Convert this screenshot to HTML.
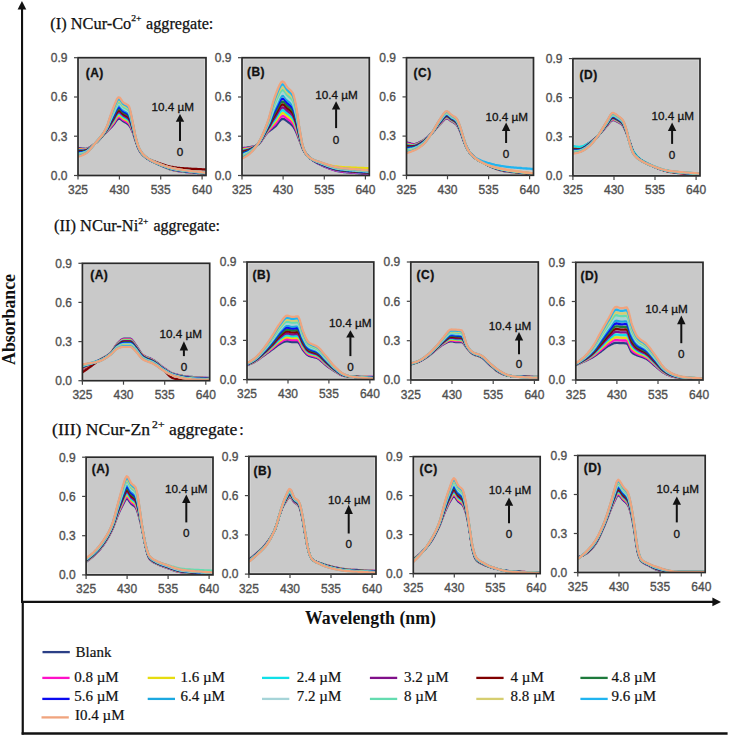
<!DOCTYPE html>
<html><head><meta charset="utf-8"><style>
html,body{margin:0;padding:0;background:#fff;}
svg{display:block;}
.tk{font-family:"Liberation Sans",sans-serif;font-size:12px;fill:#505050;stroke:#505050;stroke-width:0.35px;}
.lab{font-family:"Liberation Sans",sans-serif;font-size:12px;font-weight:bold;fill:#111;stroke:#111;stroke-width:0.3px;letter-spacing:0.5px;}
.an{font-family:"Liberation Sans",sans-serif;font-size:11.7px;fill:#111;stroke:#111;stroke-width:0.3px;}
.hd{font-family:"Liberation Serif",serif;font-size:16px;fill:#111;stroke:#111;stroke-width:0.25px;}
.ax{font-family:"Liberation Serif",serif;font-size:17.8px;font-weight:bold;fill:#111;}
.lg{font-family:"Liberation Serif",serif;font-size:15px;fill:#111;stroke:#111;stroke-width:0.2px;}
</style></head><body>
<svg width="729" height="736" viewBox="0 0 729 736">
<rect width="729" height="736" fill="#fff"/>
<text x="50.3" y="28.6" class="hd" textLength="81.0" lengthAdjust="spacingAndGlyphs">(I) NCur-Co</text><text x="131.2" y="21.0" class="hd" style="font-size:8.6px" textLength="10.3" lengthAdjust="spacingAndGlyphs">2+</text><text x="146.1" y="28.6" class="hd" textLength="67.2" lengthAdjust="spacingAndGlyphs">aggregate:</text>
<text x="54.0" y="231.2" class="hd" textLength="84.3" lengthAdjust="spacingAndGlyphs">(II) NCur-Ni</text><text x="138.2" y="224.4" class="hd" style="font-size:8.6px" textLength="10.2" lengthAdjust="spacingAndGlyphs">2+</text><text x="153.5" y="231.2" class="hd" textLength="66.5" lengthAdjust="spacingAndGlyphs">aggregate:</text>
<text x="52.1" y="435.3" class="hd" textLength="97.9" lengthAdjust="spacingAndGlyphs">(III) NCur-Zn</text><text x="152.1" y="428.0" class="hd" style="font-size:10.2px" textLength="12.4" lengthAdjust="spacingAndGlyphs">2+</text><text x="168.9" y="435.3" class="hd" textLength="68.3" lengthAdjust="spacingAndGlyphs">aggregate</text><text x="239.3" y="435.3" class="hd">:</text>
<rect x="78" y="57.7" width="128.0" height="117.8" fill="#C9C9C9"/>
<rect x="79.5" y="59.2" width="125.0" height="114.8" fill="none" stroke="#D5D5D5" stroke-width="0.9"/>
<clipPath id="c0"><rect x="78" y="57.7" width="128.0" height="117.8"/></clipPath>
<g clip-path="url(#c0)" fill="none" stroke-width="2.3" stroke-linejoin="round">
<path d="M78.0,148.0 79.5,148.2 81.0,148.4 82.5,148.6 84.0,148.7 85.5,148.8 87.0,148.7 88.5,148.1 90.0,147.3 91.5,146.2 93.0,145.1 94.5,143.9 96.0,142.7 97.5,141.4 99.0,139.9 100.5,138.3 102.0,136.6 103.5,135.0 105.0,133.4 106.5,131.9 108.0,130.4 109.5,129.0 111.0,127.5 112.5,125.9 114.0,124.0 115.5,121.8 117.0,119.8 118.5,118.6 120.0,118.8 121.5,119.9 123.0,121.1 124.5,122.0 126.0,122.8 127.5,123.8 129.0,125.0 130.5,127.3 132.0,130.4 133.5,134.2 135.0,139.1 136.5,143.4 138.0,147.5 139.5,150.7 141.0,152.9 142.5,154.7 144.0,156.1 145.5,157.3 147.0,158.4 148.5,159.4 150.0,160.2 151.5,161.0 153.0,161.8 154.5,162.5 156.0,163.2 157.5,163.9 159.0,164.6 160.5,165.3 162.0,166.0 163.5,166.7 165.0,167.3 166.5,168.0 168.0,168.5 169.5,169.1 171.0,169.6 172.5,170.0 174.0,170.4 175.5,170.6 177.0,170.9 178.5,171.1 180.0,171.3 181.5,171.5 183.0,171.7 184.5,171.9 186.0,172.0 187.5,172.2 189.0,172.3 190.5,172.4 192.0,172.6 193.5,172.7 195.0,172.8 196.5,172.9 198.0,173.1 199.5,173.2 201.0,173.3 202.5,173.5 204.0,173.6 205.5,173.7 206.0,173.8" stroke="#2B3F86"/>
<path d="M78.0,148.7 79.5,148.8 81.0,148.9 82.5,149.1 84.0,149.2 85.5,149.2 87.0,149.0 88.5,148.4 90.0,147.5 91.5,146.3 93.0,145.1 94.5,143.9 96.0,142.7 97.5,141.3 99.0,139.8 100.5,138.2 102.0,136.5 103.5,134.8 105.0,133.2 106.5,131.6 108.0,129.9 109.5,128.2 111.0,126.4 112.5,124.7 114.0,122.7 115.5,120.3 117.0,118.2 118.5,117.0 120.0,117.2 121.5,118.4 123.0,119.7 124.5,120.6 126.0,121.4 127.5,122.3 129.0,123.6 130.5,126.1 132.0,129.5 133.5,133.6 135.0,138.7 136.5,143.2 138.0,147.4 139.5,150.6 141.0,152.8 142.5,154.6 144.0,156.0 145.5,157.3 147.0,158.3 148.5,159.3 150.0,160.2 151.5,161.0 153.0,161.7 154.5,162.5 156.0,163.1 157.5,163.8 159.0,164.5 160.5,165.2 162.0,165.9 163.5,166.6 165.0,167.2 166.5,167.8 168.0,168.4 169.5,169.0 171.0,169.4 172.5,169.9 174.0,170.2 175.5,170.5 177.0,170.7 178.5,171.0 180.0,171.2 181.5,171.4 183.0,171.6 184.5,171.7 186.0,171.9 187.5,172.0 189.0,172.2 190.5,172.3 192.0,172.5 193.5,172.6 195.0,172.7 196.5,172.8 198.0,173.0 199.5,173.1 201.0,173.2 202.5,173.4 204.0,173.5 205.5,173.7 206.0,173.7" stroke="#FF10C8"/>
<path d="M78.0,149.4 79.5,149.4 81.0,149.5 82.5,149.6 84.0,149.6 85.5,149.5 87.0,149.3 88.5,148.6 90.0,147.6 91.5,146.5 93.0,145.2 94.5,143.9 96.0,142.7 97.5,141.3 99.0,139.7 100.5,138.1 102.0,136.4 103.5,134.7 105.0,132.9 106.5,131.2 108.0,129.3 109.5,127.4 111.0,125.4 112.5,123.5 114.0,121.3 115.5,118.8 117.0,116.6 118.5,115.4 120.0,115.6 121.5,116.8 123.0,118.2 124.5,119.2 126.0,119.9 127.5,120.9 129.0,122.2 130.5,124.8 132.0,128.6 133.5,133.0 135.0,138.3 136.5,143.0 138.0,147.2 139.5,150.4 141.0,152.7 142.5,154.5 144.0,156.0 145.5,157.2 147.0,158.3 148.5,159.3 150.0,160.1 151.5,160.9 153.0,161.7 154.5,162.4 156.0,163.1 157.5,163.8 159.0,164.5 160.5,165.1 162.0,165.8 163.5,166.5 165.0,167.1 166.5,167.7 168.0,168.3 169.5,168.8 171.0,169.3 172.5,169.7 174.0,170.1 175.5,170.3 177.0,170.6 178.5,170.8 180.0,171.0 181.5,171.2 183.0,171.4 184.5,171.6 186.0,171.8 187.5,171.9 189.0,172.1 190.5,172.2 192.0,172.3 193.5,172.5 195.0,172.6 196.5,172.7 198.0,172.9 199.5,173.0 201.0,173.2 202.5,173.3 204.0,173.4 205.5,173.6 206.0,173.7" stroke="#E6DC10"/>
<path d="M78.0,150.1 79.5,150.1 81.0,150.1 82.5,150.1 84.0,150.0 85.5,149.9 87.0,149.6 88.5,148.8 90.0,147.8 91.5,146.6 93.0,145.3 94.5,143.9 96.0,142.6 97.5,141.2 99.0,139.6 100.5,138.0 102.0,136.3 103.5,134.5 105.0,132.7 106.5,130.8 108.0,128.8 109.5,126.6 111.0,124.4 112.5,122.3 114.0,119.9 115.5,117.3 117.0,115.0 118.5,113.7 120.0,114.0 121.5,115.3 123.0,116.8 124.5,117.7 126.0,118.5 127.5,119.4 129.0,120.7 130.5,123.6 132.0,127.7 133.5,132.4 135.0,137.9 136.5,142.7 138.0,147.0 139.5,150.3 141.0,152.6 142.5,154.4 144.0,155.9 145.5,157.1 147.0,158.2 148.5,159.2 150.0,160.1 151.5,160.9 153.0,161.7 154.5,162.4 156.0,163.0 157.5,163.7 159.0,164.4 160.5,165.1 162.0,165.7 163.5,166.4 165.0,167.0 166.5,167.6 168.0,168.2 169.5,168.7 171.0,169.1 172.5,169.6 174.0,169.9 175.5,170.2 177.0,170.4 178.5,170.7 180.0,170.9 181.5,171.1 183.0,171.3 184.5,171.5 186.0,171.6 187.5,171.8 189.0,171.9 190.5,172.1 192.0,172.2 193.5,172.4 195.0,172.5 196.5,172.6 198.0,172.8 199.5,172.9 201.0,173.1 202.5,173.2 204.0,173.4 205.5,173.5 206.0,173.6" stroke="#10E0E8"/>
<path d="M78.0,150.8 79.5,150.7 81.0,150.6 82.5,150.6 84.0,150.5 85.5,150.3 87.0,149.9 88.5,149.1 90.0,148.0 91.5,146.7 93.0,145.3 94.5,143.9 96.0,142.6 97.5,141.1 99.0,139.6 100.5,137.9 102.0,136.1 103.5,134.3 105.0,132.5 106.5,130.5 108.0,128.2 109.5,125.8 111.0,123.4 112.5,121.0 114.0,118.6 115.5,115.8 117.0,113.4 118.5,112.1 120.0,112.4 121.5,113.8 123.0,115.3 124.5,116.3 126.0,117.1 127.5,118.0 129.0,119.3 130.5,122.4 132.0,126.8 133.5,131.8 135.0,137.6 136.5,142.5 138.0,146.9 139.5,150.2 141.0,152.4 142.5,154.3 144.0,155.8 145.5,157.1 147.0,158.2 148.5,159.1 150.0,160.0 151.5,160.9 153.0,161.6 154.5,162.3 156.0,163.0 157.5,163.7 159.0,164.3 160.5,165.0 162.0,165.7 163.5,166.3 165.0,166.9 166.5,167.5 168.0,168.0 169.5,168.5 171.0,169.0 172.5,169.4 174.0,169.7 175.5,170.0 177.0,170.3 178.5,170.5 180.0,170.7 181.5,171.0 183.0,171.2 184.5,171.3 186.0,171.5 187.5,171.7 189.0,171.8 190.5,172.0 192.0,172.1 193.5,172.3 195.0,172.4 196.5,172.6 198.0,172.7 199.5,172.8 201.0,173.0 202.5,173.1 204.0,173.3 205.5,173.5 206.0,173.5" stroke="#80108A"/>
<path d="M78.0,151.4 79.5,151.3 81.0,151.2 82.5,151.1 84.0,150.9 85.5,150.6 87.0,150.2 88.5,149.3 90.0,148.2 91.5,146.8 93.0,145.4 94.5,144.0 96.0,142.6 97.5,141.1 99.0,139.5 100.5,137.8 102.0,136.0 103.5,134.2 105.0,132.2 106.5,130.1 108.0,127.7 109.5,125.0 111.0,122.3 112.5,119.8 114.0,117.2 115.5,114.3 117.0,111.8 118.5,110.4 120.0,110.8 121.5,112.3 123.0,113.9 124.5,114.9 126.0,115.6 127.5,116.5 129.0,117.9 130.5,121.2 132.0,125.9 133.5,131.1 135.0,137.2 136.5,142.3 138.0,146.7 139.5,150.0 141.0,152.3 142.5,154.2 144.0,155.7 145.5,156.9 147.0,157.9 148.5,158.8 150.0,159.5 151.5,160.2 153.0,160.9 154.5,161.4 156.0,162.0 157.5,162.5 159.0,163.1 160.5,163.6 162.0,164.1 163.5,164.6 165.0,165.1 166.5,165.6 168.0,166.0 169.5,166.4 171.0,166.8 172.5,167.0 174.0,167.3 175.5,167.5 177.0,167.7 178.5,167.8 180.0,168.0 181.5,168.1 183.0,168.2 184.5,168.3 186.0,168.4 187.5,168.5 189.0,168.6 190.5,168.7 192.0,168.8 193.5,168.8 195.0,168.9 196.5,169.0 198.0,169.1 199.5,169.1 201.0,169.2 202.5,169.3 204.0,169.4 205.5,169.5 206.0,169.5" stroke="#800000"/>
<path d="M78.0,152.1 79.5,151.9 81.0,151.8 82.5,151.6 84.0,151.3 85.5,151.0 87.0,150.5 88.5,149.5 90.0,148.3 91.5,146.9 93.0,145.5 94.5,144.0 96.0,142.5 97.5,141.0 99.0,139.4 100.5,137.7 102.0,135.9 103.5,134.0 105.0,132.0 106.5,129.8 108.0,127.1 109.5,124.2 111.0,121.3 112.5,118.6 114.0,115.9 115.5,112.8 117.0,110.2 118.5,108.8 120.0,109.2 121.5,110.7 123.0,112.4 124.5,113.4 126.0,114.2 127.5,115.1 129.0,116.4 130.5,120.0 132.0,125.0 133.5,130.5 135.0,136.8 136.5,142.0 138.0,146.5 139.5,149.9 141.0,152.2 142.5,154.1 144.0,155.7 145.5,156.9 147.0,158.0 148.5,159.0 150.0,159.9 151.5,160.8 153.0,161.5 154.5,162.2 156.0,162.9 157.5,163.6 159.0,164.2 160.5,164.9 162.0,165.5 163.5,166.1 165.0,166.7 166.5,167.3 168.0,167.8 169.5,168.3 171.0,168.7 172.5,169.1 174.0,169.4 175.5,169.7 177.0,170.0 178.5,170.2 180.0,170.5 181.5,170.7 183.0,170.9 184.5,171.1 186.0,171.3 187.5,171.4 189.0,171.6 190.5,171.8 192.0,171.9 193.5,172.1 195.0,172.2 196.5,172.4 198.0,172.5 199.5,172.7 201.0,172.8 202.5,173.0 204.0,173.1 205.5,173.3 206.0,173.4" stroke="#1E7A3C"/>
<path d="M78.0,152.8 79.5,152.5 81.0,152.3 82.5,152.1 84.0,151.8 85.5,151.4 87.0,150.8 88.5,149.8 90.0,148.5 91.5,147.1 93.0,145.5 94.5,144.0 96.0,142.5 97.5,140.9 99.0,139.3 100.5,137.6 102.0,135.8 103.5,133.8 105.0,131.7 106.5,129.4 108.0,126.6 109.5,123.4 111.0,120.3 112.5,117.4 114.0,114.5 115.5,111.3 117.0,108.7 118.5,107.2 120.0,107.5 121.5,109.2 123.0,111.0 124.5,112.0 126.0,112.8 127.5,113.6 129.0,115.0 130.5,118.8 132.0,124.1 133.5,129.9 135.0,136.5 136.5,141.8 138.0,146.4 139.5,149.7 141.0,152.1 142.5,154.0 144.0,155.6 145.5,156.9 147.0,158.0 148.5,159.0 150.0,159.9 151.5,160.7 153.0,161.5 154.5,162.2 156.0,162.9 157.5,163.5 159.0,164.2 160.5,164.8 162.0,165.4 163.5,166.0 165.0,166.6 166.5,167.1 168.0,167.6 169.5,168.1 171.0,168.6 172.5,169.0 174.0,169.3 175.5,169.6 177.0,169.8 178.5,170.1 180.0,170.3 181.5,170.5 183.0,170.8 184.5,170.9 186.0,171.1 187.5,171.3 189.0,171.5 190.5,171.6 192.0,171.8 193.5,172.0 195.0,172.1 196.5,172.3 198.0,172.4 199.5,172.6 201.0,172.7 202.5,172.9 204.0,173.1 205.5,173.2 206.0,173.3" stroke="#0A0AF0"/>
<path d="M78.0,153.5 79.5,153.2 81.0,152.9 82.5,152.6 84.0,152.2 85.5,151.8 87.0,151.1 88.5,150.0 90.0,148.7 91.5,147.2 93.0,145.6 94.5,144.0 96.0,142.5 97.5,140.9 99.0,139.2 100.5,137.5 102.0,135.6 103.5,133.6 105.0,131.5 106.5,129.1 108.0,126.0 109.5,122.6 111.0,119.2 112.5,116.1 114.0,113.1 115.5,109.8 117.0,107.1 118.5,105.5 120.0,105.9 121.5,107.7 123.0,109.5 124.5,110.6 126.0,111.3 127.5,112.2 129.0,113.6 130.5,117.5 132.0,123.2 133.5,129.3 135.0,136.1 136.5,141.6 138.0,146.2 139.5,149.6 141.0,152.0 142.5,153.9 144.0,155.5 145.5,156.8 147.0,157.9 148.5,158.9 150.0,159.8 151.5,160.7 153.0,161.4 154.5,162.1 156.0,162.8 157.5,163.5 159.0,164.1 160.5,164.7 162.0,165.3 163.5,165.9 165.0,166.5 166.5,167.0 168.0,167.5 169.5,168.0 171.0,168.4 172.5,168.8 174.0,169.1 175.5,169.4 177.0,169.7 178.5,170.0 180.0,170.2 181.5,170.4 183.0,170.6 184.5,170.8 186.0,171.0 187.5,171.2 189.0,171.4 190.5,171.5 192.0,171.7 193.5,171.9 195.0,172.0 196.5,172.2 198.0,172.3 199.5,172.5 201.0,172.6 202.5,172.8 204.0,173.0 205.5,173.2 206.0,173.2" stroke="#1CA8E0"/>
<path d="M78.0,154.2 79.5,153.8 81.0,153.4 82.5,153.1 84.0,152.7 85.5,152.1 87.0,151.4 88.5,150.3 90.0,148.9 91.5,147.3 93.0,145.7 94.5,144.0 96.0,142.4 97.5,140.8 99.0,139.2 100.5,137.4 102.0,135.5 103.5,133.5 105.0,131.3 106.5,128.7 108.0,125.5 109.5,121.8 111.0,118.2 112.5,114.9 114.0,111.8 115.5,108.4 117.0,105.5 118.5,103.9 120.0,104.3 121.5,106.2 123.0,108.1 124.5,109.1 126.0,109.9 127.5,110.7 129.0,112.1 130.5,116.3 132.0,122.3 133.5,128.7 135.0,135.7 136.5,141.3 138.0,146.0 139.5,149.5 141.0,151.9 142.5,153.9 144.0,155.4 145.5,156.7 147.0,157.8 148.5,158.9 150.0,159.8 151.5,160.6 153.0,161.4 154.5,162.1 156.0,162.8 157.5,163.4 159.0,164.0 160.5,164.7 162.0,165.3 163.5,165.8 165.0,166.4 166.5,166.9 168.0,167.4 169.5,167.9 171.0,168.3 172.5,168.7 174.0,169.0 175.5,169.3 177.0,169.6 178.5,169.8 180.0,170.0 181.5,170.3 183.0,170.5 184.5,170.7 186.0,170.9 187.5,171.1 189.0,171.2 190.5,171.4 192.0,171.6 193.5,171.7 195.0,171.9 196.5,172.1 198.0,172.2 199.5,172.4 201.0,172.6 202.5,172.7 204.0,172.9 205.5,173.1 206.0,173.2" stroke="#A6D4D8"/>
<path d="M78.0,154.9 79.5,154.4 81.0,154.0 82.5,153.6 84.0,153.1 85.5,152.5 87.0,151.7 88.5,150.5 90.0,149.1 91.5,147.4 93.0,145.7 94.5,144.0 96.0,142.4 97.5,140.8 99.0,139.1 100.5,137.3 102.0,135.4 103.5,133.3 105.0,131.0 106.5,128.4 108.0,124.9 109.5,121.0 111.0,117.2 112.5,113.7 114.0,110.4 115.5,106.9 117.0,103.9 118.5,102.3 120.0,102.7 121.5,104.6 123.0,106.6 124.5,107.7 126.0,108.4 127.5,109.3 129.0,110.7 130.5,115.1 132.0,121.4 133.5,128.1 135.0,135.4 136.5,141.1 138.0,145.8 139.5,149.3 141.0,151.8 142.5,153.8 144.0,155.4 145.5,156.7 147.0,157.8 148.5,158.8 150.0,159.7 151.5,160.6 153.0,161.3 154.5,162.1 156.0,162.7 157.5,163.4 159.0,164.0 160.5,164.6 162.0,165.2 163.5,165.7 165.0,166.3 166.5,166.8 168.0,167.3 169.5,167.7 171.0,168.1 172.5,168.5 174.0,168.8 175.5,169.1 177.0,169.4 178.5,169.7 180.0,169.9 181.5,170.1 183.0,170.4 184.5,170.6 186.0,170.8 187.5,170.9 189.0,171.1 190.5,171.3 192.0,171.5 193.5,171.6 195.0,171.8 196.5,172.0 198.0,172.1 199.5,172.3 201.0,172.5 202.5,172.7 204.0,172.8 205.5,173.0 206.0,173.1" stroke="#64DCB0"/>
<path d="M78.0,155.5 79.5,155.0 81.0,154.6 82.5,154.1 84.0,153.5 85.5,152.9 87.0,152.0 88.5,150.7 90.0,149.2 91.5,147.6 93.0,145.8 94.5,144.1 96.0,142.4 97.5,140.7 99.0,139.0 100.5,137.2 102.0,135.3 103.5,133.1 105.0,130.8 106.5,128.0 108.0,124.4 109.5,120.3 111.0,116.1 112.5,112.5 114.0,109.0 115.5,105.4 117.0,102.3 118.5,100.6 120.0,101.1 121.5,103.1 123.0,105.2 124.5,106.3 126.0,107.0 127.5,107.8 129.0,109.3 130.5,113.9 132.0,120.6 133.5,127.4 135.0,135.0 136.5,140.9 138.0,145.7 139.5,149.2 141.0,151.7 142.5,153.7 144.0,155.3 145.5,156.6 147.0,157.7 148.5,158.8 150.0,159.7 151.5,160.5 153.0,161.3 154.5,162.0 156.0,162.7 157.5,163.3 159.0,163.9 160.5,164.5 162.0,165.1 163.5,165.6 165.0,166.2 166.5,166.7 168.0,167.1 169.5,167.6 171.0,168.0 172.5,168.4 174.0,168.7 175.5,169.0 177.0,169.3 178.5,169.5 180.0,169.8 181.5,170.0 183.0,170.2 184.5,170.4 186.0,170.6 187.5,170.8 189.0,171.0 190.5,171.2 192.0,171.4 193.5,171.5 195.0,171.7 196.5,171.9 198.0,172.0 199.5,172.2 201.0,172.4 202.5,172.6 204.0,172.8 205.5,173.0 206.0,173.0" stroke="#D6CE70"/>
<path d="M78.0,156.2 79.5,155.7 81.0,155.1 82.5,154.6 84.0,154.0 85.5,153.2 87.0,152.3 88.5,151.0 90.0,149.4 91.5,147.7 93.0,145.9 94.5,144.1 96.0,142.3 97.5,140.6 99.0,138.9 100.5,137.1 102.0,135.1 103.5,133.0 105.0,130.6 106.5,127.7 108.0,123.8 109.5,119.5 111.0,115.1 112.5,111.3 114.0,107.7 115.5,103.9 117.0,100.7 118.5,99.0 120.0,99.5 121.5,101.6 123.0,103.8 124.5,104.8 126.0,105.6 127.5,106.4 129.0,107.8 130.5,112.7 132.0,119.7 133.5,126.8 135.0,134.6 136.5,140.6 138.0,145.5 139.5,149.1 141.0,151.5 142.5,153.6 144.0,155.2 145.5,156.5 147.0,157.7 148.5,158.7 150.0,159.6 151.5,160.5 153.0,161.2 154.5,162.0 156.0,162.6 157.5,163.3 159.0,163.9 160.5,164.4 162.0,165.0 163.5,165.6 165.0,166.1 166.5,166.5 168.0,167.0 169.5,167.4 171.0,167.8 172.5,168.2 174.0,168.5 175.5,168.8 177.0,169.1 178.5,169.4 180.0,169.6 181.5,169.9 183.0,170.1 184.5,170.3 186.0,170.5 187.5,170.7 189.0,170.9 190.5,171.1 192.0,171.3 193.5,171.4 195.0,171.6 196.5,171.8 198.0,172.0 199.5,172.1 201.0,172.3 202.5,172.5 204.0,172.7 205.5,172.9 206.0,173.0" stroke="#20B4F0"/>
<path d="M78.0,156.9 79.5,156.3 81.0,155.7 82.5,155.1 84.0,154.4 85.5,153.6 87.0,152.6 88.5,151.2 90.0,149.6 91.5,147.8 93.0,145.9 94.5,144.1 96.0,142.3 97.5,140.6 99.0,138.8 100.5,137.0 102.0,135.0 103.5,132.8 105.0,130.3 106.5,127.3 108.0,123.3 109.5,118.7 111.0,114.1 112.5,110.0 114.0,106.3 115.5,102.4 117.0,99.1 118.5,97.3 120.0,97.8 121.5,100.1 123.0,102.3 124.5,103.4 126.0,104.1 127.5,104.9 129.0,106.4 130.5,111.4 132.0,118.8 133.5,126.2 135.0,134.2 136.5,140.4 138.0,145.3 139.5,148.9 141.0,151.4 142.5,153.5 144.0,155.1 145.5,156.4 147.0,157.6 148.5,158.6 150.0,159.6 151.5,160.4 153.0,161.2 154.5,161.9 156.0,162.6 157.5,163.2 159.0,163.8 160.5,164.4 162.0,164.9 163.5,165.5 165.0,166.0 166.5,166.4 168.0,166.9 169.5,167.3 171.0,167.7 172.5,168.1 174.0,168.4 175.5,168.7 177.0,169.0 178.5,169.2 180.0,169.5 181.5,169.7 183.0,170.0 184.5,170.2 186.0,170.4 187.5,170.6 189.0,170.8 190.5,171.0 192.0,171.1 193.5,171.3 195.0,171.5 196.5,171.7 198.0,171.9 199.5,172.0 201.0,172.2 202.5,172.4 204.0,172.6 205.5,172.8 206.0,172.9" stroke="#F0A47E"/>
</g>
<rect x="78" y="57.7" width="128.0" height="117.8" fill="none" stroke="#2a2a2a" stroke-width="1.7"/>
<line x1="74" y1="175.5" x2="78" y2="175.5" stroke="#444" stroke-width="1.2"/>
<text x="67.5" y="179.8" class="tk" text-anchor="end">0.0</text>
<line x1="74" y1="136.2" x2="78" y2="136.2" stroke="#444" stroke-width="1.2"/>
<text x="67.5" y="140.5" class="tk" text-anchor="end">0.3</text>
<line x1="74" y1="97.0" x2="78" y2="97.0" stroke="#444" stroke-width="1.2"/>
<text x="67.5" y="101.3" class="tk" text-anchor="end">0.6</text>
<line x1="74" y1="57.7" x2="78" y2="57.7" stroke="#444" stroke-width="1.2"/>
<text x="67.5" y="62.0" class="tk" text-anchor="end">0.9</text>
<line x1="78.0" y1="175.5" x2="78.0" y2="179.5" stroke="#444" stroke-width="1.2"/>
<text x="78.0" y="194.0" class="tk" text-anchor="middle">325</text>
<line x1="119.4" y1="175.5" x2="119.4" y2="179.5" stroke="#444" stroke-width="1.2"/>
<text x="119.4" y="194.0" class="tk" text-anchor="middle">430</text>
<line x1="160.7" y1="175.5" x2="160.7" y2="179.5" stroke="#444" stroke-width="1.2"/>
<text x="160.7" y="194.0" class="tk" text-anchor="middle">535</text>
<line x1="202.1" y1="175.5" x2="202.1" y2="179.5" stroke="#444" stroke-width="1.2"/>
<text x="202.1" y="194.0" class="tk" text-anchor="middle">640</text>
<text x="85.7" y="77" class="lab">(A)</text>
<text x="172.7" y="110.6" class="an" text-anchor="middle">10.4 µM</text>
<path d="M175.8,121.7 L180.0,113.9 L184.2,121.7 Z" fill="#111"/>
<line x1="180" y1="121.2" x2="180" y2="141.1" stroke="#111" stroke-width="2"/>
<text x="180" y="155.9" class="an" text-anchor="middle">0</text>
<rect x="242" y="57.7" width="127.3" height="117.8" fill="#C9C9C9"/>
<rect x="243.5" y="59.2" width="124.3" height="114.8" fill="none" stroke="#D5D5D5" stroke-width="0.9"/>
<clipPath id="c1"><rect x="242" y="57.7" width="127.3" height="117.8"/></clipPath>
<g clip-path="url(#c1)" fill="none" stroke-width="2.3" stroke-linejoin="round">
<path d="M242.0,148.1 243.5,148.0 245.0,147.8 246.5,147.7 248.0,147.5 249.5,147.3 251.0,147.0 252.5,146.7 254.0,146.4 255.5,145.9 257.0,145.3 258.5,144.3 260.0,142.7 261.5,140.7 263.0,138.5 264.5,136.3 266.0,134.2 267.5,132.5 269.0,131.2 270.5,130.1 272.0,129.0 273.5,127.9 275.0,126.7 276.5,125.1 278.0,123.1 279.5,121.1 281.0,119.6 282.5,118.8 284.0,119.1 285.5,120.0 287.0,121.1 288.5,122.2 290.0,123.3 291.5,124.6 293.0,126.2 294.5,128.6 296.0,131.6 297.5,135.0 299.0,139.0 300.5,142.9 302.0,146.9 303.5,150.2 305.0,152.6 306.5,154.6 308.0,156.3 309.5,157.7 311.0,158.9 312.5,160.1 314.0,161.1 315.5,162.1 317.0,162.9 318.5,163.7 320.0,164.5 321.5,165.2 323.0,165.9 324.5,166.6 326.0,167.2 327.5,167.8 329.0,168.4 330.5,169.0 332.0,169.5 333.5,170.0 335.0,170.4 336.5,170.8 338.0,171.1 339.5,171.4 341.0,171.6 342.5,171.8 344.0,172.0 345.5,172.1 347.0,172.3 348.5,172.4 350.0,172.6 351.5,172.7 353.0,172.8 354.5,172.9 356.0,173.0 357.5,173.2 359.0,173.3 360.5,173.4 362.0,173.5 363.5,173.6 365.0,173.7 366.5,173.8 368.0,173.9 369.3,174.1" stroke="#2B3F86"/>
<path d="M242.0,149.0 243.5,148.7 245.0,148.5 246.5,148.3 248.0,148.1 249.5,147.8 251.0,147.4 252.5,147.1 254.0,146.6 255.5,146.0 257.0,145.3 258.5,144.2 260.0,142.5 261.5,140.5 263.0,138.2 264.5,135.8 266.0,133.6 267.5,131.7 269.0,130.2 270.5,128.7 272.0,127.3 273.5,125.8 275.0,124.4 276.5,122.6 278.0,120.4 279.5,118.3 281.0,116.7 282.5,116.0 284.0,116.3 285.5,117.3 287.0,118.5 288.5,119.6 290.0,120.7 291.5,122.0 293.0,123.7 294.5,126.3 296.0,129.6 297.5,133.4 299.0,137.9 300.5,142.2 302.0,146.6 303.5,150.1 305.0,152.5 306.5,154.6 308.0,156.3 309.5,157.7 311.0,158.9 312.5,160.0 314.0,161.0 315.5,161.9 317.0,162.8 318.5,163.6 320.0,164.3 321.5,165.0 323.0,165.7 324.5,166.3 326.0,167.0 327.5,167.6 329.0,168.2 330.5,168.7 332.0,169.3 333.5,169.7 335.0,170.2 336.5,170.5 338.0,170.8 339.5,171.1 341.0,171.3 342.5,171.5 344.0,171.7 345.5,171.8 347.0,172.0 348.5,172.2 350.0,172.3 351.5,172.4 353.0,172.5 354.5,172.7 356.0,172.8 357.5,172.9 359.0,173.0 360.5,173.1 362.0,173.2 363.5,173.3 365.0,173.4 366.5,173.5 368.0,173.7 369.3,173.8" stroke="#FF10C8"/>
<path d="M242.0,149.8 243.5,149.5 245.0,149.2 246.5,148.9 248.0,148.6 249.5,148.3 251.0,147.9 252.5,147.4 254.0,146.8 255.5,146.1 257.0,145.3 258.5,144.1 260.0,142.3 261.5,140.2 263.0,137.8 264.5,135.4 266.0,133.0 267.5,131.0 269.0,129.1 270.5,127.3 272.0,125.5 273.5,123.8 275.0,122.0 276.5,120.0 278.0,117.7 279.5,115.6 281.0,113.9 282.5,113.1 284.0,113.4 285.5,114.6 287.0,115.9 288.5,117.0 290.0,118.1 291.5,119.5 293.0,121.2 294.5,124.0 296.0,127.6 297.5,131.9 299.0,136.8 300.5,141.6 302.0,146.3 303.5,149.9 305.0,152.5 306.5,154.6 308.0,156.3 309.5,157.5 311.0,158.6 312.5,159.5 314.0,160.3 315.5,161.0 317.0,161.6 318.5,162.2 320.0,162.7 321.5,163.2 323.0,163.6 324.5,164.1 326.0,164.5 327.5,164.9 329.0,165.2 330.5,165.5 332.0,165.8 333.5,166.1 335.0,166.3 336.5,166.5 338.0,166.7 339.5,166.9 341.0,167.0 342.5,167.1 344.0,167.2 345.5,167.3 347.0,167.3 348.5,167.4 350.0,167.5 351.5,167.6 353.0,167.6 354.5,167.7 356.0,167.7 357.5,167.8 359.0,167.9 360.5,167.9 362.0,168.0 363.5,168.0 365.0,168.1 366.5,168.1 368.0,168.2 369.3,168.3" stroke="#E6DC10"/>
<path d="M242.0,150.6 243.5,150.3 245.0,149.9 246.5,149.6 248.0,149.2 249.5,148.8 251.0,148.3 252.5,147.7 254.0,147.0 255.5,146.2 257.0,145.3 258.5,144.0 260.0,142.1 261.5,139.9 263.0,137.4 264.5,134.9 266.0,132.4 267.5,130.2 269.0,128.1 270.5,126.0 272.0,123.8 273.5,121.7 275.0,119.7 276.5,117.5 278.0,115.1 279.5,112.8 281.0,111.0 282.5,110.2 284.0,110.6 285.5,111.9 287.0,113.3 288.5,114.4 290.0,115.6 291.5,116.9 293.0,118.7 294.5,121.7 296.0,125.6 297.5,130.3 299.0,135.8 300.5,140.9 302.0,146.0 303.5,149.8 305.0,152.4 306.5,154.6 308.0,156.3 309.5,157.7 311.0,158.8 312.5,159.9 314.0,160.8 315.5,161.7 317.0,162.5 318.5,163.2 320.0,163.9 321.5,164.6 323.0,165.2 324.5,165.9 326.0,166.5 327.5,167.1 329.0,167.7 330.5,168.2 332.0,168.7 333.5,169.2 335.0,169.6 336.5,170.0 338.0,170.3 339.5,170.5 341.0,170.7 342.5,170.9 344.0,171.1 345.5,171.3 347.0,171.4 348.5,171.6 350.0,171.7 351.5,171.8 353.0,172.0 354.5,172.1 356.0,172.2 357.5,172.3 359.0,172.4 360.5,172.5 362.0,172.6 363.5,172.7 365.0,172.9 366.5,173.0 368.0,173.1 369.3,173.2" stroke="#10E0E8"/>
<path d="M242.0,151.4 243.5,151.0 245.0,150.6 246.5,150.2 248.0,149.8 249.5,149.3 251.0,148.7 252.5,148.0 254.0,147.2 255.5,146.3 257.0,145.3 258.5,143.9 260.0,141.9 261.5,139.6 263.0,137.1 264.5,134.4 266.0,131.8 267.5,129.4 269.0,127.1 270.5,124.6 272.0,122.0 273.5,119.6 275.0,117.4 276.5,115.0 278.0,112.4 279.5,110.0 281.0,108.2 282.5,107.3 284.0,107.8 285.5,109.1 287.0,110.7 288.5,111.9 290.0,113.0 291.5,114.3 293.0,116.1 294.5,119.4 296.0,123.6 297.5,128.7 299.0,134.7 300.5,140.2 302.0,145.6 303.5,149.7 305.0,152.4 306.5,154.6 308.0,156.3 309.5,157.6 311.0,158.8 312.5,159.8 314.0,160.8 315.5,161.6 317.0,162.4 318.5,163.1 320.0,163.7 321.5,164.4 323.0,165.0 324.5,165.7 326.0,166.3 327.5,166.9 329.0,167.4 330.5,168.0 332.0,168.5 333.5,168.9 335.0,169.3 336.5,169.7 338.0,170.0 339.5,170.2 341.0,170.4 342.5,170.6 344.0,170.8 345.5,171.0 347.0,171.2 348.5,171.3 350.0,171.4 351.5,171.6 353.0,171.7 354.5,171.8 356.0,171.9 357.5,172.0 359.0,172.1 360.5,172.2 362.0,172.3 363.5,172.5 365.0,172.6 366.5,172.7 368.0,172.8 369.3,172.9" stroke="#80108A"/>
<path d="M242.0,152.3 243.5,151.8 245.0,151.3 246.5,150.9 248.0,150.4 249.5,149.8 251.0,149.1 252.5,148.3 254.0,147.5 255.5,146.5 257.0,145.3 258.5,143.7 260.0,141.7 261.5,139.3 263.0,136.7 264.5,134.0 266.0,131.2 267.5,128.6 269.0,126.1 270.5,123.2 272.0,120.3 273.5,117.5 275.0,115.0 276.5,112.5 278.0,109.8 279.5,107.2 281.0,105.3 282.5,104.4 284.0,104.9 285.5,106.4 287.0,108.1 288.5,109.3 290.0,110.4 291.5,111.8 293.0,113.6 294.5,117.0 296.0,121.6 297.5,127.1 299.0,133.7 300.5,139.6 302.0,145.3 303.5,149.5 305.0,152.3 306.5,154.6 308.0,156.3 309.5,157.6 311.0,158.8 312.5,159.8 314.0,160.7 315.5,161.5 317.0,162.2 318.5,162.9 320.0,163.5 321.5,164.2 323.0,164.8 324.5,165.4 326.0,166.0 327.5,166.6 329.0,167.2 330.5,167.7 332.0,168.2 333.5,168.6 335.0,169.1 336.5,169.4 338.0,169.7 339.5,170.0 341.0,170.2 342.5,170.4 344.0,170.5 345.5,170.7 347.0,170.9 348.5,171.0 350.0,171.2 351.5,171.3 353.0,171.4 354.5,171.5 356.0,171.6 357.5,171.7 359.0,171.8 360.5,172.0 362.0,172.1 363.5,172.2 365.0,172.3 366.5,172.4 368.0,172.5 369.3,172.7" stroke="#800000"/>
<path d="M242.0,153.1 243.5,152.6 245.0,152.0 246.5,151.5 248.0,150.9 249.5,150.3 251.0,149.5 252.5,148.7 254.0,147.7 255.5,146.6 257.0,145.3 258.5,143.6 260.0,141.5 261.5,139.0 263.0,136.3 264.5,133.5 266.0,130.6 267.5,127.8 269.0,125.0 270.5,121.9 272.0,118.6 273.5,115.4 275.0,112.7 276.5,110.0 278.0,107.1 279.5,104.5 281.0,102.5 282.5,101.6 284.0,102.1 285.5,103.7 287.0,105.4 288.5,106.7 290.0,107.9 291.5,109.2 293.0,111.1 294.5,114.7 296.0,119.6 297.5,125.6 299.0,132.6 300.5,138.9 302.0,145.0 303.5,149.4 305.0,152.2 306.5,154.6 308.0,156.3 309.5,157.6 311.0,158.7 312.5,159.7 314.0,160.6 315.5,161.4 317.0,162.1 318.5,162.7 320.0,163.4 321.5,164.0 323.0,164.6 324.5,165.2 326.0,165.8 327.5,166.4 329.0,166.9 330.5,167.4 332.0,167.9 333.5,168.4 335.0,168.8 336.5,169.1 338.0,169.4 339.5,169.7 341.0,169.9 342.5,170.1 344.0,170.3 345.5,170.4 347.0,170.6 348.5,170.7 350.0,170.9 351.5,171.0 353.0,171.1 354.5,171.2 356.0,171.3 357.5,171.5 359.0,171.6 360.5,171.7 362.0,171.8 363.5,171.9 365.0,172.0 366.5,172.1 368.0,172.3 369.3,172.4" stroke="#1E7A3C"/>
<path d="M242.0,153.9 243.5,153.3 245.0,152.7 246.5,152.1 248.0,151.5 249.5,150.8 251.0,150.0 252.5,149.0 254.0,147.9 255.5,146.7 257.0,145.3 258.5,143.5 260.0,141.3 261.5,138.8 263.0,136.0 264.5,133.0 266.0,130.0 267.5,127.1 269.0,124.0 270.5,120.5 272.0,116.8 273.5,113.3 275.0,110.4 276.5,107.5 278.0,104.4 279.5,101.7 281.0,99.6 282.5,98.7 284.0,99.3 285.5,100.9 287.0,102.8 288.5,104.2 290.0,105.3 291.5,106.6 293.0,108.6 294.5,112.4 296.0,117.7 297.5,124.0 299.0,131.6 300.5,138.3 302.0,144.7 303.5,149.3 305.0,152.2 306.5,154.5 308.0,156.3 309.5,157.6 311.0,158.7 312.5,159.6 314.0,160.5 315.5,161.2 317.0,161.9 318.5,162.6 320.0,163.2 321.5,163.8 323.0,164.4 324.5,165.0 326.0,165.6 327.5,166.1 329.0,166.7 330.5,167.2 332.0,167.7 333.5,168.1 335.0,168.5 336.5,168.9 338.0,169.2 339.5,169.4 341.0,169.6 342.5,169.8 344.0,170.0 345.5,170.1 347.0,170.3 348.5,170.4 350.0,170.6 351.5,170.7 353.0,170.8 354.5,170.9 356.0,171.1 357.5,171.2 359.0,171.3 360.5,171.4 362.0,171.5 363.5,171.6 365.0,171.7 366.5,171.8 368.0,172.0 369.3,172.1" stroke="#0A0AF0"/>
<path d="M242.0,154.7 243.5,154.1 245.0,153.4 246.5,152.8 248.0,152.1 249.5,151.3 251.0,150.4 252.5,149.3 254.0,148.1 255.5,146.8 257.0,145.3 258.5,143.4 260.0,141.1 261.5,138.5 263.0,135.6 264.5,132.5 266.0,129.4 267.5,126.3 269.0,123.0 270.5,119.1 272.0,115.1 273.5,111.2 275.0,108.0 276.5,105.0 278.0,101.8 279.5,98.9 281.0,96.8 282.5,95.8 284.0,96.4 285.5,98.2 287.0,100.2 288.5,101.6 290.0,102.7 291.5,104.1 293.0,106.1 294.5,110.1 296.0,115.7 297.5,122.4 299.0,130.5 300.5,137.6 302.0,144.4 303.5,149.1 305.0,152.1 306.5,154.5 308.0,156.3 309.5,157.6 311.0,158.7 312.5,159.6 314.0,160.4 315.5,161.1 317.0,161.8 318.5,162.4 320.0,163.0 321.5,163.6 323.0,164.2 324.5,164.7 326.0,165.3 327.5,165.9 329.0,166.4 330.5,166.9 332.0,167.4 333.5,167.8 335.0,168.2 336.5,168.6 338.0,168.9 339.5,169.1 341.0,169.3 342.5,169.5 344.0,169.7 345.5,169.9 347.0,170.0 348.5,170.2 350.0,170.3 351.5,170.4 353.0,170.5 354.5,170.7 356.0,170.8 357.5,170.9 359.0,171.0 360.5,171.1 362.0,171.2 363.5,171.3 365.0,171.4 366.5,171.6 368.0,171.7 369.3,171.8" stroke="#1CA8E0"/>
<path d="M242.0,155.6 243.5,154.8 245.0,154.1 246.5,153.4 248.0,152.7 249.5,151.8 251.0,150.8 252.5,149.6 254.0,148.4 255.5,146.9 257.0,145.3 258.5,143.3 260.0,140.9 261.5,138.2 263.0,135.2 264.5,132.1 266.0,128.8 267.5,125.5 269.0,122.0 270.5,117.8 272.0,113.3 273.5,109.1 275.0,105.7 276.5,102.4 278.0,99.1 279.5,96.1 281.0,93.9 282.5,92.9 284.0,93.6 285.5,95.5 287.0,97.6 288.5,99.0 290.0,100.2 291.5,101.5 293.0,103.5 294.5,107.8 296.0,113.7 297.5,120.8 299.0,129.4 300.5,137.0 302.0,144.0 303.5,149.0 305.0,152.1 306.5,154.5 308.0,156.3 309.5,157.6 311.0,158.6 312.5,159.5 314.0,160.3 315.5,161.0 317.0,161.6 318.5,162.2 320.0,162.8 321.5,163.4 323.0,163.9 324.5,164.5 326.0,165.1 327.5,165.6 329.0,166.2 330.5,166.7 332.0,167.1 333.5,167.6 335.0,168.0 336.5,168.3 338.0,168.6 339.5,168.8 341.0,169.0 342.5,169.2 344.0,169.4 345.5,169.6 347.0,169.7 348.5,169.9 350.0,170.0 351.5,170.1 353.0,170.3 354.5,170.4 356.0,170.5 357.5,170.6 359.0,170.7 360.5,170.8 362.0,170.9 363.5,171.0 365.0,171.2 366.5,171.3 368.0,171.4 369.3,171.5" stroke="#A6D4D8"/>
<path d="M242.0,156.4 243.5,155.6 245.0,154.8 246.5,154.1 248.0,153.2 249.5,152.3 251.0,151.2 252.5,150.0 254.0,148.6 255.5,147.0 257.0,145.3 258.5,143.2 260.0,140.7 261.5,137.9 263.0,134.8 264.5,131.6 266.0,128.2 267.5,124.7 269.0,120.9 270.5,116.4 272.0,111.6 273.5,107.0 275.0,103.3 276.5,99.9 278.0,96.5 279.5,93.4 281.0,91.1 282.5,90.1 284.0,90.7 285.5,92.8 287.0,95.0 288.5,96.4 290.0,97.6 291.5,98.9 293.0,101.0 294.5,105.5 296.0,111.7 297.5,119.3 299.0,128.4 300.5,136.3 302.0,143.7 303.5,148.9 305.0,152.0 306.5,154.5 308.0,156.3 309.5,157.6 311.0,158.6 312.5,159.5 314.0,160.2 315.5,160.9 317.0,161.5 318.5,162.0 320.0,162.6 321.5,163.2 323.0,163.7 324.5,164.3 326.0,164.8 327.5,165.4 329.0,165.9 330.5,166.4 332.0,166.9 333.5,167.3 335.0,167.7 336.5,168.0 338.0,168.3 339.5,168.5 341.0,168.8 342.5,168.9 344.0,169.1 345.5,169.3 347.0,169.4 348.5,169.6 350.0,169.7 351.5,169.9 353.0,170.0 354.5,170.1 356.0,170.2 357.5,170.3 359.0,170.4 360.5,170.5 362.0,170.7 363.5,170.8 365.0,170.9 366.5,171.0 368.0,171.1 369.3,171.2" stroke="#64DCB0"/>
<path d="M242.0,157.2 243.5,156.4 245.0,155.5 246.5,154.7 248.0,153.8 249.5,152.8 251.0,151.6 252.5,150.3 254.0,148.8 255.5,147.1 257.0,145.2 258.5,143.0 260.0,140.5 261.5,137.6 263.0,134.5 264.5,131.1 266.0,127.6 267.5,124.0 269.0,119.9 270.5,115.0 272.0,109.8 273.5,105.0 275.0,101.0 276.5,97.4 278.0,93.8 279.5,90.6 281.0,88.2 282.5,87.2 284.0,87.9 285.5,90.0 287.0,92.3 288.5,93.9 290.0,95.0 291.5,96.4 293.0,98.5 294.5,103.2 296.0,109.7 297.5,117.7 299.0,127.3 300.5,135.6 302.0,143.4 303.5,148.7 305.0,152.0 306.5,154.5 308.0,156.4 309.5,157.6 311.0,158.6 312.5,159.4 314.0,160.1 315.5,160.8 317.0,161.3 318.5,161.9 320.0,162.4 321.5,163.0 323.0,163.5 324.5,164.1 326.0,164.6 327.5,165.1 329.0,165.6 330.5,166.1 332.0,166.6 333.5,167.0 335.0,167.4 336.5,167.7 338.0,168.0 339.5,168.3 341.0,168.5 342.5,168.7 344.0,168.8 345.5,169.0 347.0,169.2 348.5,169.3 350.0,169.4 351.5,169.6 353.0,169.7 354.5,169.8 356.0,169.9 357.5,170.0 359.0,170.1 360.5,170.3 362.0,170.4 363.5,170.5 365.0,170.6 366.5,170.7 368.0,170.8 369.3,171.0" stroke="#D6CE70"/>
<path d="M242.0,158.1 243.5,157.1 245.0,156.2 246.5,155.3 248.0,154.4 249.5,153.3 251.0,152.0 252.5,150.6 254.0,149.0 255.5,147.2 257.0,145.2 258.5,142.9 260.0,140.3 261.5,137.3 263.0,134.1 264.5,130.6 266.0,127.0 267.5,123.2 269.0,118.9 270.5,113.6 272.0,108.1 273.5,102.9 275.0,98.7 276.5,94.9 278.0,91.1 279.5,87.8 281.0,85.4 282.5,84.3 284.0,85.1 285.5,87.3 287.0,89.7 288.5,91.3 290.0,92.5 291.5,93.8 293.0,96.0 294.5,100.8 296.0,107.7 297.5,116.1 299.0,126.3 300.5,135.0 302.0,143.1 303.5,148.6 305.0,151.9 306.5,154.5 308.0,156.4 309.5,157.6 311.0,158.5 312.5,159.3 314.0,160.0 315.5,160.7 317.0,161.2 318.5,161.7 320.0,162.2 321.5,162.7 323.0,163.3 324.5,163.8 326.0,164.4 327.5,164.9 329.0,165.4 330.5,165.9 332.0,166.3 333.5,166.7 335.0,167.1 336.5,167.5 338.0,167.7 339.5,168.0 341.0,168.2 342.5,168.4 344.0,168.6 345.5,168.7 347.0,168.9 348.5,169.0 350.0,169.2 351.5,169.3 353.0,169.4 354.5,169.5 356.0,169.6 357.5,169.8 359.0,169.9 360.5,170.0 362.0,170.1 363.5,170.2 365.0,170.3 366.5,170.4 368.0,170.6 369.3,170.7" stroke="#20B4F0"/>
<path d="M242.0,158.9 243.5,157.9 245.0,156.9 246.5,156.0 248.0,155.0 249.5,153.8 251.0,152.5 252.5,150.9 254.0,149.2 255.5,147.3 257.0,145.2 258.5,142.8 260.0,140.1 261.5,137.0 263.0,133.7 264.5,130.2 266.0,126.4 267.5,122.4 269.0,117.9 270.5,112.3 272.0,106.3 273.5,100.8 275.0,96.3 276.5,92.4 278.0,88.5 279.5,85.1 281.0,82.5 282.5,81.4 284.0,82.2 285.5,84.6 287.0,87.1 288.5,88.7 290.0,89.9 291.5,91.3 293.0,93.4 294.5,98.5 296.0,105.7 297.5,114.5 299.0,125.2 300.5,134.3 302.0,142.7 303.5,148.5 305.0,151.9 306.5,154.5 308.0,156.4 309.5,157.6 311.0,158.5 312.5,159.3 314.0,160.0 315.5,160.5 317.0,161.1 318.5,161.5 320.0,162.0 321.5,162.5 323.0,163.1 324.5,163.6 326.0,164.1 327.5,164.6 329.0,165.1 330.5,165.6 332.0,166.1 333.5,166.5 335.0,166.8 336.5,167.2 338.0,167.5 339.5,167.7 341.0,167.9 342.5,168.1 344.0,168.3 345.5,168.4 347.0,168.6 348.5,168.7 350.0,168.9 351.5,169.0 353.0,169.1 354.5,169.2 356.0,169.4 357.5,169.5 359.0,169.6 360.5,169.7 362.0,169.8 363.5,169.9 365.0,170.0 366.5,170.2 368.0,170.3 369.3,170.4" stroke="#F0A47E"/>
</g>
<rect x="242" y="57.7" width="127.3" height="117.8" fill="none" stroke="#2a2a2a" stroke-width="1.7"/>
<line x1="238" y1="175.5" x2="242" y2="175.5" stroke="#444" stroke-width="1.2"/>
<text x="231.5" y="179.8" class="tk" text-anchor="end">0.0</text>
<line x1="238" y1="136.2" x2="242" y2="136.2" stroke="#444" stroke-width="1.2"/>
<text x="231.5" y="140.5" class="tk" text-anchor="end">0.3</text>
<line x1="238" y1="97.0" x2="242" y2="97.0" stroke="#444" stroke-width="1.2"/>
<text x="231.5" y="101.3" class="tk" text-anchor="end">0.6</text>
<line x1="238" y1="57.7" x2="242" y2="57.7" stroke="#444" stroke-width="1.2"/>
<text x="231.5" y="62.0" class="tk" text-anchor="end">0.9</text>
<line x1="242.0" y1="175.5" x2="242.0" y2="179.5" stroke="#444" stroke-width="1.2"/>
<text x="242.0" y="194.0" class="tk" text-anchor="middle">325</text>
<line x1="283.1" y1="175.5" x2="283.1" y2="179.5" stroke="#444" stroke-width="1.2"/>
<text x="283.1" y="194.0" class="tk" text-anchor="middle">430</text>
<line x1="324.3" y1="175.5" x2="324.3" y2="179.5" stroke="#444" stroke-width="1.2"/>
<text x="324.3" y="194.0" class="tk" text-anchor="middle">535</text>
<line x1="365.4" y1="175.5" x2="365.4" y2="179.5" stroke="#444" stroke-width="1.2"/>
<text x="365.4" y="194.0" class="tk" text-anchor="middle">640</text>
<text x="246.9" y="76.2" class="lab">(B)</text>
<text x="336.6" y="99.4" class="an" text-anchor="middle">10.4 µM</text>
<path d="M331.9,109.6 L336.1,101.3 L340.3,109.6 Z" fill="#111"/>
<line x1="336.1" y1="109.1" x2="336.1" y2="128.1" stroke="#111" stroke-width="2"/>
<text x="336.1" y="143.5" class="an" text-anchor="middle">0</text>
<rect x="406.5" y="57.7" width="127.0" height="117.6" fill="#C9C9C9"/>
<rect x="408.0" y="59.2" width="124.0" height="114.6" fill="none" stroke="#D5D5D5" stroke-width="0.9"/>
<clipPath id="c2"><rect x="406.5" y="57.7" width="127.0" height="117.6"/></clipPath>
<g clip-path="url(#c2)" fill="none" stroke-width="2.3" stroke-linejoin="round">
<path d="M406.5,142.4 408.0,142.8 409.5,143.2 411.0,143.7 412.5,144.0 414.0,144.1 415.5,143.9 417.0,143.4 418.5,142.8 420.0,142.0 421.5,141.2 423.0,140.4 424.5,139.4 426.0,138.3 427.5,137.1 429.0,135.8 430.5,134.4 432.0,133.0 433.5,131.5 435.0,129.8 436.5,128.0 438.0,126.3 439.5,124.7 441.0,123.2 442.5,121.5 444.0,119.9 445.5,118.7 447.0,118.3 448.5,119.0 450.0,120.2 451.5,121.3 453.0,122.1 454.5,123.0 456.0,124.1 457.5,125.9 459.0,128.7 460.5,132.0 462.0,136.2 463.5,140.4 465.0,144.0 466.5,147.3 468.0,149.9 469.5,152.2 471.0,154.1 472.5,155.7 474.0,157.0 475.5,158.2 477.0,159.2 478.5,160.2 480.0,161.1 481.5,162.0 483.0,162.8 484.5,163.5 486.0,164.3 487.5,165.0 489.0,165.8 490.5,166.5 492.0,167.2 493.5,167.8 495.0,168.5 496.5,169.0 498.0,169.6 499.5,170.0 501.0,170.4 502.5,170.8 504.0,171.0 505.5,171.3 507.0,171.5 508.5,171.7 510.0,171.9 511.5,172.0 513.0,172.2 514.5,172.3 516.0,172.5 517.5,172.6 519.0,172.8 520.5,172.9 522.0,173.0 523.5,173.1 525.0,173.2 526.5,173.4 528.0,173.5 529.5,173.6 531.0,173.7 532.5,173.9 533.5,174.0" stroke="#2B3F86"/>
<path d="M406.5,143.2 408.0,143.5 409.5,143.9 411.0,144.3 412.5,144.5 414.0,144.6 415.5,144.3 417.0,143.8 418.5,143.2 420.0,142.4 421.5,141.5 423.0,140.7 424.5,139.7 426.0,138.6 427.5,137.3 429.0,135.9 430.5,134.5 432.0,133.0 433.5,131.4 435.0,129.6 436.5,127.8 438.0,126.0 439.5,124.3 441.0,122.8 442.5,121.0 444.0,119.4 445.5,118.2 447.0,117.8 448.5,118.5 450.0,119.7 451.5,120.8 453.0,121.6 454.5,122.5 456.0,123.6 457.5,125.4 459.0,128.3 460.5,131.6 462.0,135.9 463.5,140.2 465.0,143.9 466.5,147.3 468.0,149.9 469.5,152.2 471.0,154.1 472.5,155.7 474.0,157.0 475.5,158.2 477.0,159.2 478.5,160.2 480.0,161.1 481.5,162.0 483.0,162.8 484.5,163.5 486.0,164.3 487.5,165.0 489.0,165.7 490.5,166.4 492.0,167.1 493.5,167.7 495.0,168.4 496.5,168.9 498.0,169.4 499.5,169.9 501.0,170.3 502.5,170.6 504.0,170.9 505.5,171.1 507.0,171.3 508.5,171.5 510.0,171.7 511.5,171.9 513.0,172.1 514.5,172.2 516.0,172.4 517.5,172.5 519.0,172.7 520.5,172.8 522.0,172.9 523.5,173.0 525.0,173.2 526.5,173.3 528.0,173.4 529.5,173.6 531.0,173.7 532.5,173.8 533.5,174.0" stroke="#FF10C8"/>
<path d="M406.5,144.0 408.0,144.3 409.5,144.6 411.0,144.9 412.5,145.1 414.0,145.0 415.5,144.8 417.0,144.2 418.5,143.6 420.0,142.8 421.5,141.9 423.0,141.0 424.5,140.0 426.0,138.8 427.5,137.5 429.0,136.0 430.5,134.5 432.0,133.0 433.5,131.3 435.0,129.5 436.5,127.6 438.0,125.7 439.5,123.9 441.0,122.3 442.5,120.6 444.0,118.8 445.5,117.6 447.0,117.2 448.5,117.9 450.0,119.2 451.5,120.3 453.0,121.2 454.5,122.0 456.0,123.1 457.5,125.0 459.0,127.9 460.5,131.3 462.0,135.7 463.5,140.0 465.0,143.8 466.5,147.3 468.0,149.9 469.5,152.2 471.0,154.1 472.5,155.7 474.0,157.0 475.5,158.2 477.0,159.2 478.5,160.2 480.0,161.2 481.5,162.0 483.0,162.8 484.5,163.5 486.0,164.3 487.5,165.0 489.0,165.7 490.5,166.4 492.0,167.0 493.5,167.7 495.0,168.3 496.5,168.8 498.0,169.3 499.5,169.8 501.0,170.2 502.5,170.5 504.0,170.7 505.5,171.0 507.0,171.2 508.5,171.4 510.0,171.6 511.5,171.8 513.0,172.0 514.5,172.1 516.0,172.3 517.5,172.4 519.0,172.6 520.5,172.7 522.0,172.8 523.5,173.0 525.0,173.1 526.5,173.2 528.0,173.4 529.5,173.5 531.0,173.7 532.5,173.8 533.5,173.9" stroke="#E6DC10"/>
<path d="M406.5,144.8 408.0,145.0 409.5,145.3 411.0,145.5 412.5,145.6 414.0,145.5 415.5,145.2 417.0,144.7 418.5,144.0 420.0,143.2 421.5,142.3 423.0,141.4 424.5,140.3 426.0,139.0 427.5,137.6 429.0,136.1 430.5,134.5 432.0,133.0 433.5,131.2 435.0,129.3 436.5,127.3 438.0,125.4 439.5,123.5 441.0,121.9 442.5,120.1 444.0,118.3 445.5,117.1 447.0,116.7 448.5,117.4 450.0,118.7 451.5,119.8 453.0,120.7 454.5,121.5 456.0,122.7 457.5,124.5 459.0,127.5 460.5,131.0 462.0,135.4 463.5,139.8 465.0,143.7 466.5,147.3 468.0,149.9 469.5,152.2 471.0,154.1 472.5,155.7 474.0,157.0 475.5,158.2 477.0,159.3 478.5,160.2 480.0,161.2 481.5,162.0 483.0,162.8 484.5,163.5 486.0,164.3 487.5,165.0 489.0,165.6 490.5,166.3 492.0,167.0 493.5,167.6 495.0,168.2 496.5,168.7 498.0,169.2 499.5,169.6 501.0,170.0 502.5,170.3 504.0,170.6 505.5,170.9 507.0,171.1 508.5,171.3 510.0,171.5 511.5,171.7 513.0,171.9 514.5,172.0 516.0,172.2 517.5,172.3 519.0,172.5 520.5,172.6 522.0,172.8 523.5,172.9 525.0,173.0 526.5,173.2 528.0,173.3 529.5,173.5 531.0,173.6 532.5,173.8 533.5,173.9" stroke="#10E0E8"/>
<path d="M406.5,145.7 408.0,145.8 409.5,146.0 411.0,146.1 412.5,146.1 414.0,146.0 415.5,145.6 417.0,145.1 418.5,144.4 420.0,143.5 421.5,142.6 423.0,141.7 424.5,140.6 426.0,139.3 427.5,137.8 429.0,136.2 430.5,134.6 432.0,132.9 433.5,131.1 435.0,129.1 436.5,127.1 438.0,125.1 439.5,123.2 441.0,121.5 442.5,119.6 444.0,117.8 445.5,116.5 447.0,116.1 448.5,116.9 450.0,118.2 451.5,119.3 453.0,120.2 454.5,121.1 456.0,122.2 457.5,124.0 459.0,127.1 460.5,130.6 462.0,135.1 463.5,139.6 465.0,143.6 466.5,147.2 468.0,149.9 469.5,152.2 471.0,154.1 472.5,155.7 474.0,157.0 475.5,158.2 477.0,159.3 478.5,160.3 480.0,161.2 481.5,162.0 483.0,162.8 484.5,163.5 486.0,164.2 487.5,164.9 489.0,165.6 490.5,166.3 492.0,166.9 493.5,167.5 495.0,168.1 496.5,168.6 498.0,169.1 499.5,169.5 501.0,169.9 502.5,170.2 504.0,170.5 505.5,170.7 507.0,170.9 508.5,171.2 510.0,171.4 511.5,171.6 513.0,171.7 514.5,171.9 516.0,172.1 517.5,172.2 519.0,172.4 520.5,172.5 522.0,172.7 523.5,172.8 525.0,173.0 526.5,173.1 528.0,173.2 529.5,173.4 531.0,173.6 532.5,173.7 533.5,173.8" stroke="#80108A"/>
<path d="M406.5,146.5 408.0,146.5 409.5,146.6 411.0,146.7 412.5,146.7 414.0,146.5 415.5,146.1 417.0,145.5 418.5,144.8 420.0,143.9 421.5,143.0 423.0,142.0 424.5,140.9 426.0,139.5 427.5,138.0 429.0,136.3 430.5,134.6 432.0,132.9 433.5,131.0 435.0,128.9 436.5,126.8 438.0,124.7 439.5,122.8 441.0,121.0 442.5,119.1 444.0,117.3 445.5,116.0 447.0,115.6 448.5,116.3 450.0,117.7 451.5,118.9 453.0,119.7 454.5,120.6 456.0,121.7 457.5,123.6 459.0,126.7 460.5,130.3 462.0,134.8 463.5,139.4 465.0,143.5 466.5,147.2 468.0,150.0 469.5,152.2 471.0,154.1 472.5,155.7 474.0,157.0 475.5,158.2 477.0,159.3 478.5,160.3 480.0,161.2 481.5,162.0 483.0,162.8 484.5,163.5 486.0,164.2 487.5,164.9 489.0,165.6 490.5,166.2 492.0,166.8 493.5,167.4 495.0,168.0 496.5,168.5 498.0,168.9 499.5,169.4 501.0,169.7 502.5,170.1 504.0,170.3 505.5,170.6 507.0,170.8 508.5,171.0 510.0,171.2 511.5,171.4 513.0,171.6 514.5,171.8 516.0,172.0 517.5,172.1 519.0,172.3 520.5,172.4 522.0,172.6 523.5,172.7 525.0,172.9 526.5,173.0 528.0,173.2 529.5,173.3 531.0,173.5 532.5,173.7 533.5,173.8" stroke="#800000"/>
<path d="M406.5,147.3 408.0,147.3 409.5,147.3 411.0,147.3 412.5,147.2 414.0,147.0 415.5,146.5 417.0,145.9 418.5,145.2 420.0,144.3 421.5,143.4 423.0,142.4 424.5,141.2 426.0,139.7 427.5,138.1 429.0,136.4 430.5,134.7 432.0,132.9 433.5,130.9 435.0,128.8 436.5,126.6 438.0,124.4 439.5,122.4 441.0,120.6 442.5,118.7 444.0,116.8 445.5,115.4 447.0,115.0 448.5,115.8 450.0,117.2 451.5,118.4 453.0,119.2 454.5,120.1 456.0,121.2 457.5,123.1 459.0,126.3 460.5,130.0 462.0,134.6 463.5,139.2 465.0,143.4 466.5,147.2 468.0,150.0 469.5,152.2 471.0,154.1 472.5,155.7 474.0,157.0 475.5,158.2 477.0,159.3 478.5,160.3 480.0,161.2 481.5,162.0 483.0,162.8 484.5,163.5 486.0,164.2 487.5,164.9 489.0,165.5 490.5,166.2 492.0,166.8 493.5,167.3 495.0,167.9 496.5,168.4 498.0,168.8 499.5,169.2 501.0,169.6 502.5,169.9 504.0,170.2 505.5,170.4 507.0,170.7 508.5,170.9 510.0,171.1 511.5,171.3 513.0,171.5 514.5,171.7 516.0,171.9 517.5,172.0 519.0,172.2 520.5,172.4 522.0,172.5 523.5,172.7 525.0,172.8 526.5,173.0 528.0,173.1 529.5,173.3 531.0,173.5 532.5,173.6 533.5,173.8" stroke="#1E7A3C"/>
<path d="M406.5,148.1 408.0,148.1 409.5,148.0 411.0,147.9 412.5,147.8 414.0,147.5 415.5,147.0 417.0,146.3 418.5,145.6 420.0,144.7 421.5,143.7 423.0,142.7 424.5,141.5 426.0,140.0 427.5,138.3 429.0,136.6 430.5,134.7 432.0,132.9 433.5,130.8 435.0,128.6 436.5,126.3 438.0,124.1 439.5,122.0 441.0,120.2 442.5,118.2 444.0,116.3 445.5,114.9 447.0,114.5 448.5,115.3 450.0,116.7 451.5,117.9 453.0,118.8 454.5,119.6 456.0,120.7 457.5,122.6 459.0,125.9 460.5,129.6 462.0,134.3 463.5,139.0 465.0,143.3 466.5,147.2 468.0,150.0 469.5,152.2 471.0,154.1 472.5,155.7 474.0,157.0 475.5,158.2 477.0,159.3 478.5,160.3 480.0,161.2 481.5,162.1 483.0,162.8 484.5,163.6 486.0,164.2 487.5,164.9 489.0,165.5 490.5,166.1 492.0,166.7 493.5,167.2 495.0,167.8 496.5,168.2 498.0,168.7 499.5,169.1 501.0,169.5 502.5,169.8 504.0,170.1 505.5,170.3 507.0,170.6 508.5,170.8 510.0,171.0 511.5,171.2 513.0,171.4 514.5,171.6 516.0,171.8 517.5,171.9 519.0,172.1 520.5,172.3 522.0,172.4 523.5,172.6 525.0,172.7 526.5,172.9 528.0,173.1 529.5,173.2 531.0,173.4 532.5,173.6 533.5,173.7" stroke="#0A0AF0"/>
<path d="M406.5,149.0 408.0,148.8 409.5,148.7 411.0,148.5 412.5,148.3 414.0,147.9 415.5,147.4 417.0,146.8 418.5,146.0 420.0,145.1 421.5,144.1 423.0,143.0 424.5,141.7 426.0,140.2 427.5,138.5 429.0,136.7 430.5,134.8 432.0,132.9 433.5,130.7 435.0,128.4 436.5,126.1 438.0,123.8 439.5,121.7 441.0,119.8 442.5,117.7 444.0,115.8 445.5,114.3 447.0,113.9 448.5,114.7 450.0,116.2 451.5,117.4 453.0,118.3 454.5,119.1 456.0,120.2 457.5,122.2 459.0,125.5 460.5,129.3 462.0,134.0 463.5,138.8 465.0,143.2 466.5,147.1 468.0,150.0 469.5,152.2 471.0,154.1 472.5,155.7 474.0,157.0 475.5,158.2 477.0,159.3 478.5,160.3 480.0,161.2 481.5,162.1 483.0,162.8 484.5,163.6 486.0,164.2 487.5,164.9 489.0,165.5 490.5,166.1 492.0,166.6 493.5,167.2 495.0,167.7 496.5,168.1 498.0,168.6 499.5,169.0 501.0,169.3 502.5,169.6 504.0,169.9 505.5,170.2 507.0,170.4 508.5,170.7 510.0,170.9 511.5,171.1 513.0,171.3 514.5,171.5 516.0,171.7 517.5,171.8 519.0,172.0 520.5,172.2 522.0,172.3 523.5,172.5 525.0,172.7 526.5,172.8 528.0,173.0 529.5,173.2 531.0,173.4 532.5,173.5 533.5,173.7" stroke="#1CA8E0"/>
<path d="M406.5,149.8 408.0,149.6 409.5,149.4 411.0,149.1 412.5,148.8 414.0,148.4 415.5,147.9 417.0,147.2 418.5,146.4 420.0,145.5 421.5,144.5 423.0,143.4 424.5,142.0 426.0,140.5 427.5,138.7 429.0,136.8 430.5,134.8 432.0,132.8 433.5,130.6 435.0,128.3 436.5,125.8 438.0,123.5 439.5,121.3 441.0,119.3 442.5,117.2 444.0,115.2 445.5,113.8 447.0,113.4 448.5,114.2 450.0,115.7 451.5,116.9 453.0,117.8 454.5,118.6 456.0,119.8 457.5,121.7 459.0,125.1 460.5,129.0 462.0,133.7 463.5,138.6 465.0,143.1 466.5,147.1 468.0,150.0 469.5,152.3 471.0,154.1 472.5,155.7 474.0,157.0 475.5,158.2 477.0,159.3 478.5,160.3 480.0,161.2 481.5,162.1 483.0,162.9 484.5,163.6 486.0,164.2 487.5,164.8 489.0,165.4 490.5,166.0 492.0,166.6 493.5,167.1 495.0,167.6 496.5,168.0 498.0,168.4 499.5,168.8 501.0,169.2 502.5,169.5 504.0,169.8 505.5,170.0 507.0,170.3 508.5,170.5 510.0,170.8 511.5,171.0 513.0,171.2 514.5,171.4 516.0,171.6 517.5,171.7 519.0,171.9 520.5,172.1 522.0,172.3 523.5,172.4 525.0,172.6 526.5,172.8 528.0,173.0 529.5,173.1 531.0,173.3 532.5,173.5 533.5,173.6" stroke="#A6D4D8"/>
<path d="M406.5,150.6 408.0,150.3 409.5,150.0 411.0,149.7 412.5,149.4 414.0,148.9 415.5,148.3 417.0,147.6 418.5,146.8 420.0,145.9 421.5,144.8 423.0,143.7 424.5,142.3 426.0,140.7 427.5,138.8 429.0,136.9 430.5,134.9 432.0,132.8 433.5,130.6 435.0,128.1 436.5,125.6 438.0,123.2 439.5,120.9 441.0,118.9 442.5,116.8 444.0,114.7 445.5,113.3 447.0,112.8 448.5,113.7 450.0,115.2 451.5,116.5 453.0,117.3 454.5,118.2 456.0,119.3 457.5,121.2 459.0,124.7 460.5,128.6 462.0,133.5 463.5,138.4 465.0,142.9 466.5,147.1 468.0,150.0 469.5,152.3 471.0,154.1 472.5,155.7 474.0,157.0 475.5,158.2 477.0,159.3 478.5,160.3 480.0,161.2 481.5,162.1 483.0,162.9 484.5,163.6 486.0,164.2 487.5,164.8 489.0,165.4 490.5,166.0 492.0,166.5 493.5,167.0 495.0,167.5 496.5,167.9 498.0,168.3 499.5,168.7 501.0,169.0 502.5,169.3 504.0,169.6 505.5,169.9 507.0,170.2 508.5,170.4 510.0,170.6 511.5,170.9 513.0,171.1 514.5,171.3 516.0,171.5 517.5,171.6 519.0,171.8 520.5,172.0 522.0,172.2 523.5,172.4 525.0,172.5 526.5,172.7 528.0,172.9 529.5,173.1 531.0,173.3 532.5,173.5 533.5,173.6" stroke="#64DCB0"/>
<path d="M406.5,151.4 408.0,151.1 409.5,150.7 411.0,150.4 412.5,149.9 414.0,149.4 415.5,148.8 417.0,148.0 418.5,147.2 420.0,146.2 421.5,145.2 423.0,144.0 424.5,142.6 426.0,140.9 427.5,139.0 429.0,137.0 430.5,134.9 432.0,132.8 433.5,130.5 435.0,127.9 436.5,125.4 438.0,122.8 439.5,120.5 441.0,118.5 442.5,116.3 444.0,114.2 445.5,112.7 447.0,112.3 448.5,113.2 450.0,114.7 451.5,116.0 453.0,116.8 454.5,117.7 456.0,118.8 457.5,120.8 459.0,124.3 460.5,128.3 462.0,133.2 463.5,138.2 465.0,142.8 466.5,147.1 468.0,150.0 469.5,152.3 471.0,154.1 472.5,155.7 474.0,157.0 475.5,158.2 477.0,159.3 478.5,160.3 480.0,161.3 481.5,162.1 483.0,162.9 484.5,163.6 486.0,164.2 487.5,164.8 489.0,165.4 490.5,165.9 492.0,166.4 493.5,166.9 495.0,167.4 496.5,167.8 498.0,168.2 499.5,168.5 501.0,168.9 502.5,169.2 504.0,169.5 505.5,169.8 507.0,170.0 508.5,170.3 510.0,170.5 511.5,170.7 513.0,171.0 514.5,171.2 516.0,171.4 517.5,171.5 519.0,171.7 520.5,171.9 522.0,172.1 523.5,172.3 525.0,172.5 526.5,172.6 528.0,172.8 529.5,173.0 531.0,173.2 532.5,173.4 533.5,173.6" stroke="#D6CE70"/>
<path d="M406.5,152.3 408.0,151.8 409.5,151.4 411.0,151.0 412.5,150.5 414.0,149.9 415.5,149.2 417.0,148.4 418.5,147.6 420.0,146.6 421.5,145.6 423.0,144.4 424.5,142.9 426.0,141.2 427.5,139.2 429.0,137.1 430.5,134.9 432.0,132.8 433.5,130.4 435.0,127.8 436.5,125.1 438.0,122.5 439.5,120.1 441.0,118.0 442.5,115.8 444.0,113.7 445.5,112.2 447.0,111.7 448.5,112.6 450.0,114.2 451.5,115.5 453.0,116.4 454.5,117.2 456.0,118.3 457.5,120.3 459.0,123.9 460.5,128.0 462.0,132.9 463.5,138.0 465.0,142.7 466.5,147.1 468.0,150.0 469.5,152.3 471.0,154.1 472.5,155.7 474.0,156.8 475.5,157.7 477.0,158.6 478.5,159.4 480.0,160.1 481.5,160.7 483.0,161.3 484.5,161.8 486.0,162.3 487.5,162.8 489.0,163.2 490.5,163.6 492.0,164.0 493.5,164.4 495.0,164.8 496.5,165.1 498.0,165.4 499.5,165.7 501.0,166.0 502.5,166.2 504.0,166.4 505.5,166.6 507.0,166.8 508.5,167.0 510.0,167.1 511.5,167.3 513.0,167.4 514.5,167.6 516.0,167.7 517.5,167.8 519.0,167.9 520.5,168.0 522.0,168.2 523.5,168.3 525.0,168.4 526.5,168.5 528.0,168.6 529.5,168.7 531.0,168.9 532.5,169.0 533.5,169.1" stroke="#20B4F0"/>
<path d="M406.5,153.1 408.0,152.6 409.5,152.1 411.0,151.6 412.5,151.0 414.0,150.4 415.5,149.7 417.0,148.9 418.5,148.0 420.0,147.0 421.5,145.9 423.0,144.7 424.5,143.2 426.0,141.4 427.5,139.4 429.0,137.2 430.5,135.0 432.0,132.7 433.5,130.3 435.0,127.6 436.5,124.9 438.0,122.2 439.5,119.8 441.0,117.6 442.5,115.3 444.0,113.2 445.5,111.6 447.0,111.2 448.5,112.1 450.0,113.7 451.5,115.0 453.0,115.9 454.5,116.7 456.0,117.8 457.5,119.9 459.0,123.5 460.5,127.6 462.0,132.7 463.5,137.8 465.0,142.6 466.5,147.0 468.0,150.0 469.5,152.3 471.0,154.1 472.5,155.7 474.0,157.0 475.5,158.2 477.0,159.3 478.5,160.3 480.0,161.3 481.5,162.1 483.0,162.9 484.5,163.6 486.0,164.2 487.5,164.8 489.0,165.3 490.5,165.8 492.0,166.3 493.5,166.7 495.0,167.2 496.5,167.6 498.0,167.9 499.5,168.3 501.0,168.6 502.5,168.9 504.0,169.2 505.5,169.5 507.0,169.8 508.5,170.0 510.0,170.3 511.5,170.5 513.0,170.7 514.5,170.9 516.0,171.2 517.5,171.4 519.0,171.6 520.5,171.7 522.0,171.9 523.5,172.1 525.0,172.3 526.5,172.5 528.0,172.7 529.5,172.9 531.0,173.1 532.5,173.3 533.5,173.5" stroke="#F0A47E"/>
</g>
<rect x="406.5" y="57.7" width="127.0" height="117.6" fill="none" stroke="#2a2a2a" stroke-width="1.7"/>
<line x1="402.5" y1="175.3" x2="406.5" y2="175.3" stroke="#444" stroke-width="1.2"/>
<text x="396.0" y="179.6" class="tk" text-anchor="end">0.0</text>
<line x1="402.5" y1="136.1" x2="406.5" y2="136.1" stroke="#444" stroke-width="1.2"/>
<text x="396.0" y="140.4" class="tk" text-anchor="end">0.3</text>
<line x1="402.5" y1="96.9" x2="406.5" y2="96.9" stroke="#444" stroke-width="1.2"/>
<text x="396.0" y="101.2" class="tk" text-anchor="end">0.6</text>
<line x1="402.5" y1="57.7" x2="406.5" y2="57.7" stroke="#444" stroke-width="1.2"/>
<text x="396.0" y="62.0" class="tk" text-anchor="end">0.9</text>
<line x1="406.5" y1="175.3" x2="406.5" y2="179.3" stroke="#444" stroke-width="1.2"/>
<text x="406.5" y="193.8" class="tk" text-anchor="middle">325</text>
<line x1="447.5" y1="175.3" x2="447.5" y2="179.3" stroke="#444" stroke-width="1.2"/>
<text x="447.5" y="193.8" class="tk" text-anchor="middle">430</text>
<line x1="488.6" y1="175.3" x2="488.6" y2="179.3" stroke="#444" stroke-width="1.2"/>
<text x="488.6" y="193.8" class="tk" text-anchor="middle">535</text>
<line x1="529.6" y1="175.3" x2="529.6" y2="179.3" stroke="#444" stroke-width="1.2"/>
<text x="529.6" y="193.8" class="tk" text-anchor="middle">640</text>
<text x="413.6" y="77.2" class="lab">(C)</text>
<text x="506.7" y="120.7" class="an" text-anchor="middle">10.4 µM</text>
<path d="M501.9,130.9 L506.1,122.6 L510.3,130.9 Z" fill="#111"/>
<line x1="506.1" y1="130.4" x2="506.1" y2="143" stroke="#111" stroke-width="2"/>
<text x="506.1" y="157.8" class="an" text-anchor="middle">0</text>
<rect x="572.9" y="58.6" width="127.1" height="117.3" fill="#C9C9C9"/>
<rect x="574.4" y="60.1" width="124.1" height="114.3" fill="none" stroke="#D5D5D5" stroke-width="0.9"/>
<clipPath id="c3"><rect x="572.9" y="58.6" width="127.1" height="117.3"/></clipPath>
<g clip-path="url(#c3)" fill="none" stroke-width="2.3" stroke-linejoin="round">
<path d="M572.9,146.7 574.4,146.9 575.9,147.2 577.4,147.4 578.9,147.6 580.4,147.6 581.9,147.3 583.4,146.6 584.9,145.7 586.4,144.7 587.9,143.7 589.4,142.7 590.9,141.7 592.4,140.6 593.9,139.4 595.4,138.1 596.9,136.8 598.4,135.4 599.9,133.8 601.4,132.2 602.9,130.5 604.4,128.7 605.9,127.0 607.4,125.4 608.9,123.4 610.4,121.5 611.9,120.3 613.4,120.0 614.9,120.5 616.4,121.2 617.9,122.0 619.4,122.8 620.9,123.7 622.4,125.0 623.9,127.2 625.4,130.4 626.9,134.0 628.4,138.2 629.9,142.5 631.4,147.1 632.9,151.2 634.4,153.7 635.9,155.6 637.4,157.2 638.9,158.5 640.4,159.6 641.9,160.6 643.4,161.6 644.9,162.4 646.4,163.2 647.9,164.0 649.4,164.7 650.9,165.3 652.4,166.0 653.9,166.7 655.4,167.3 656.9,167.9 658.4,168.5 659.9,169.1 661.4,169.7 662.9,170.2 664.4,170.6 665.9,171.0 667.4,171.4 668.9,171.7 670.4,172.0 671.9,172.2 673.4,172.4 674.9,172.7 676.4,172.9 677.9,173.0 679.4,173.2 680.9,173.4 682.4,173.5 683.9,173.7 685.4,173.8 686.9,174.0 688.4,174.1 689.9,174.2 691.4,174.4 692.9,174.5 694.4,174.7 695.9,174.8 697.4,175.0 698.9,175.1 700.0,175.2" stroke="#2B3F86"/>
<path d="M572.9,147.2 574.4,147.4 575.9,147.6 577.4,147.8 578.9,147.9 580.4,147.9 581.9,147.6 583.4,146.9 584.9,146.0 586.4,145.0 587.9,143.9 589.4,143.0 590.9,141.9 592.4,140.7 593.9,139.5 595.4,138.2 596.9,136.8 598.4,135.4 599.9,133.8 601.4,132.0 602.9,130.3 604.4,128.5 605.9,126.7 607.4,125.0 608.9,123.0 610.4,121.0 611.9,119.7 613.4,119.5 614.9,120.0 616.4,120.7 617.9,121.5 619.4,122.3 620.9,123.3 622.4,124.6 623.9,126.8 625.4,130.1 626.9,133.8 628.4,138.2 629.9,142.7 631.4,147.2 632.9,151.3 634.4,153.8 635.9,155.7 637.4,157.2 638.9,158.5 640.4,159.6 641.9,160.7 643.4,161.6 644.9,162.5 646.4,163.2 647.9,164.0 649.4,164.7 650.9,165.3 652.4,166.0 653.9,166.6 655.4,167.3 656.9,167.9 658.4,168.5 659.9,169.1 661.4,169.6 662.9,170.1 664.4,170.6 665.9,171.0 667.4,171.3 668.9,171.6 670.4,171.9 671.9,172.1 673.4,172.4 674.9,172.6 676.4,172.8 677.9,172.9 679.4,173.1 680.9,173.3 682.4,173.4 683.9,173.6 685.4,173.7 686.9,173.9 688.4,174.0 689.9,174.1 691.4,174.3 692.9,174.4 694.4,174.5 695.9,174.7 697.4,174.8 698.9,175.0 700.0,175.1" stroke="#FF10C8"/>
<path d="M572.9,147.8 574.4,147.9 575.9,148.1 577.4,148.2 578.9,148.3 580.4,148.3 581.9,147.9 583.4,147.2 584.9,146.3 586.4,145.3 587.9,144.2 589.4,143.2 590.9,142.1 592.4,140.9 593.9,139.6 595.4,138.3 596.9,136.8 598.4,135.3 599.9,133.7 601.4,131.9 602.9,130.0 604.4,128.2 605.9,126.4 607.4,124.6 608.9,122.5 610.4,120.5 611.9,119.2 613.4,118.9 614.9,119.4 616.4,120.2 617.9,121.0 619.4,121.9 620.9,122.9 622.4,124.2 623.9,126.4 625.4,129.8 626.9,133.6 628.4,138.2 629.9,142.8 631.4,147.4 632.9,151.4 634.4,153.9 635.9,155.8 637.4,157.3 638.9,158.6 640.4,159.7 641.9,160.7 643.4,161.6 644.9,162.5 646.4,163.3 647.9,164.0 649.4,164.7 650.9,165.3 652.4,166.0 653.9,166.6 655.4,167.3 656.9,167.9 658.4,168.5 659.9,169.0 661.4,169.6 662.9,170.1 664.4,170.5 665.9,170.9 667.4,171.3 668.9,171.6 670.4,171.8 671.9,172.1 673.4,172.3 674.9,172.5 676.4,172.7 677.9,172.9 679.4,173.0 680.9,173.2 682.4,173.3 683.9,173.5 685.4,173.6 686.9,173.8 688.4,173.9 689.9,174.0 691.4,174.2 692.9,174.3 694.4,174.4 695.9,174.6 697.4,174.7 698.9,174.9 700.0,175.0" stroke="#E6DC10"/>
<path d="M572.9,146.2 574.4,146.4 575.9,146.6 577.4,146.7 578.9,146.8 580.4,146.7 581.9,146.5 583.4,146.0 584.9,145.3 586.4,144.6 587.9,143.7 589.4,142.9 590.9,141.9 592.4,140.8 593.9,139.6 595.4,138.3 596.9,136.9 598.4,135.3 599.9,133.6 601.4,131.8 602.9,129.8 604.4,127.9 605.9,126.1 607.4,124.2 608.9,122.1 610.4,120.0 611.9,118.6 613.4,118.4 614.9,118.9 616.4,119.7 617.9,120.6 619.4,121.4 620.9,122.4 622.4,123.8 623.9,126.0 625.4,129.5 626.9,133.4 628.4,138.2 629.9,142.9 631.4,147.0 632.9,150.3 634.4,152.8 635.9,154.8 637.4,156.5 638.9,157.9 640.4,159.1 641.9,160.1 643.4,161.1 644.9,162.0 646.4,162.8 647.9,163.6 649.4,164.3 650.9,165.0 652.4,165.6 653.9,166.2 655.4,166.8 656.9,167.4 658.4,168.0 659.9,168.5 661.4,169.0 662.9,169.5 664.4,169.9 665.9,170.3 667.4,170.6 668.9,170.8 670.4,171.1 671.9,171.3 673.4,171.5 674.9,171.7 676.4,171.8 677.9,172.0 679.4,172.1 680.9,172.3 682.4,172.4 683.9,172.5 685.4,172.7 686.9,172.8 688.4,172.9 689.9,173.0 691.4,173.1 692.9,173.2 694.4,173.3 695.9,173.5 697.4,173.6 698.9,173.7 700.0,173.8" stroke="#10E0E8"/>
<path d="M572.9,148.9 574.4,148.9 575.9,149.0 577.4,149.1 578.9,149.1 580.4,148.9 581.9,148.5 583.4,147.8 584.9,146.9 586.4,145.9 587.9,144.8 589.4,143.8 590.9,142.6 592.4,141.3 593.9,139.9 595.4,138.4 596.9,136.9 598.4,135.3 599.9,133.5 601.4,131.6 602.9,129.6 604.4,127.7 605.9,125.7 607.4,123.9 608.9,121.6 610.4,119.5 611.9,118.1 613.4,117.8 614.9,118.4 616.4,119.3 617.9,120.1 619.4,121.0 620.9,122.0 622.4,123.4 623.9,125.6 625.4,129.2 626.9,133.2 628.4,138.2 629.9,143.1 631.4,147.7 632.9,151.7 634.4,154.1 635.9,156.0 637.4,157.5 638.9,158.7 640.4,159.8 641.9,160.8 643.4,161.7 644.9,162.5 646.4,163.3 647.9,164.0 649.4,164.7 650.9,165.3 652.4,166.0 653.9,166.6 655.4,167.2 656.9,167.8 658.4,168.4 659.9,169.0 661.4,169.5 662.9,170.0 664.4,170.4 665.9,170.8 667.4,171.1 668.9,171.4 670.4,171.7 671.9,171.9 673.4,172.1 674.9,172.3 676.4,172.5 677.9,172.7 679.4,172.8 680.9,173.0 682.4,173.1 683.9,173.3 685.4,173.4 686.9,173.5 688.4,173.7 689.9,173.8 691.4,173.9 692.9,174.1 694.4,174.2 695.9,174.3 697.4,174.5 698.9,174.6 700.0,174.7" stroke="#80108A"/>
<path d="M572.9,149.4 574.4,149.4 575.9,149.5 577.4,149.5 578.9,149.4 580.4,149.2 581.9,148.8 583.4,148.1 584.9,147.2 586.4,146.2 587.9,145.1 589.4,144.0 590.9,142.9 592.4,141.5 593.9,140.1 595.4,138.5 596.9,136.9 598.4,135.3 599.9,133.4 601.4,131.5 602.9,129.4 604.4,127.4 605.9,125.4 607.4,123.5 608.9,121.2 610.4,119.0 611.9,117.5 613.4,117.3 614.9,117.9 616.4,118.8 617.9,119.6 619.4,120.5 620.9,121.6 622.4,123.0 623.9,125.3 625.4,128.8 626.9,133.0 628.4,138.2 629.9,143.2 631.4,147.9 632.9,151.8 634.4,154.3 635.9,156.1 637.4,157.6 638.9,158.8 640.4,159.9 641.9,160.9 643.4,161.8 644.9,162.6 646.4,163.3 647.9,164.0 649.4,164.7 650.9,165.4 652.4,166.0 653.9,166.6 655.4,167.2 656.9,167.8 658.4,168.4 659.9,168.9 661.4,169.4 662.9,169.9 664.4,170.3 665.9,170.7 667.4,171.1 668.9,171.4 670.4,171.6 671.9,171.8 673.4,172.0 674.9,172.2 676.4,172.4 677.9,172.6 679.4,172.7 680.9,172.9 682.4,173.0 683.9,173.2 685.4,173.3 686.9,173.4 688.4,173.6 689.9,173.7 691.4,173.8 692.9,173.9 694.4,174.1 695.9,174.2 697.4,174.3 698.9,174.5 700.0,174.6" stroke="#800000"/>
<path d="M572.9,150.0 574.4,149.9 575.9,149.9 577.4,149.9 578.9,149.8 580.4,149.6 581.9,149.1 583.4,148.4 584.9,147.5 586.4,146.5 587.9,145.4 589.4,144.3 590.9,143.1 592.4,141.7 593.9,140.2 595.4,138.6 596.9,137.0 598.4,135.2 599.9,133.4 601.4,131.3 602.9,129.2 604.4,127.1 605.9,125.1 607.4,123.1 608.9,120.8 610.4,118.5 611.9,117.0 613.4,116.7 614.9,117.3 616.4,118.3 617.9,119.2 619.4,120.1 620.9,121.1 622.4,122.5 623.9,124.9 625.4,128.5 626.9,132.8 628.4,138.2 629.9,143.4 631.4,148.0 632.9,152.0 634.4,154.4 635.9,156.2 637.4,157.7 638.9,158.9 640.4,159.9 641.9,160.9 643.4,161.8 644.9,162.6 646.4,163.4 647.9,164.1 649.4,164.7 650.9,165.4 652.4,166.0 653.9,166.6 655.4,167.2 656.9,167.8 658.4,168.3 659.9,168.9 661.4,169.4 662.9,169.9 664.4,170.3 665.9,170.7 667.4,171.0 668.9,171.3 670.4,171.5 671.9,171.7 673.4,172.0 674.9,172.1 676.4,172.3 677.9,172.5 679.4,172.6 680.9,172.8 682.4,172.9 683.9,173.1 685.4,173.2 686.9,173.3 688.4,173.4 689.9,173.6 691.4,173.7 692.9,173.8 694.4,173.9 695.9,174.1 697.4,174.2 698.9,174.4 700.0,174.5" stroke="#1E7A3C"/>
<path d="M572.9,150.5 574.4,150.4 575.9,150.4 577.4,150.3 578.9,150.2 580.4,149.9 581.9,149.4 583.4,148.7 584.9,147.8 586.4,146.8 587.9,145.7 589.4,144.6 590.9,143.3 592.4,141.9 593.9,140.4 595.4,138.7 596.9,137.0 598.4,135.2 599.9,133.3 601.4,131.2 602.9,129.0 604.4,126.9 605.9,124.8 607.4,122.7 608.9,120.3 610.4,118.0 611.9,116.5 613.4,116.2 614.9,116.8 616.4,117.8 617.9,118.7 619.4,119.6 620.9,120.7 622.4,122.1 623.9,124.5 625.4,128.2 626.9,132.6 628.4,138.2 629.9,143.5 631.4,148.2 632.9,152.1 634.4,154.5 635.9,156.3 637.4,157.7 638.9,158.9 640.4,160.0 641.9,161.0 643.4,161.8 644.9,162.6 646.4,163.4 647.9,164.1 649.4,164.7 650.9,165.4 652.4,166.0 653.9,166.6 655.4,167.2 656.9,167.7 658.4,168.3 659.9,168.8 661.4,169.3 662.9,169.8 664.4,170.2 665.9,170.6 667.4,170.9 668.9,171.2 670.4,171.5 671.9,171.7 673.4,171.9 674.9,172.1 676.4,172.2 677.9,172.4 679.4,172.6 680.9,172.7 682.4,172.8 683.9,173.0 685.4,173.1 686.9,173.2 688.4,173.3 689.9,173.5 691.4,173.6 692.9,173.7 694.4,173.8 695.9,174.0 697.4,174.1 698.9,174.2 700.0,174.3" stroke="#0A0AF0"/>
<path d="M572.9,151.0 574.4,150.9 575.9,150.8 577.4,150.7 578.9,150.5 580.4,150.2 581.9,149.7 583.4,149.0 584.9,148.1 586.4,147.1 587.9,146.0 589.4,144.9 590.9,143.6 592.4,142.1 593.9,140.5 595.4,138.8 596.9,137.0 598.4,135.2 599.9,133.2 601.4,131.0 602.9,128.8 604.4,126.6 605.9,124.5 607.4,122.3 608.9,119.9 610.4,117.5 611.9,115.9 613.4,115.6 614.9,116.3 616.4,117.3 617.9,118.3 619.4,119.2 620.9,120.3 622.4,121.7 623.9,124.1 625.4,127.9 626.9,132.4 628.4,138.2 629.9,143.6 631.4,148.3 632.9,152.2 634.4,154.6 635.9,156.4 637.4,157.8 638.9,159.0 640.4,160.1 641.9,161.0 643.4,161.9 644.9,162.7 646.4,163.4 647.9,164.1 649.4,164.7 650.9,165.4 652.4,166.0 653.9,166.6 655.4,167.1 656.9,167.7 658.4,168.3 659.9,168.8 661.4,169.3 662.9,169.8 664.4,170.2 665.9,170.6 667.4,170.9 668.9,171.1 670.4,171.4 671.9,171.6 673.4,171.8 674.9,172.0 676.4,172.1 677.9,172.3 679.4,172.5 680.9,172.6 682.4,172.7 683.9,172.9 685.4,173.0 686.9,173.1 688.4,173.2 689.9,173.3 691.4,173.5 692.9,173.6 694.4,173.7 695.9,173.8 697.4,174.0 698.9,174.1 700.0,174.2" stroke="#1CA8E0"/>
<path d="M572.9,151.6 574.4,151.4 575.9,151.3 577.4,151.1 578.9,150.9 580.4,150.6 581.9,150.0 583.4,149.3 584.9,148.4 586.4,147.4 587.9,146.3 589.4,145.1 590.9,143.8 592.4,142.3 593.9,140.6 595.4,138.9 596.9,137.0 598.4,135.2 599.9,133.1 601.4,130.9 602.9,128.6 604.4,126.3 605.9,124.1 607.4,122.0 608.9,119.4 610.4,117.0 611.9,115.4 613.4,115.1 614.9,115.8 616.4,116.8 617.9,117.8 619.4,118.7 620.9,119.8 622.4,121.3 623.9,123.7 625.4,127.6 626.9,132.2 628.4,138.2 629.9,143.8 631.4,148.5 632.9,152.4 634.4,154.7 635.9,156.5 637.4,157.9 638.9,159.1 640.4,160.1 641.9,161.1 643.4,161.9 644.9,162.7 646.4,163.4 647.9,164.1 649.4,164.7 650.9,165.4 652.4,166.0 653.9,166.5 655.4,167.1 656.9,167.7 658.4,168.2 659.9,168.8 661.4,169.3 662.9,169.7 664.4,170.1 665.9,170.5 667.4,170.8 668.9,171.1 670.4,171.3 671.9,171.5 673.4,171.7 674.9,171.9 676.4,172.1 677.9,172.2 679.4,172.4 680.9,172.5 682.4,172.6 683.9,172.8 685.4,172.9 686.9,173.0 688.4,173.1 689.9,173.2 691.4,173.3 692.9,173.5 694.4,173.6 695.9,173.7 697.4,173.8 698.9,174.0 700.0,174.1" stroke="#A6D4D8"/>
<path d="M572.9,152.1 574.4,151.9 575.9,151.7 577.4,151.5 578.9,151.3 580.4,150.9 581.9,150.3 583.4,149.6 584.9,148.7 586.4,147.7 587.9,146.6 589.4,145.4 590.9,144.0 592.4,142.5 593.9,140.8 595.4,139.0 596.9,137.1 598.4,135.1 599.9,133.0 601.4,130.8 602.9,128.4 604.4,126.1 605.9,123.8 607.4,121.6 608.9,119.0 610.4,116.5 611.9,114.8 613.4,114.5 614.9,115.2 616.4,116.3 617.9,117.3 619.4,118.3 620.9,119.4 622.4,120.9 623.9,123.4 625.4,127.3 626.9,132.0 628.4,138.2 629.9,143.9 631.4,148.7 632.9,152.5 634.4,154.9 635.9,156.6 637.4,158.0 638.9,159.1 640.4,160.2 641.9,161.1 643.4,162.0 644.9,162.7 646.4,163.5 647.9,164.1 649.4,164.8 650.9,165.4 652.4,165.9 653.9,166.5 655.4,167.1 656.9,167.7 658.4,168.2 659.9,168.7 661.4,169.2 662.9,169.7 664.4,170.1 665.9,170.4 667.4,170.7 668.9,171.0 670.4,171.2 671.9,171.4 673.4,171.6 674.9,171.8 676.4,172.0 677.9,172.1 679.4,172.3 680.9,172.4 682.4,172.5 683.9,172.7 685.4,172.8 686.9,172.9 688.4,173.0 689.9,173.1 691.4,173.2 692.9,173.3 694.4,173.5 695.9,173.6 697.4,173.7 698.9,173.8 700.0,173.9" stroke="#64DCB0"/>
<path d="M572.9,152.7 574.4,152.4 575.9,152.2 577.4,151.9 578.9,151.6 580.4,151.2 581.9,150.6 583.4,149.9 584.9,149.0 586.4,147.9 587.9,146.8 589.4,145.7 590.9,144.3 592.4,142.7 593.9,140.9 595.4,139.0 596.9,137.1 598.4,135.1 599.9,132.9 601.4,130.6 602.9,128.2 604.4,125.8 605.9,123.5 607.4,121.2 608.9,118.5 610.4,116.0 611.9,114.3 613.4,114.0 614.9,114.7 616.4,115.8 617.9,116.9 619.4,117.8 620.9,119.0 622.4,120.5 623.9,123.0 625.4,127.0 626.9,131.8 628.4,138.2 629.9,144.0 631.4,148.8 632.9,152.7 634.4,155.0 635.9,156.7 637.4,158.1 638.9,159.2 640.4,160.2 641.9,161.1 643.4,162.0 644.9,162.8 646.4,163.5 647.9,164.1 649.4,164.8 650.9,165.4 652.4,165.9 653.9,166.5 655.4,167.1 656.9,167.6 658.4,168.2 659.9,168.7 661.4,169.2 662.9,169.6 664.4,170.0 665.9,170.4 667.4,170.7 668.9,170.9 670.4,171.2 671.9,171.4 673.4,171.5 674.9,171.7 676.4,171.9 677.9,172.0 679.4,172.2 680.9,172.3 682.4,172.4 683.9,172.6 685.4,172.7 686.9,172.8 688.4,172.9 689.9,173.0 691.4,173.1 692.9,173.2 694.4,173.3 695.9,173.5 697.4,173.6 698.9,173.7 700.0,173.8" stroke="#D6CE70"/>
<path d="M572.9,153.2 574.4,152.9 575.9,152.6 577.4,152.4 578.9,152.0 580.4,151.6 581.9,150.9 583.4,150.2 584.9,149.3 586.4,148.2 587.9,147.1 589.4,145.9 590.9,144.5 592.4,142.9 593.9,141.1 595.4,139.1 596.9,137.1 598.4,135.1 599.9,132.9 601.4,130.5 602.9,128.0 604.4,125.5 605.9,123.2 607.4,120.8 608.9,118.1 610.4,115.5 611.9,113.7 613.4,113.4 614.9,114.2 616.4,115.3 617.9,116.4 619.4,117.4 620.9,118.5 622.4,120.0 623.9,122.6 625.4,126.7 626.9,131.6 628.4,138.2 629.9,144.2 631.4,149.0 632.9,152.8 634.4,155.1 635.9,156.8 637.4,158.2 638.9,159.3 640.4,160.3 641.9,161.2 643.4,162.0 644.9,162.8 646.4,163.5 647.9,164.2 649.4,164.8 650.9,165.4 652.4,165.9 653.9,166.5 655.4,167.1 656.9,167.6 658.4,168.1 659.9,168.6 661.4,169.1 662.9,169.6 664.4,170.0 665.9,170.3 667.4,170.6 668.9,170.9 670.4,171.1 671.9,171.3 673.4,171.5 674.9,171.6 676.4,171.8 677.9,171.9 679.4,172.1 680.9,172.2 682.4,172.3 683.9,172.5 685.4,172.6 686.9,172.7 688.4,172.8 689.9,172.9 691.4,173.0 692.9,173.1 694.4,173.2 695.9,173.3 697.4,173.5 698.9,173.6 700.0,173.7" stroke="#20B4F0"/>
<path d="M572.9,153.7 574.4,153.4 575.9,153.1 577.4,152.8 578.9,152.4 580.4,151.9 581.9,151.2 583.4,150.5 584.9,149.6 586.4,148.5 587.9,147.4 589.4,146.2 590.9,144.8 592.4,143.1 593.9,141.2 595.4,139.2 596.9,137.2 598.4,135.1 599.9,132.8 601.4,130.3 602.9,127.8 604.4,125.3 605.9,122.8 607.4,120.5 608.9,117.7 610.4,115.0 611.9,113.2 613.4,112.9 614.9,113.7 616.4,114.8 617.9,115.9 619.4,116.9 620.9,118.1 622.4,119.6 623.9,122.2 625.4,126.4 626.9,131.4 628.4,138.2 629.9,144.3 631.4,149.1 632.9,152.9 634.4,155.2 635.9,156.9 637.4,158.2 638.9,159.3 640.4,160.3 641.9,161.2 643.4,162.1 644.9,162.8 646.4,163.5 647.9,164.2 649.4,164.8 650.9,165.4 652.4,165.9 653.9,166.5 655.4,167.1 656.9,167.6 658.4,168.1 659.9,168.6 661.4,169.1 662.9,169.5 664.4,169.9 665.9,170.2 667.4,170.6 668.9,170.8 670.4,171.0 671.9,171.2 673.4,171.4 674.9,171.5 676.4,171.7 677.9,171.9 679.4,172.0 680.9,172.1 682.4,172.2 683.9,172.4 685.4,172.5 686.9,172.6 688.4,172.7 689.9,172.8 691.4,172.9 692.9,173.0 694.4,173.1 695.9,173.2 697.4,173.3 698.9,173.5 700.0,173.6" stroke="#F0A47E"/>
</g>
<rect x="572.9" y="58.6" width="127.1" height="117.3" fill="none" stroke="#2a2a2a" stroke-width="1.7"/>
<line x1="568.9" y1="175.9" x2="572.9" y2="175.9" stroke="#444" stroke-width="1.2"/>
<text x="562.4" y="180.2" class="tk" text-anchor="end">0.0</text>
<line x1="568.9" y1="136.8" x2="572.9" y2="136.8" stroke="#444" stroke-width="1.2"/>
<text x="562.4" y="141.1" class="tk" text-anchor="end">0.3</text>
<line x1="568.9" y1="97.7" x2="572.9" y2="97.7" stroke="#444" stroke-width="1.2"/>
<text x="562.4" y="102.0" class="tk" text-anchor="end">0.6</text>
<line x1="568.9" y1="58.6" x2="572.9" y2="58.6" stroke="#444" stroke-width="1.2"/>
<text x="562.4" y="62.9" class="tk" text-anchor="end">0.9</text>
<line x1="572.9" y1="175.9" x2="572.9" y2="179.9" stroke="#444" stroke-width="1.2"/>
<text x="572.9" y="194.4" class="tk" text-anchor="middle">325</text>
<line x1="614.0" y1="175.9" x2="614.0" y2="179.9" stroke="#444" stroke-width="1.2"/>
<text x="614.0" y="194.4" class="tk" text-anchor="middle">430</text>
<line x1="655.0" y1="175.9" x2="655.0" y2="179.9" stroke="#444" stroke-width="1.2"/>
<text x="655.0" y="194.4" class="tk" text-anchor="middle">535</text>
<line x1="696.1" y1="175.9" x2="696.1" y2="179.9" stroke="#444" stroke-width="1.2"/>
<text x="696.1" y="194.4" class="tk" text-anchor="middle">640</text>
<text x="579.6" y="78.6" class="lab">(D)</text>
<text x="672.8" y="119.8" class="an" text-anchor="middle">10.4 µM</text>
<path d="M667.9,130.9 L672.1,122.6 L676.3,130.9 Z" fill="#111"/>
<line x1="672.1" y1="130.4" x2="672.1" y2="143.9" stroke="#111" stroke-width="2"/>
<text x="672.1" y="158.7" class="an" text-anchor="middle">0</text>
<rect x="82.4" y="263.3" width="127.3" height="117.4" fill="#C9C9C9"/>
<rect x="83.9" y="264.8" width="124.3" height="114.4" fill="none" stroke="#D5D5D5" stroke-width="0.9"/>
<clipPath id="c4"><rect x="82.4" y="263.3" width="127.3" height="117.4"/></clipPath>
<g clip-path="url(#c4)" fill="none" stroke-width="2.3" stroke-linejoin="round">
<path d="M82.4,369.0 83.9,368.2 85.4,367.4 86.9,366.6 88.4,365.8 89.9,365.1 91.4,364.3 92.9,363.5 94.4,362.7 95.9,361.9 97.4,361.1 98.9,360.2 100.4,359.4 101.9,358.6 103.4,357.8 104.9,357.0 106.4,356.1 107.9,355.1 109.4,354.0 110.9,352.8 112.4,350.9 113.9,348.6 115.4,346.2 116.9,344.1 118.4,342.5 119.9,341.0 121.4,339.7 122.9,338.9 124.4,338.7 125.9,338.7 127.4,338.7 128.9,338.7 130.4,338.7 131.9,339.7 133.4,341.6 134.9,343.9 136.4,345.9 137.9,348.3 139.4,350.7 140.9,352.9 142.4,354.6 143.9,355.7 145.4,356.5 146.9,357.2 148.4,357.8 149.9,358.4 151.4,359.1 152.9,359.9 154.4,360.8 155.9,361.9 157.4,363.0 158.9,364.2 160.4,365.4 161.9,366.6 163.4,367.7 164.9,368.8 166.4,369.8 167.9,370.9 169.4,371.8 170.9,372.7 172.4,373.4 173.9,373.8 175.4,374.3 176.9,374.7 178.4,375.1 179.9,375.4 181.4,375.7 182.9,376.0 184.4,376.2 185.9,376.4 187.4,376.6 188.9,376.8 190.4,376.9 191.9,377.0 193.4,377.2 194.9,377.3 196.4,377.4 197.9,377.5 199.4,377.5 200.9,377.6 202.4,377.7 203.9,377.8 205.4,377.8 206.9,377.9 208.4,378.0 209.7,378.1" stroke="#2B3F86"/>
<path d="M82.4,368.6 83.9,367.9 85.4,367.1 86.9,366.4 88.4,365.7 89.9,364.9 91.4,364.2 92.9,363.4 94.4,362.7 95.9,361.9 97.4,361.1 98.9,360.3 100.4,359.5 101.9,358.7 103.4,357.9 104.9,357.1 106.4,356.2 107.9,355.2 109.4,354.2 110.9,352.9 112.4,351.1 113.9,348.8 115.4,346.5 116.9,344.4 118.4,343.0 119.9,341.5 121.4,340.3 122.9,339.5 124.4,339.3 125.9,339.3 127.4,339.3 128.9,339.3 130.4,339.3 131.9,340.3 133.4,342.2 134.9,344.4 136.4,346.4 137.9,348.7 139.4,351.1 140.9,353.3 142.4,354.9 143.9,356.0 145.4,356.8 146.9,357.5 148.4,358.1 149.9,358.7 151.4,359.4 152.9,360.1 154.4,361.1 155.9,362.1 157.4,363.3 158.9,364.5 160.4,365.7 161.9,366.8 163.4,367.9 164.9,369.0 166.4,370.0 167.9,371.0 169.4,372.0 170.9,372.8 172.4,373.5 173.9,374.0 175.4,374.4 176.9,374.8 178.4,375.2 179.9,375.6 181.4,375.9 182.9,376.1 184.4,376.4 185.9,376.6 187.4,376.8 188.9,377.0 190.4,377.1 191.9,377.2 193.4,377.3 194.9,377.4 196.4,377.5 197.9,377.6 199.4,377.7 200.9,377.8 202.4,377.9 203.9,377.9 205.4,378.0 206.9,378.1 208.4,378.2 209.7,378.2" stroke="#FF10C8"/>
<path d="M82.4,368.3 83.9,367.5 85.4,366.8 86.9,366.2 88.4,365.5 89.9,364.8 91.4,364.1 92.9,363.4 94.4,362.7 95.9,361.9 97.4,361.2 98.9,360.4 100.4,359.6 101.9,358.8 103.4,358.1 104.9,357.2 106.4,356.3 107.9,355.4 109.4,354.3 110.9,353.0 112.4,351.2 113.9,349.0 115.4,346.8 116.9,344.8 118.4,343.4 119.9,342.1 121.4,340.9 122.9,340.1 124.4,339.9 125.9,339.9 127.4,339.9 128.9,339.9 130.4,340.0 131.9,340.9 133.4,342.8 134.9,344.9 136.4,346.9 137.9,349.1 139.4,351.5 140.9,353.6 142.4,355.3 143.9,356.3 145.4,357.2 146.9,357.8 148.4,358.4 149.9,359.0 151.4,359.7 152.9,360.4 154.4,361.3 155.9,362.4 157.4,363.5 158.9,364.7 160.4,365.9 161.9,367.1 163.4,368.2 164.9,369.2 166.4,370.2 167.9,371.2 169.4,372.2 170.9,373.0 172.4,373.7 173.9,374.1 175.4,374.6 176.9,375.0 178.4,375.4 179.9,375.7 181.4,376.0 182.9,376.3 184.4,376.6 185.9,376.8 187.4,377.0 188.9,377.1 190.4,377.3 191.9,377.4 193.4,377.5 194.9,377.6 196.4,377.7 197.9,377.8 199.4,377.9 200.9,377.9 202.4,378.0 203.9,378.1 205.4,378.2 206.9,378.2 208.4,378.3 209.7,378.4" stroke="#E6DC10"/>
<path d="M82.4,365.3 83.9,364.9 85.4,364.5 86.9,364.1 88.4,363.7 89.9,363.3 91.4,362.8 92.9,362.4 94.4,361.9 95.9,361.4 97.4,360.9 98.9,360.4 100.4,359.7 101.9,359.0 103.4,358.2 104.9,357.3 106.4,356.5 107.9,355.5 109.4,354.4 110.9,353.1 112.4,351.4 113.9,349.3 115.4,347.1 116.9,345.2 118.4,343.8 119.9,342.6 121.4,341.4 122.9,340.7 124.4,340.6 125.9,340.6 127.4,340.6 128.9,340.6 130.4,340.6 131.9,341.5 133.4,343.3 134.9,345.4 136.4,347.3 137.9,349.5 139.4,351.8 140.9,354.0 142.4,355.6 143.9,356.7 145.4,357.5 146.9,358.1 148.4,358.7 149.9,359.3 151.4,360.0 152.9,360.7 154.4,361.6 155.9,362.7 157.4,363.8 158.9,365.0 160.4,366.1 161.9,367.3 163.4,368.4 164.9,369.4 166.4,370.4 167.9,371.4 169.4,372.3 170.9,373.2 172.4,373.8 173.9,374.3 175.4,374.7 176.9,375.2 178.4,375.5 179.9,375.9 181.4,376.2 182.9,376.5 184.4,376.8 185.9,377.0 187.4,377.2 188.9,377.3 190.4,377.5 191.9,377.6 193.4,377.7 194.9,377.8 196.4,377.9 197.9,378.0 199.4,378.0 200.9,378.1 202.4,378.2 203.9,378.2 205.4,378.3 206.9,378.4 208.4,378.5 209.7,378.5" stroke="#10E0E8"/>
<path d="M82.4,367.6 83.9,366.9 85.4,366.3 86.9,365.7 88.4,365.1 89.9,364.5 91.4,363.9 92.9,363.3 94.4,362.6 95.9,362.0 97.4,361.3 98.9,360.6 100.4,359.9 101.9,359.1 103.4,358.3 104.9,357.5 106.4,356.6 107.9,355.6 109.4,354.5 110.9,353.3 112.4,351.6 113.9,349.5 115.4,347.4 116.9,345.6 118.4,344.3 119.9,343.1 121.4,342.0 122.9,341.3 124.4,341.2 125.9,341.2 127.4,341.2 128.9,341.2 130.4,341.2 131.9,342.1 133.4,343.9 134.9,345.9 136.4,347.8 137.9,349.9 139.4,352.2 140.9,354.3 142.4,355.9 143.9,357.0 145.4,357.8 146.9,358.5 148.4,359.1 149.9,359.6 151.4,360.3 152.9,361.0 154.4,361.9 155.9,362.9 157.4,364.0 158.9,365.2 160.4,366.4 161.9,367.5 163.4,368.6 164.9,369.6 166.4,370.6 167.9,371.6 169.4,372.5 170.9,373.3 172.4,374.0 173.9,374.4 175.4,374.9 176.9,375.3 178.4,375.7 179.9,376.1 181.4,376.4 182.9,376.7 184.4,376.9 185.9,377.2 187.4,377.3 188.9,377.5 190.4,377.6 191.9,377.8 193.4,377.9 194.9,378.0 196.4,378.0 197.9,378.1 199.4,378.2 200.9,378.3 202.4,378.3 203.9,378.4 205.4,378.5 206.9,378.5 208.4,378.6 209.7,378.7" stroke="#80108A"/>
<path d="M82.4,372.4 83.9,371.3 85.4,370.2 86.9,369.2 88.4,368.1 89.9,367.1 91.4,366.0 92.9,364.9 94.4,363.7 95.9,362.6 97.4,361.6 98.9,360.7 100.4,360.0 101.9,359.2 103.4,358.4 104.9,357.6 106.4,356.7 107.9,355.7 109.4,354.6 110.9,353.4 112.4,351.7 113.9,349.7 115.4,347.7 116.9,345.9 118.4,344.7 119.9,343.6 121.4,342.6 122.9,341.9 124.4,341.8 125.9,341.8 127.4,341.8 128.9,341.8 130.4,341.8 131.9,342.7 133.4,344.4 134.9,346.4 136.4,348.3 137.9,350.4 139.4,352.6 140.9,354.7 142.4,356.3 143.9,357.3 145.4,358.1 146.9,358.8 148.4,359.4 149.9,359.9 151.4,360.5 152.9,361.3 154.4,362.2 155.9,363.3 157.4,364.6 158.9,365.9 160.4,367.3 161.9,368.7 163.4,370.0 164.9,371.3 166.4,372.8 167.9,374.4 169.4,375.8 170.9,377.1 172.4,378.0 173.9,378.5 175.4,378.9 176.9,379.2 178.4,379.5 179.9,379.7 181.4,379.9 182.9,380.0 184.4,380.1 185.9,380.1 187.4,380.1 188.9,380.1 190.4,380.1 191.9,380.1 193.4,380.1 194.9,380.1 196.4,380.1 197.9,380.1 199.4,380.1 200.9,380.1 202.4,380.1 203.9,380.1 205.4,380.1 206.9,380.1 208.4,380.1 209.7,380.1" stroke="#800000"/>
<path d="M82.4,366.9 83.9,366.3 85.4,365.8 86.9,365.2 88.4,364.7 89.9,364.2 91.4,363.7 92.9,363.1 94.4,362.6 95.9,362.0 97.4,361.4 98.9,360.8 100.4,360.1 101.9,359.4 103.4,358.6 104.9,357.7 106.4,356.8 107.9,355.8 109.4,354.7 110.9,353.5 112.4,351.9 113.9,349.9 115.4,348.0 116.9,346.3 118.4,345.1 119.9,344.1 121.4,343.2 122.9,342.6 124.4,342.4 125.9,342.4 127.4,342.4 128.9,342.4 130.4,342.4 131.9,343.3 133.4,345.0 134.9,346.9 136.4,348.7 137.9,350.8 139.4,353.0 140.9,355.0 142.4,356.6 143.9,357.6 145.4,358.4 146.9,359.1 148.4,359.7 149.9,360.2 151.4,360.8 152.9,361.6 154.4,362.4 155.9,363.4 157.4,364.5 158.9,365.7 160.4,366.9 161.9,368.0 163.4,369.0 164.9,370.0 166.4,371.0 167.9,371.9 169.4,372.8 170.9,373.6 172.4,374.3 173.9,374.8 175.4,375.2 176.9,375.6 178.4,376.0 179.9,376.4 181.4,376.7 182.9,377.0 184.4,377.3 185.9,377.5 187.4,377.7 188.9,377.9 190.4,378.0 191.9,378.1 193.4,378.2 194.9,378.3 196.4,378.4 197.9,378.5 199.4,378.5 200.9,378.6 202.4,378.7 203.9,378.7 205.4,378.8 206.9,378.9 208.4,378.9 209.7,379.0" stroke="#1E7A3C"/>
<path d="M82.4,366.5 83.9,366.0 85.4,365.5 86.9,365.0 88.4,364.5 89.9,364.0 91.4,363.6 92.9,363.1 94.4,362.5 95.9,362.0 97.4,361.4 98.9,360.8 100.4,360.2 101.9,359.5 103.4,358.7 104.9,357.8 106.4,356.9 107.9,355.9 109.4,354.8 110.9,353.6 112.4,352.1 113.9,350.2 115.4,348.3 116.9,346.7 118.4,345.6 119.9,344.6 121.4,343.7 122.9,343.2 124.4,343.1 125.9,343.1 127.4,343.1 128.9,343.1 130.4,343.1 131.9,343.9 133.4,345.5 134.9,347.4 136.4,349.2 137.9,351.2 139.4,353.4 140.9,355.4 142.4,356.9 143.9,357.9 145.4,358.7 146.9,359.4 148.4,360.0 149.9,360.5 151.4,361.1 152.9,361.8 154.4,362.7 155.9,363.7 157.4,364.8 158.9,365.9 160.4,367.1 161.9,368.2 163.4,369.2 164.9,370.2 166.4,371.1 167.9,372.1 169.4,373.0 170.9,373.8 172.4,374.4 173.9,374.9 175.4,375.4 176.9,375.8 178.4,376.2 179.9,376.6 181.4,376.9 182.9,377.2 184.4,377.5 185.9,377.7 187.4,377.9 188.9,378.0 190.4,378.2 191.9,378.3 193.4,378.4 194.9,378.5 196.4,378.5 197.9,378.6 199.4,378.7 200.9,378.8 202.4,378.8 203.9,378.9 205.4,378.9 206.9,379.0 208.4,379.1 209.7,379.1" stroke="#0A0AF0"/>
<path d="M82.4,366.2 83.9,365.7 85.4,365.2 86.9,364.8 88.4,364.3 89.9,363.9 91.4,363.5 92.9,363.0 94.4,362.5 95.9,362.0 97.4,361.5 98.9,360.9 100.4,360.3 101.9,359.6 103.4,358.8 104.9,358.0 106.4,357.0 107.9,356.0 109.4,354.9 110.9,353.8 112.4,352.2 113.9,350.4 115.4,348.6 116.9,347.0 118.4,346.0 119.9,345.1 121.4,344.3 122.9,343.8 124.4,343.7 125.9,343.7 127.4,343.7 128.9,343.7 130.4,343.7 131.9,344.5 133.4,346.1 134.9,347.9 136.4,349.6 137.9,351.6 139.4,353.8 140.9,355.8 142.4,357.3 143.9,358.3 145.4,359.0 146.9,359.7 148.4,360.3 149.9,360.8 151.4,361.4 152.9,362.1 154.4,363.0 155.9,364.0 157.4,365.1 158.9,366.2 160.4,367.3 161.9,368.4 163.4,369.4 164.9,370.4 166.4,371.3 167.9,372.3 169.4,373.2 170.9,373.9 172.4,374.6 173.9,375.1 175.4,375.5 176.9,375.9 178.4,376.4 179.9,376.7 181.4,377.1 182.9,377.4 184.4,377.7 185.9,377.9 187.4,378.1 188.9,378.2 190.4,378.3 191.9,378.5 193.4,378.6 194.9,378.6 196.4,378.7 197.9,378.8 199.4,378.9 200.9,378.9 202.4,379.0 203.9,379.0 205.4,379.1 206.9,379.2 208.4,379.2 209.7,379.3" stroke="#1CA8E0"/>
<path d="M82.4,365.8 83.9,365.4 85.4,365.0 86.9,364.6 88.4,364.2 89.9,363.8 91.4,363.4 92.9,362.9 94.4,362.5 95.9,362.0 97.4,361.5 98.9,361.0 100.4,360.4 101.9,359.7 103.4,359.0 104.9,358.1 106.4,357.1 107.9,356.1 109.4,355.0 110.9,353.9 112.4,352.4 113.9,350.6 115.4,348.8 116.9,347.4 118.4,346.4 119.9,345.6 121.4,344.9 122.9,344.4 124.4,344.3 125.9,344.3 127.4,344.3 128.9,344.3 130.4,344.3 131.9,345.1 133.4,346.6 134.9,348.4 136.4,350.1 137.9,352.1 139.4,354.2 140.9,356.1 142.4,357.6 143.9,358.6 145.4,359.4 146.9,360.0 148.4,360.6 149.9,361.1 151.4,361.7 152.9,362.4 154.4,363.3 155.9,364.2 157.4,365.3 158.9,366.4 160.4,367.6 161.9,368.6 163.4,369.6 164.9,370.6 166.4,371.5 167.9,372.4 169.4,373.3 170.9,374.1 172.4,374.7 173.9,375.2 175.4,375.7 176.9,376.1 178.4,376.5 179.9,376.9 181.4,377.2 182.9,377.6 184.4,377.8 185.9,378.1 187.4,378.3 188.9,378.4 190.4,378.5 191.9,378.6 193.4,378.7 194.9,378.8 196.4,378.9 197.9,379.0 199.4,379.0 200.9,379.1 202.4,379.1 203.9,379.2 205.4,379.3 206.9,379.3 208.4,379.4 209.7,379.4" stroke="#A6D4D8"/>
<path d="M82.4,365.4 83.9,365.1 85.4,364.7 86.9,364.3 88.4,364.0 89.9,363.6 91.4,363.2 92.9,362.9 94.4,362.5 95.9,362.0 97.4,361.6 98.9,361.1 100.4,360.5 101.9,359.9 103.4,359.1 104.9,358.2 106.4,357.3 107.9,356.2 109.4,355.1 110.9,354.0 112.4,352.6 113.9,350.8 115.4,349.1 116.9,347.8 118.4,346.9 119.9,346.1 121.4,345.4 122.9,345.0 124.4,344.9 125.9,344.9 127.4,344.9 128.9,344.9 130.4,344.9 131.9,345.7 133.4,347.2 134.9,348.9 136.4,350.6 137.9,352.5 139.4,354.6 140.9,356.5 142.4,358.0 143.9,358.9 145.4,359.7 146.9,360.3 148.4,360.9 149.9,361.4 151.4,362.0 152.9,362.7 154.4,363.5 155.9,364.5 157.4,365.6 158.9,366.7 160.4,367.8 161.9,368.9 163.4,369.9 164.9,370.8 166.4,371.7 167.9,372.6 169.4,373.5 170.9,374.2 172.4,374.9 173.9,375.4 175.4,375.8 176.9,376.3 178.4,376.7 179.9,377.1 181.4,377.4 182.9,377.7 184.4,378.0 185.9,378.2 187.4,378.4 188.9,378.6 190.4,378.7 191.9,378.8 193.4,378.9 194.9,379.0 196.4,379.1 197.9,379.1 199.4,379.2 200.9,379.2 202.4,379.3 203.9,379.4 205.4,379.4 206.9,379.5 208.4,379.5 209.7,379.6" stroke="#64DCB0"/>
<path d="M82.4,365.1 83.9,364.7 85.4,364.4 86.9,364.1 88.4,363.8 89.9,363.5 91.4,363.1 92.9,362.8 94.4,362.4 95.9,362.1 97.4,361.6 98.9,361.2 100.4,360.7 101.9,360.0 103.4,359.2 104.9,358.3 106.4,357.4 107.9,356.3 109.4,355.3 110.9,354.1 112.4,352.7 113.9,351.1 115.4,349.4 116.9,348.1 118.4,347.3 119.9,346.6 121.4,346.0 122.9,345.6 124.4,345.5 125.9,345.5 127.4,345.5 128.9,345.5 130.4,345.6 131.9,346.3 133.4,347.7 134.9,349.4 136.4,351.0 137.9,352.9 139.4,354.9 140.9,356.8 142.4,358.3 143.9,359.2 145.4,360.0 146.9,360.6 148.4,361.2 149.9,361.7 151.4,362.3 152.9,363.0 154.4,363.8 155.9,364.8 157.4,365.8 158.9,366.9 160.4,368.0 161.9,369.1 163.4,370.1 164.9,371.0 166.4,371.9 167.9,372.8 169.4,373.6 170.9,374.4 172.4,375.0 173.9,375.5 175.4,376.0 176.9,376.4 178.4,376.8 179.9,377.2 181.4,377.6 182.9,377.9 184.4,378.2 185.9,378.4 187.4,378.6 188.9,378.8 190.4,378.9 191.9,379.0 193.4,379.1 194.9,379.2 196.4,379.2 197.9,379.3 199.4,379.3 200.9,379.4 202.4,379.5 203.9,379.5 205.4,379.6 206.9,379.6 208.4,379.7 209.7,379.7" stroke="#D6CE70"/>
<path d="M82.4,364.7 83.9,364.4 85.4,364.1 86.9,363.9 88.4,363.6 89.9,363.3 91.4,363.0 92.9,362.7 94.4,362.4 95.9,362.1 97.4,361.7 98.9,361.3 100.4,360.8 101.9,360.1 103.4,359.3 104.9,358.5 106.4,357.5 107.9,356.4 109.4,355.4 110.9,354.3 112.4,352.9 113.9,351.3 115.4,349.7 116.9,348.5 118.4,347.7 119.9,347.1 121.4,346.6 122.9,346.2 124.4,346.2 125.9,346.2 127.4,346.2 128.9,346.2 130.4,346.2 131.9,346.9 133.4,348.3 134.9,349.9 136.4,351.5 137.9,353.3 139.4,355.3 140.9,357.2 142.4,358.6 143.9,359.6 145.4,360.3 146.9,360.9 148.4,361.5 149.9,362.0 151.4,362.6 152.9,363.3 154.4,364.1 155.9,365.0 157.4,366.1 158.9,367.2 160.4,368.3 161.9,369.3 163.4,370.3 164.9,371.2 166.4,372.1 167.9,373.0 169.4,373.8 170.9,374.5 172.4,375.2 173.9,375.7 175.4,376.1 176.9,376.6 178.4,377.0 179.9,377.4 181.4,377.8 182.9,378.1 184.4,378.4 185.9,378.6 187.4,378.8 188.9,379.0 190.4,379.1 191.9,379.2 193.4,379.2 194.9,379.3 196.4,379.4 197.9,379.5 199.4,379.5 200.9,379.6 202.4,379.6 203.9,379.7 205.4,379.7 206.9,379.8 208.4,379.8 209.7,379.9" stroke="#20B4F0"/>
<path d="M82.4,364.4 83.9,364.1 85.4,363.9 86.9,363.6 88.4,363.4 89.9,363.2 91.4,362.9 92.9,362.7 94.4,362.4 95.9,362.1 97.4,361.7 98.9,361.3 100.4,360.9 101.9,360.3 103.4,359.5 104.9,358.6 106.4,357.6 107.9,356.6 109.4,355.5 110.9,354.4 112.4,353.0 113.9,351.5 115.4,350.0 116.9,348.9 118.4,348.2 119.9,347.6 121.4,347.1 122.9,346.8 124.4,346.8 125.9,346.8 127.4,346.8 128.9,346.8 130.4,346.8 131.9,347.5 133.4,348.8 134.9,350.4 136.4,352.0 137.9,353.8 139.4,355.7 140.9,357.5 142.4,359.0 143.9,359.9 145.4,360.6 146.9,361.2 148.4,361.8 149.9,362.3 151.4,362.9 152.9,363.5 154.4,364.4 155.9,365.3 157.4,366.3 158.9,367.4 160.4,368.5 161.9,369.5 163.4,370.5 164.9,371.4 166.4,372.3 167.9,373.2 169.4,374.0 170.9,374.7 172.4,375.3 173.9,375.8 175.4,376.3 176.9,376.7 178.4,377.2 179.9,377.6 181.4,377.9 182.9,378.3 184.4,378.5 185.9,378.8 187.4,379.0 188.9,379.1 190.4,379.2 191.9,379.3 193.4,379.4 194.9,379.5 196.4,379.6 197.9,379.6 199.4,379.7 200.9,379.7 202.4,379.8 203.9,379.8 205.4,379.9 206.9,379.9 208.4,380.0 209.7,380.0" stroke="#F0A47E"/>
</g>
<rect x="82.4" y="263.3" width="127.3" height="117.4" fill="none" stroke="#2a2a2a" stroke-width="1.7"/>
<line x1="78.4" y1="380.7" x2="82.4" y2="380.7" stroke="#444" stroke-width="1.2"/>
<text x="71.9" y="385.0" class="tk" text-anchor="end">0.0</text>
<line x1="78.4" y1="341.6" x2="82.4" y2="341.6" stroke="#444" stroke-width="1.2"/>
<text x="71.9" y="345.9" class="tk" text-anchor="end">0.3</text>
<line x1="78.4" y1="302.4" x2="82.4" y2="302.4" stroke="#444" stroke-width="1.2"/>
<text x="71.9" y="306.7" class="tk" text-anchor="end">0.6</text>
<line x1="78.4" y1="263.3" x2="82.4" y2="263.3" stroke="#444" stroke-width="1.2"/>
<text x="71.9" y="267.6" class="tk" text-anchor="end">0.9</text>
<line x1="82.4" y1="380.7" x2="82.4" y2="384.7" stroke="#444" stroke-width="1.2"/>
<text x="82.4" y="399.2" class="tk" text-anchor="middle">325</text>
<line x1="123.5" y1="380.7" x2="123.5" y2="384.7" stroke="#444" stroke-width="1.2"/>
<text x="123.5" y="399.2" class="tk" text-anchor="middle">430</text>
<line x1="164.7" y1="380.7" x2="164.7" y2="384.7" stroke="#444" stroke-width="1.2"/>
<text x="164.7" y="399.2" class="tk" text-anchor="middle">535</text>
<line x1="205.8" y1="380.7" x2="205.8" y2="384.7" stroke="#444" stroke-width="1.2"/>
<text x="205.8" y="399.2" class="tk" text-anchor="middle">640</text>
<text x="90.2" y="279.3" class="lab">(A)</text>
<text x="180.7" y="337.6" class="an" text-anchor="middle">10.4 µM</text>
<path d="M179.7,350.6 L183.9,341.3 L188.1,350.6 Z" fill="#111"/>
<line x1="183.9" y1="350.1" x2="183.9" y2="356.1" stroke="#111" stroke-width="2"/>
<text x="183.9" y="371" class="an" text-anchor="middle">0</text>
<rect x="247" y="262" width="126.8" height="117.6" fill="#C9C9C9"/>
<rect x="248.5" y="263.5" width="123.8" height="114.6" fill="none" stroke="#D5D5D5" stroke-width="0.9"/>
<clipPath id="c5"><rect x="247" y="262" width="126.8" height="117.6"/></clipPath>
<g clip-path="url(#c5)" fill="none" stroke-width="2.3" stroke-linejoin="round">
<path d="M247.0,365.4 248.5,364.7 250.0,364.0 251.5,363.4 253.0,362.7 254.5,361.9 256.0,361.1 257.5,360.1 259.0,359.0 260.5,357.9 262.0,356.8 263.5,355.8 265.0,354.7 266.5,353.6 268.0,352.6 269.5,351.5 271.0,350.4 272.5,349.3 274.0,348.2 275.5,347.0 277.0,345.8 278.5,344.7 280.0,343.9 281.5,343.1 283.0,342.3 284.5,341.7 286.0,341.3 287.5,341.2 289.0,341.5 290.5,341.8 292.0,342.1 293.5,342.1 295.0,342.1 296.5,342.1 298.0,342.1 299.5,343.7 301.0,346.5 302.5,349.3 304.0,351.2 305.5,353.0 307.0,354.6 308.5,355.6 310.0,356.2 311.5,356.6 313.0,356.9 314.5,357.3 316.0,357.7 317.5,358.2 319.0,359.1 320.5,360.3 322.0,361.6 323.5,363.0 325.0,364.4 326.5,365.6 328.0,366.7 329.5,367.8 331.0,368.8 332.5,369.8 334.0,370.8 335.5,371.7 337.0,372.6 338.5,373.5 340.0,374.4 341.5,375.2 343.0,375.7 344.5,376.0 346.0,376.2 347.5,376.4 349.0,376.5 350.5,376.6 352.0,376.7 353.5,376.7 355.0,376.7 356.5,376.8 358.0,376.8 359.5,376.8 361.0,376.8 362.5,376.8 364.0,376.8 365.5,376.8 367.0,376.8 368.5,376.8 370.0,376.8 371.5,376.8 373.0,376.9 373.8,376.9" stroke="#2B3F86"/>
<path d="M247.0,365.2 248.5,364.5 250.0,363.8 251.5,363.2 253.0,362.4 254.5,361.7 256.0,360.8 257.5,359.8 259.0,358.7 260.5,357.5 262.0,356.4 263.5,355.2 265.0,354.1 266.5,352.9 268.0,351.8 269.5,350.6 271.0,349.4 272.5,348.3 274.0,347.0 275.5,345.7 277.0,344.4 278.5,343.3 280.0,342.3 281.5,341.4 283.0,340.5 284.5,339.8 286.0,339.3 287.5,339.2 289.0,339.5 290.5,339.9 292.0,340.1 293.5,340.2 295.0,340.1 296.5,340.1 298.0,340.2 299.5,341.8 301.0,344.8 302.5,347.8 304.0,349.9 305.5,351.8 307.0,353.5 308.5,354.6 310.0,355.2 311.5,355.6 313.0,356.0 314.5,356.3 316.0,356.8 317.5,357.4 319.0,358.3 320.5,359.5 322.0,360.8 323.5,362.3 325.0,363.7 326.5,364.9 328.0,366.1 329.5,367.2 331.0,368.3 332.5,369.4 334.0,370.4 335.5,371.4 337.0,372.3 338.5,373.3 340.0,374.2 341.5,375.0 343.0,375.6 344.5,375.9 346.0,376.1 347.5,376.3 349.0,376.5 350.5,376.6 352.0,376.7 353.5,376.7 355.0,376.8 356.5,376.8 358.0,376.8 359.5,376.9 361.0,376.9 362.5,376.9 364.0,376.9 365.5,376.9 367.0,376.9 368.5,376.9 370.0,377.0 371.5,377.0 373.0,377.0 373.8,377.0" stroke="#FF10C8"/>
<path d="M247.0,365.0 248.5,364.3 250.0,363.6 251.5,362.9 253.0,362.2 254.5,361.4 256.0,360.5 257.5,359.4 259.0,358.3 260.5,357.1 262.0,355.9 263.5,354.7 265.0,353.5 266.5,352.2 268.0,351.0 269.5,349.7 271.0,348.5 272.5,347.2 274.0,345.9 275.5,344.5 277.0,343.1 278.5,341.8 280.0,340.7 281.5,339.7 283.0,338.7 284.5,337.9 286.0,337.4 287.5,337.3 289.0,337.6 290.5,337.9 292.0,338.2 293.5,338.2 295.0,338.2 296.5,338.1 298.0,338.2 299.5,339.9 301.0,343.1 302.5,346.3 304.0,348.5 305.5,350.6 307.0,352.4 308.5,353.5 310.0,354.2 311.5,354.7 313.0,355.0 314.5,355.4 316.0,355.9 317.5,356.5 319.0,357.4 320.5,358.6 322.0,360.0 323.5,361.5 325.0,363.0 326.5,364.2 328.0,365.4 329.5,366.7 331.0,367.8 332.5,369.0 334.0,370.0 335.5,371.0 337.0,372.0 338.5,373.0 340.0,374.0 341.5,374.8 343.0,375.4 344.5,375.8 346.0,376.0 347.5,376.3 349.0,376.4 350.5,376.6 352.0,376.7 353.5,376.8 355.0,376.8 356.5,376.8 358.0,376.9 359.5,376.9 361.0,376.9 362.5,377.0 364.0,377.0 365.5,377.0 367.0,377.0 368.5,377.1 370.0,377.1 371.5,377.1 373.0,377.1 373.8,377.1" stroke="#E6DC10"/>
<path d="M247.0,364.8 248.5,364.1 250.0,363.4 251.5,362.7 253.0,362.0 254.5,361.1 256.0,360.2 257.5,359.1 259.0,357.9 260.5,356.7 262.0,355.4 263.5,354.1 265.0,352.8 266.5,351.5 268.0,350.2 269.5,348.9 271.0,347.5 272.5,346.1 274.0,344.7 275.5,343.2 277.0,341.7 278.5,340.3 280.0,339.1 281.5,338.0 283.0,336.9 284.5,336.0 286.0,335.4 287.5,335.3 289.0,335.6 290.5,336.0 292.0,336.3 293.5,336.3 295.0,336.2 296.5,336.1 298.0,336.2 299.5,338.0 301.0,341.4 302.5,344.8 304.0,347.2 305.5,349.4 307.0,351.3 308.5,352.5 310.0,353.2 311.5,353.7 313.0,354.1 314.5,354.5 316.0,354.9 317.5,355.6 319.0,356.6 320.5,357.8 322.0,359.3 323.5,360.8 325.0,362.2 326.5,363.6 328.0,364.8 329.5,366.1 331.0,367.3 332.5,368.5 334.0,369.7 335.5,370.7 337.0,371.7 338.5,372.8 340.0,373.7 341.5,374.6 343.0,375.2 344.5,375.6 346.0,375.9 347.5,376.2 349.0,376.4 350.5,376.6 352.0,376.7 353.5,376.8 355.0,376.8 356.5,376.9 358.0,376.9 359.5,377.0 361.0,377.0 362.5,377.0 364.0,377.1 365.5,377.1 367.0,377.1 368.5,377.2 370.0,377.2 371.5,377.2 373.0,377.3 373.8,377.3" stroke="#10E0E8"/>
<path d="M247.0,364.7 248.5,363.9 250.0,363.2 251.5,362.5 253.0,361.7 254.5,360.9 256.0,359.9 257.5,358.8 259.0,357.5 260.5,356.2 262.0,354.9 263.5,353.5 265.0,352.2 266.5,350.8 268.0,349.4 269.5,348.0 271.0,346.5 272.5,345.1 274.0,343.5 275.5,341.9 277.0,340.3 278.5,338.8 280.0,337.5 281.5,336.3 283.0,335.1 284.5,334.1 286.0,333.5 287.5,333.4 289.0,333.6 290.5,334.1 292.0,334.3 293.5,334.3 295.0,334.2 296.5,334.2 298.0,334.2 299.5,336.2 301.0,339.7 302.5,343.3 304.0,345.8 305.5,348.2 307.0,350.2 308.5,351.5 310.0,352.2 311.5,352.7 313.0,353.1 314.5,353.6 316.0,354.0 317.5,354.7 319.0,355.7 320.5,357.0 322.0,358.5 323.5,360.0 325.0,361.5 326.5,362.9 328.0,364.2 329.5,365.5 331.0,366.8 332.5,368.1 334.0,369.3 335.5,370.4 337.0,371.4 338.5,372.5 340.0,373.5 341.5,374.4 343.0,375.1 344.5,375.5 346.0,375.8 347.5,376.1 349.0,376.4 350.5,376.6 352.0,376.7 353.5,376.8 355.0,376.9 356.5,376.9 358.0,377.0 359.5,377.0 361.0,377.1 362.5,377.1 364.0,377.2 365.5,377.2 367.0,377.2 368.5,377.3 370.0,377.3 371.5,377.4 373.0,377.4 373.8,377.4" stroke="#80108A"/>
<path d="M247.0,364.5 248.5,363.7 250.0,363.0 251.5,362.3 253.0,361.5 254.5,360.6 256.0,359.6 257.5,358.4 259.0,357.2 260.5,355.8 262.0,354.4 263.5,353.0 265.0,351.6 266.5,350.1 268.0,348.6 269.5,347.1 271.0,345.5 272.5,344.0 274.0,342.4 275.5,340.6 277.0,338.9 278.5,337.3 280.0,335.9 281.5,334.7 283.0,333.4 284.5,332.3 286.0,331.5 287.5,331.4 289.0,331.7 290.5,332.1 292.0,332.4 293.5,332.4 295.0,332.3 296.5,332.2 298.0,332.2 299.5,334.3 301.0,338.0 302.5,341.8 304.0,344.5 305.5,346.9 307.0,349.1 308.5,350.4 310.0,351.2 311.5,351.8 313.0,352.2 314.5,352.6 316.0,353.1 317.5,353.8 319.0,354.9 320.5,356.2 322.0,357.7 323.5,359.3 325.0,360.8 326.5,362.2 328.0,363.6 329.5,365.0 331.0,366.3 332.5,367.7 334.0,368.9 335.5,370.0 337.0,371.1 338.5,372.3 340.0,373.3 341.5,374.2 343.0,374.9 344.5,375.4 346.0,375.8 347.5,376.1 349.0,376.3 350.5,376.5 352.0,376.7 353.5,376.8 355.0,376.9 356.5,377.0 358.0,377.0 359.5,377.1 361.0,377.2 362.5,377.2 364.0,377.3 365.5,377.3 367.0,377.3 368.5,377.4 370.0,377.4 371.5,377.5 373.0,377.5 373.8,377.6" stroke="#800000"/>
<path d="M247.0,364.3 248.5,363.6 250.0,362.8 251.5,362.1 253.0,361.2 254.5,360.3 256.0,359.3 257.5,358.1 259.0,356.8 260.5,355.4 262.0,353.9 263.5,352.4 265.0,351.0 266.5,349.4 268.0,347.8 269.5,346.2 271.0,344.6 272.5,342.9 274.0,341.2 275.5,339.4 277.0,337.5 278.5,335.8 280.0,334.4 281.5,333.0 283.0,331.6 284.5,330.4 286.0,329.6 287.5,329.4 289.0,329.7 290.5,330.2 292.0,330.4 293.5,330.4 295.0,330.3 296.5,330.2 298.0,330.2 299.5,332.4 301.0,336.3 302.5,340.3 304.0,343.1 305.5,345.7 307.0,348.0 308.5,349.4 310.0,350.2 311.5,350.8 313.0,351.2 314.5,351.7 316.0,352.2 317.5,353.0 319.0,354.0 320.5,355.4 322.0,356.9 323.5,358.5 325.0,360.1 326.5,361.5 328.0,363.0 329.5,364.4 331.0,365.8 332.5,367.2 334.0,368.5 335.5,369.7 337.0,370.9 338.5,372.0 340.0,373.1 341.5,374.0 343.0,374.8 344.5,375.3 346.0,375.7 347.5,376.0 349.0,376.3 350.5,376.5 352.0,376.7 353.5,376.8 355.0,376.9 356.5,377.0 358.0,377.1 359.5,377.2 361.0,377.2 362.5,377.3 364.0,377.3 365.5,377.4 367.0,377.4 368.5,377.5 370.0,377.6 371.5,377.6 373.0,377.7 373.8,377.7" stroke="#1E7A3C"/>
<path d="M247.0,364.2 248.5,363.4 250.0,362.6 251.5,361.8 253.0,361.0 254.5,360.1 256.0,359.0 257.5,357.8 259.0,356.4 260.5,354.9 262.0,353.4 263.5,351.9 265.0,350.4 266.5,348.7 268.0,347.1 269.5,345.3 271.0,343.6 272.5,341.8 274.0,340.0 275.5,338.1 277.0,336.1 278.5,334.3 280.0,332.8 281.5,331.3 283.0,329.8 284.5,328.5 286.0,327.7 287.5,327.5 289.0,327.8 290.5,328.2 292.0,328.5 293.5,328.5 295.0,328.3 296.5,328.2 298.0,328.2 299.5,330.5 301.0,334.7 302.5,338.8 304.0,341.8 305.5,344.5 307.0,346.9 308.5,348.4 310.0,349.2 311.5,349.8 313.0,350.3 314.5,350.8 316.0,351.3 317.5,352.1 319.0,353.2 320.5,354.5 322.0,356.1 323.5,357.7 325.0,359.4 326.5,360.9 328.0,362.3 329.5,363.8 331.0,365.3 332.5,366.8 334.0,368.1 335.5,369.4 337.0,370.6 338.5,371.8 340.0,372.9 341.5,373.9 343.0,374.6 344.5,375.2 346.0,375.6 347.5,375.9 349.0,376.2 350.5,376.5 352.0,376.7 353.5,376.8 355.0,377.0 356.5,377.1 358.0,377.1 359.5,377.2 361.0,377.3 362.5,377.4 364.0,377.4 365.5,377.5 367.0,377.6 368.5,377.6 370.0,377.7 371.5,377.7 373.0,377.8 373.8,377.8" stroke="#0A0AF0"/>
<path d="M247.0,364.0 248.5,363.2 250.0,362.4 251.5,361.6 253.0,360.8 254.5,359.8 256.0,358.7 257.5,357.4 259.0,356.0 260.5,354.5 262.0,352.9 263.5,351.3 265.0,349.7 266.5,348.0 268.0,346.3 269.5,344.5 271.0,342.6 272.5,340.8 274.0,338.9 275.5,336.8 277.0,334.8 278.5,332.8 280.0,331.2 281.5,329.6 283.0,328.0 284.5,326.6 286.0,325.7 287.5,325.5 289.0,325.8 290.5,326.3 292.0,326.6 293.5,326.5 295.0,326.4 296.5,326.2 298.0,326.2 299.5,328.6 301.0,333.0 302.5,337.3 304.0,340.4 305.5,343.3 307.0,345.8 308.5,347.3 310.0,348.2 311.5,348.9 313.0,349.4 314.5,349.8 316.0,350.4 317.5,351.2 319.0,352.3 320.5,353.7 322.0,355.3 323.5,357.0 325.0,358.6 326.5,360.2 328.0,361.7 329.5,363.3 331.0,364.8 332.5,366.4 334.0,367.8 335.5,369.0 337.0,370.3 338.5,371.5 340.0,372.7 341.5,373.7 343.0,374.5 344.5,375.0 346.0,375.5 347.5,375.9 349.0,376.2 350.5,376.5 352.0,376.7 353.5,376.9 355.0,377.0 356.5,377.1 358.0,377.2 359.5,377.3 361.0,377.4 362.5,377.4 364.0,377.5 365.5,377.6 367.0,377.7 368.5,377.7 370.0,377.8 371.5,377.9 373.0,377.9 373.8,378.0" stroke="#1CA8E0"/>
<path d="M247.0,363.8 248.5,363.0 250.0,362.2 251.5,361.4 253.0,360.5 254.5,359.6 256.0,358.4 257.5,357.1 259.0,355.6 260.5,354.1 262.0,352.4 263.5,350.8 265.0,349.1 266.5,347.3 268.0,345.5 269.5,343.6 271.0,341.7 272.5,339.7 274.0,337.7 275.5,335.5 277.0,333.4 278.5,331.3 280.0,329.6 281.5,327.9 283.0,326.2 284.5,324.7 286.0,323.8 287.5,323.6 289.0,323.9 290.5,324.3 292.0,324.6 293.5,324.6 295.0,324.4 296.5,324.2 298.0,324.3 299.5,326.7 301.0,331.3 302.5,335.8 304.0,339.0 305.5,342.1 307.0,344.7 308.5,346.3 310.0,347.2 311.5,347.9 313.0,348.4 314.5,348.9 316.0,349.5 317.5,350.3 319.0,351.5 320.5,352.9 322.0,354.5 323.5,356.2 325.0,357.9 326.5,359.5 328.0,361.1 329.5,362.7 331.0,364.3 332.5,365.9 334.0,367.4 335.5,368.7 337.0,370.0 338.5,371.2 340.0,372.4 341.5,373.5 343.0,374.3 344.5,374.9 346.0,375.4 347.5,375.8 349.0,376.2 350.5,376.5 352.0,376.7 353.5,376.9 355.0,377.0 356.5,377.1 358.0,377.3 359.5,377.4 361.0,377.4 362.5,377.5 364.0,377.6 365.5,377.7 367.0,377.8 368.5,377.8 370.0,377.9 371.5,378.0 373.0,378.1 373.8,378.1" stroke="#A6D4D8"/>
<path d="M247.0,363.6 248.5,362.8 250.0,362.0 251.5,361.2 253.0,360.3 254.5,359.3 256.0,358.1 257.5,356.8 259.0,355.3 260.5,353.6 262.0,352.0 263.5,350.2 265.0,348.5 266.5,346.6 268.0,344.7 269.5,342.7 271.0,340.7 272.5,338.6 274.0,336.5 275.5,334.3 277.0,332.0 278.5,329.9 280.0,328.0 281.5,326.2 283.0,324.4 284.5,322.8 286.0,321.8 287.5,321.6 289.0,321.9 290.5,322.4 292.0,322.7 293.5,322.6 295.0,322.5 296.5,322.3 298.0,322.3 299.5,324.9 301.0,329.6 302.5,334.3 304.0,337.7 305.5,340.9 307.0,343.6 308.5,345.3 310.0,346.2 311.5,346.9 313.0,347.5 314.5,348.0 316.0,348.6 317.5,349.4 319.0,350.6 320.5,352.1 322.0,353.7 323.5,355.5 325.0,357.2 326.5,358.8 328.0,360.5 329.5,362.2 331.0,363.9 332.5,365.5 334.0,367.0 335.5,368.4 337.0,369.7 338.5,371.0 340.0,372.2 341.5,373.3 343.0,374.2 344.5,374.8 346.0,375.3 347.5,375.7 349.0,376.1 350.5,376.4 352.0,376.7 353.5,376.9 355.0,377.0 356.5,377.2 358.0,377.3 359.5,377.4 361.0,377.5 362.5,377.6 364.0,377.7 365.5,377.8 367.0,377.9 368.5,377.9 370.0,378.0 371.5,378.1 373.0,378.2 373.8,378.3" stroke="#64DCB0"/>
<path d="M247.0,363.5 248.5,362.6 250.0,361.8 251.5,360.9 253.0,360.0 254.5,359.0 256.0,357.8 257.5,356.4 259.0,354.9 260.5,353.2 262.0,351.5 263.5,349.7 265.0,347.9 266.5,345.9 268.0,343.9 269.5,341.8 271.0,339.7 272.5,337.6 274.0,335.4 275.5,333.0 277.0,330.6 278.5,328.4 280.0,326.4 281.5,324.5 283.0,322.6 284.5,320.9 286.0,319.9 287.5,319.6 289.0,320.0 290.5,320.4 292.0,320.7 293.5,320.7 295.0,320.5 296.5,320.3 298.0,320.3 299.5,323.0 301.0,327.9 302.5,332.8 304.0,336.3 305.5,339.6 307.0,342.4 308.5,344.2 310.0,345.2 311.5,345.9 313.0,346.5 314.5,347.0 316.0,347.7 317.5,348.5 319.0,349.8 320.5,351.2 322.0,352.9 323.5,354.7 325.0,356.5 326.5,358.2 328.0,359.9 329.5,361.6 331.0,363.4 332.5,365.0 334.0,366.6 335.5,368.0 337.0,369.4 338.5,370.7 340.0,372.0 341.5,373.1 343.0,374.0 344.5,374.7 346.0,375.2 347.5,375.7 349.0,376.1 350.5,376.4 352.0,376.7 353.5,376.9 355.0,377.1 356.5,377.2 358.0,377.4 359.5,377.5 361.0,377.6 362.5,377.7 364.0,377.8 365.5,377.9 367.0,378.0 368.5,378.1 370.0,378.1 371.5,378.2 373.0,378.3 373.8,378.4" stroke="#D6CE70"/>
<path d="M247.0,363.3 248.5,362.4 250.0,361.6 251.5,360.7 253.0,359.8 254.5,358.8 256.0,357.5 257.5,356.1 259.0,354.5 260.5,352.8 262.0,351.0 263.5,349.1 265.0,347.3 266.5,345.2 268.0,343.1 269.5,341.0 271.0,338.7 272.5,336.5 274.0,334.2 275.5,331.7 277.0,329.2 278.5,326.9 280.0,324.9 281.5,322.8 283.0,320.8 284.5,319.1 286.0,317.9 287.5,317.7 289.0,318.0 290.5,318.5 292.0,318.8 293.5,318.8 295.0,318.5 296.5,318.3 298.0,318.3 299.5,321.1 301.0,326.2 302.5,331.3 304.0,335.0 305.5,338.4 307.0,341.3 308.5,343.2 310.0,344.2 311.5,345.0 313.0,345.6 314.5,346.1 316.0,346.8 317.5,347.7 319.0,348.9 320.5,350.4 322.0,352.1 323.5,354.0 325.0,355.8 326.5,357.5 328.0,359.2 329.5,361.0 331.0,362.9 332.5,364.6 334.0,366.2 335.5,367.7 337.0,369.1 338.5,370.5 340.0,371.8 341.5,372.9 343.0,373.9 344.5,374.5 346.0,375.1 347.5,375.6 349.0,376.0 350.5,376.4 352.0,376.7 353.5,376.9 355.0,377.1 356.5,377.3 358.0,377.4 359.5,377.5 361.0,377.7 362.5,377.8 364.0,377.9 365.5,378.0 367.0,378.1 368.5,378.2 370.0,378.3 371.5,378.4 373.0,378.5 373.8,378.5" stroke="#20B4F0"/>
<path d="M247.0,363.1 248.5,362.2 250.0,361.4 251.5,360.5 253.0,359.6 254.5,358.5 256.0,357.2 257.5,355.8 259.0,354.1 260.5,352.4 262.0,350.5 263.5,348.6 265.0,346.6 266.5,344.5 268.0,342.3 269.5,340.1 271.0,337.8 272.5,335.4 274.0,333.0 275.5,330.4 277.0,327.8 278.5,325.4 280.0,323.3 281.5,321.2 283.0,319.0 284.5,317.2 286.0,316.0 287.5,315.7 289.0,316.1 290.5,316.5 292.0,316.9 293.5,316.8 295.0,316.6 296.5,316.3 298.0,316.3 299.5,319.2 301.0,324.5 302.5,329.9 304.0,333.6 305.5,337.2 307.0,340.2 308.5,342.2 310.0,343.2 311.5,344.0 313.0,344.6 314.5,345.2 316.0,345.9 317.5,346.8 319.0,348.1 320.5,349.6 322.0,351.4 323.5,353.2 325.0,355.1 326.5,356.8 328.0,358.6 329.5,360.5 331.0,362.4 332.5,364.2 334.0,365.9 335.5,367.4 337.0,368.8 338.5,370.2 340.0,371.6 341.5,372.7 343.0,373.7 344.5,374.4 346.0,375.0 347.5,375.5 349.0,376.0 350.5,376.4 352.0,376.7 353.5,376.9 355.0,377.1 356.5,377.3 358.0,377.5 359.5,377.6 361.0,377.7 362.5,377.9 364.0,378.0 365.5,378.1 367.0,378.2 368.5,378.3 370.0,378.4 371.5,378.5 373.0,378.6 373.8,378.7" stroke="#F0A47E"/>
</g>
<rect x="247" y="262" width="126.8" height="117.6" fill="none" stroke="#2a2a2a" stroke-width="1.7"/>
<line x1="243" y1="379.6" x2="247" y2="379.6" stroke="#444" stroke-width="1.2"/>
<text x="236.5" y="383.9" class="tk" text-anchor="end">0.0</text>
<line x1="243" y1="340.4" x2="247" y2="340.4" stroke="#444" stroke-width="1.2"/>
<text x="236.5" y="344.7" class="tk" text-anchor="end">0.3</text>
<line x1="243" y1="301.2" x2="247" y2="301.2" stroke="#444" stroke-width="1.2"/>
<text x="236.5" y="305.5" class="tk" text-anchor="end">0.6</text>
<line x1="243" y1="262.0" x2="247" y2="262.0" stroke="#444" stroke-width="1.2"/>
<text x="236.5" y="266.3" class="tk" text-anchor="end">0.9</text>
<line x1="247.0" y1="379.6" x2="247.0" y2="383.6" stroke="#444" stroke-width="1.2"/>
<text x="247.0" y="398.1" class="tk" text-anchor="middle">325</text>
<line x1="288.0" y1="379.6" x2="288.0" y2="383.6" stroke="#444" stroke-width="1.2"/>
<text x="288.0" y="398.1" class="tk" text-anchor="middle">430</text>
<line x1="328.9" y1="379.6" x2="328.9" y2="383.6" stroke="#444" stroke-width="1.2"/>
<text x="328.9" y="398.1" class="tk" text-anchor="middle">535</text>
<line x1="369.9" y1="379.6" x2="369.9" y2="383.6" stroke="#444" stroke-width="1.2"/>
<text x="369.9" y="398.1" class="tk" text-anchor="middle">640</text>
<text x="252.5" y="279.1" class="lab">(B)</text>
<text x="350.2" y="327.4" class="an" text-anchor="middle">10.4 µM</text>
<path d="M346.2,337.6 L350.4,330.2 L354.6,337.6 Z" fill="#111"/>
<line x1="350.4" y1="337.1" x2="350.4" y2="356.1" stroke="#111" stroke-width="2"/>
<text x="350.4" y="371" class="an" text-anchor="middle">0</text>
<rect x="410.8" y="262" width="127.5" height="118.0" fill="#C9C9C9"/>
<rect x="412.3" y="263.5" width="124.5" height="115.0" fill="none" stroke="#D5D5D5" stroke-width="0.9"/>
<clipPath id="c6"><rect x="410.8" y="262" width="127.5" height="118.0"/></clipPath>
<g clip-path="url(#c6)" fill="none" stroke-width="2.3" stroke-linejoin="round">
<path d="M410.8,364.5 412.3,364.0 413.8,363.5 415.3,363.0 416.8,362.5 418.3,361.9 419.8,361.2 421.3,360.5 422.8,359.6 424.3,358.7 425.8,357.8 427.3,356.8 428.8,355.7 430.3,354.6 431.8,353.3 433.3,352.1 434.8,350.8 436.3,349.6 437.8,348.4 439.3,347.2 440.8,346.0 442.3,344.9 443.8,344.0 445.3,343.2 446.8,342.4 448.3,341.8 449.8,341.3 451.3,341.2 452.8,341.4 454.3,341.8 455.8,342.1 457.3,342.1 458.8,342.1 460.3,342.1 461.8,342.1 463.3,343.0 464.8,345.0 466.3,347.3 467.8,349.1 469.3,350.8 470.8,352.5 472.3,353.7 473.8,354.5 475.3,355.1 476.8,355.6 478.3,356.0 479.8,356.6 481.3,357.3 482.8,358.3 484.3,359.5 485.8,361.0 487.3,362.5 488.8,364.0 490.3,365.3 491.8,366.6 493.3,368.0 494.8,369.3 496.3,370.5 497.8,371.6 499.3,372.5 500.8,373.2 502.3,373.9 503.8,374.5 505.3,375.0 506.8,375.4 508.3,375.7 509.8,375.9 511.3,376.1 512.8,376.3 514.3,376.4 515.8,376.5 517.3,376.6 518.8,376.6 520.3,376.7 521.8,376.7 523.3,376.7 524.8,376.7 526.3,376.7 527.8,376.8 529.3,376.8 530.8,376.8 532.3,376.8 533.8,376.8 535.3,376.8 536.8,376.8 538.3,376.9" stroke="#2B3F86"/>
<path d="M410.8,364.4 412.3,363.9 413.8,363.4 415.3,363.0 416.8,362.4 418.3,361.8 419.8,361.2 421.3,360.4 422.8,359.6 424.3,358.6 425.8,357.7 427.3,356.6 428.8,355.6 430.3,354.4 431.8,353.2 433.3,351.9 434.8,350.6 436.3,349.3 437.8,348.1 439.3,346.8 440.8,345.6 442.3,344.4 443.8,343.5 445.3,342.6 446.8,341.7 448.3,341.0 449.8,340.4 451.3,340.3 452.8,340.5 454.3,340.9 455.8,341.1 457.3,341.2 458.8,341.2 460.3,341.2 461.8,341.2 463.3,342.2 464.8,344.5 466.3,347.0 467.8,348.9 469.3,350.7 470.8,352.3 472.3,353.6 473.8,354.3 475.3,354.9 476.8,355.4 478.3,355.9 479.8,356.4 481.3,357.2 482.8,358.1 484.3,359.4 485.8,360.8 487.3,362.4 488.8,363.8 490.3,365.2 491.8,366.5 493.3,367.8 494.8,369.1 496.3,370.4 497.8,371.4 499.3,372.3 500.8,373.1 502.3,373.8 503.8,374.4 505.3,374.9 506.8,375.4 508.3,375.7 509.8,375.9 511.3,376.1 512.8,376.3 514.3,376.4 515.8,376.6 517.3,376.6 518.8,376.7 520.3,376.7 521.8,376.7 523.3,376.7 524.8,376.8 526.3,376.8 527.8,376.8 529.3,376.8 530.8,376.8 532.3,376.9 533.8,376.9 535.3,376.9 536.8,376.9 538.3,376.9" stroke="#FF10C8"/>
<path d="M410.8,364.4 412.3,363.9 413.8,363.4 415.3,362.9 416.8,362.4 418.3,361.8 419.8,361.1 421.3,360.3 422.8,359.5 424.3,358.5 425.8,357.5 427.3,356.5 428.8,355.4 430.3,354.2 431.8,353.0 433.3,351.6 434.8,350.3 436.3,349.0 437.8,347.8 439.3,346.5 440.8,345.1 442.3,343.9 443.8,342.9 445.3,342.0 446.8,341.0 448.3,340.1 449.8,339.6 451.3,339.4 452.8,339.6 454.3,339.9 455.8,340.2 457.3,340.2 458.8,340.2 460.3,340.3 461.8,340.3 463.3,341.5 464.8,344.0 466.3,346.7 467.8,348.7 469.3,350.5 470.8,352.2 472.3,353.4 473.8,354.2 475.3,354.8 476.8,355.3 478.3,355.8 479.8,356.3 481.3,357.0 482.8,358.0 484.3,359.3 485.8,360.7 487.3,362.2 488.8,363.7 490.3,365.0 491.8,366.3 493.3,367.7 494.8,369.0 496.3,370.2 497.8,371.3 499.3,372.2 500.8,372.9 502.3,373.7 503.8,374.3 505.3,374.9 506.8,375.3 508.3,375.6 509.8,375.9 511.3,376.1 512.8,376.3 514.3,376.5 515.8,376.6 517.3,376.6 518.8,376.7 520.3,376.7 521.8,376.8 523.3,376.8 524.8,376.8 526.3,376.8 527.8,376.9 529.3,376.9 530.8,376.9 532.3,376.9 533.8,376.9 535.3,376.9 536.8,377.0 538.3,377.0" stroke="#E6DC10"/>
<path d="M410.8,364.3 412.3,363.8 413.8,363.3 415.3,362.8 416.8,362.3 418.3,361.7 419.8,361.0 421.3,360.2 422.8,359.4 424.3,358.4 425.8,357.4 427.3,356.4 428.8,355.3 430.3,354.1 431.8,352.8 433.3,351.4 434.8,350.1 436.3,348.8 437.8,347.5 439.3,346.1 440.8,344.7 442.3,343.5 443.8,342.4 445.3,341.3 446.8,340.3 448.3,339.3 449.8,338.7 451.3,338.5 452.8,338.7 454.3,339.0 455.8,339.2 457.3,339.3 458.8,339.3 460.3,339.4 461.8,339.4 463.3,340.7 464.8,343.5 466.3,346.5 467.8,348.5 469.3,350.4 470.8,352.0 472.3,353.3 473.8,354.1 475.3,354.7 476.8,355.2 478.3,355.6 479.8,356.2 481.3,356.9 482.8,357.9 484.3,359.1 485.8,360.6 487.3,362.1 488.8,363.6 490.3,364.9 491.8,366.2 493.3,367.5 494.8,368.8 496.3,370.1 497.8,371.1 499.3,372.0 500.8,372.8 502.3,373.5 503.8,374.2 505.3,374.8 506.8,375.3 508.3,375.6 509.8,375.9 511.3,376.1 512.8,376.3 514.3,376.5 515.8,376.6 517.3,376.7 518.8,376.7 520.3,376.8 521.8,376.8 523.3,376.8 524.8,376.9 526.3,376.9 527.8,376.9 529.3,376.9 530.8,376.9 532.3,377.0 533.8,377.0 535.3,377.0 536.8,377.0 538.3,377.1" stroke="#10E0E8"/>
<path d="M410.8,364.2 412.3,363.7 413.8,363.2 415.3,362.7 416.8,362.2 418.3,361.6 419.8,361.0 421.3,360.2 422.8,359.3 424.3,358.3 425.8,357.3 427.3,356.2 428.8,355.1 430.3,353.9 431.8,352.6 433.3,351.2 434.8,349.9 436.3,348.5 437.8,347.2 439.3,345.7 440.8,344.3 442.3,343.0 443.8,341.8 445.3,340.7 446.8,339.5 448.3,338.5 449.8,337.8 451.3,337.6 452.8,337.8 454.3,338.1 455.8,338.3 457.3,338.3 458.8,338.4 460.3,338.4 461.8,338.5 463.3,340.0 464.8,343.0 466.3,346.2 467.8,348.4 469.3,350.2 470.8,351.9 472.3,353.1 473.8,353.9 475.3,354.5 476.8,355.0 478.3,355.5 479.8,356.0 481.3,356.7 482.8,357.7 484.3,359.0 485.8,360.4 487.3,361.9 488.8,363.4 490.3,364.8 491.8,366.1 493.3,367.4 494.8,368.7 496.3,369.9 497.8,371.0 499.3,371.9 500.8,372.7 502.3,373.4 503.8,374.1 505.3,374.7 506.8,375.2 508.3,375.6 509.8,375.8 511.3,376.1 512.8,376.3 514.3,376.5 515.8,376.6 517.3,376.7 518.8,376.7 520.3,376.8 521.8,376.8 523.3,376.9 524.8,376.9 526.3,376.9 527.8,377.0 529.3,377.0 530.8,377.0 532.3,377.0 533.8,377.1 535.3,377.1 536.8,377.1 538.3,377.1" stroke="#80108A"/>
<path d="M410.8,364.1 412.3,363.6 413.8,363.1 415.3,362.7 416.8,362.1 418.3,361.6 419.8,360.9 421.3,360.1 422.8,359.2 424.3,358.2 425.8,357.2 427.3,356.1 428.8,355.0 430.3,353.7 431.8,352.4 433.3,351.0 434.8,349.6 436.3,348.3 437.8,346.9 439.3,345.4 440.8,343.9 442.3,342.5 443.8,341.3 445.3,340.1 446.8,338.8 448.3,337.7 449.8,336.9 451.3,336.7 452.8,336.9 454.3,337.1 455.8,337.3 457.3,337.4 458.8,337.4 460.3,337.5 461.8,337.6 463.3,339.2 464.8,342.5 466.3,345.9 467.8,348.2 469.3,350.1 470.8,351.8 472.3,353.0 473.8,353.8 475.3,354.4 476.8,354.9 478.3,355.3 479.8,355.9 481.3,356.6 482.8,357.6 484.3,358.8 485.8,360.3 487.3,361.8 488.8,363.3 490.3,364.6 491.8,365.9 493.3,367.2 494.8,368.5 496.3,369.7 497.8,370.8 499.3,371.8 500.8,372.6 502.3,373.3 503.8,374.0 505.3,374.7 506.8,375.2 508.3,375.5 509.8,375.8 511.3,376.1 512.8,376.3 514.3,376.5 515.8,376.6 517.3,376.7 518.8,376.8 520.3,376.8 521.8,376.9 523.3,376.9 524.8,376.9 526.3,377.0 527.8,377.0 529.3,377.0 530.8,377.1 532.3,377.1 533.8,377.1 535.3,377.1 536.8,377.2 538.3,377.2" stroke="#800000"/>
<path d="M410.8,364.0 412.3,363.5 413.8,363.1 415.3,362.6 416.8,362.1 418.3,361.5 419.8,360.8 421.3,360.0 422.8,359.1 424.3,358.1 425.8,357.1 427.3,356.0 428.8,354.8 430.3,353.6 431.8,352.2 433.3,350.8 434.8,349.4 436.3,348.0 437.8,346.6 439.3,345.0 440.8,343.5 442.3,342.0 443.8,340.7 445.3,339.4 446.8,338.1 448.3,336.9 449.8,336.1 451.3,335.8 452.8,335.9 454.3,336.2 455.8,336.4 457.3,336.4 458.8,336.5 460.3,336.6 461.8,336.7 463.3,338.5 464.8,342.0 466.3,345.7 467.8,348.0 469.3,349.9 470.8,351.6 472.3,352.8 473.8,353.7 475.3,354.3 476.8,354.7 478.3,355.2 479.8,355.7 481.3,356.5 482.8,357.4 484.3,358.7 485.8,360.1 487.3,361.6 488.8,363.1 490.3,364.5 491.8,365.8 493.3,367.1 494.8,368.4 496.3,369.6 497.8,370.7 499.3,371.6 500.8,372.4 502.3,373.2 503.8,373.9 505.3,374.6 506.8,375.1 508.3,375.5 509.8,375.8 511.3,376.1 512.8,376.3 514.3,376.5 515.8,376.6 517.3,376.7 518.8,376.8 520.3,376.8 521.8,376.9 523.3,376.9 524.8,377.0 526.3,377.0 527.8,377.1 529.3,377.1 530.8,377.1 532.3,377.1 533.8,377.2 535.3,377.2 536.8,377.2 538.3,377.3" stroke="#1E7A3C"/>
<path d="M410.8,364.0 412.3,363.5 413.8,363.0 415.3,362.5 416.8,362.0 418.3,361.4 419.8,360.7 421.3,359.9 422.8,359.0 424.3,358.0 425.8,356.9 427.3,355.8 428.8,354.7 430.3,353.4 431.8,352.1 433.3,350.6 434.8,349.2 436.3,347.7 437.8,346.3 439.3,344.7 440.8,343.1 442.3,341.5 443.8,340.2 445.3,338.8 446.8,337.4 448.3,336.1 449.8,335.2 451.3,334.9 452.8,335.0 454.3,335.2 455.8,335.4 457.3,335.5 458.8,335.6 460.3,335.7 461.8,335.8 463.3,337.7 464.8,341.5 466.3,345.4 467.8,347.8 469.3,349.8 470.8,351.5 472.3,352.7 473.8,353.5 475.3,354.1 476.8,354.6 478.3,355.1 479.8,355.6 481.3,356.3 482.8,357.3 484.3,358.6 485.8,360.0 487.3,361.5 488.8,363.0 490.3,364.3 491.8,365.6 493.3,366.9 494.8,368.2 496.3,369.4 497.8,370.5 499.3,371.5 500.8,372.3 502.3,373.1 503.8,373.9 505.3,374.5 506.8,375.0 508.3,375.4 509.8,375.8 511.3,376.0 512.8,376.3 514.3,376.5 515.8,376.6 517.3,376.7 518.8,376.8 520.3,376.9 521.8,376.9 523.3,377.0 524.8,377.0 526.3,377.1 527.8,377.1 529.3,377.1 530.8,377.2 532.3,377.2 533.8,377.2 535.3,377.3 536.8,377.3 538.3,377.3" stroke="#0A0AF0"/>
<path d="M410.8,363.9 412.3,363.4 413.8,362.9 415.3,362.4 416.8,361.9 418.3,361.3 419.8,360.7 421.3,359.8 422.8,358.9 424.3,357.9 425.8,356.8 427.3,355.7 428.8,354.5 430.3,353.2 431.8,351.9 433.3,350.4 434.8,349.0 436.3,347.5 437.8,346.0 439.3,344.3 440.8,342.7 442.3,341.1 443.8,339.6 445.3,338.2 446.8,336.6 448.3,335.3 449.8,334.3 451.3,334.0 452.8,334.1 454.3,334.3 455.8,334.5 457.3,334.6 458.8,334.6 460.3,334.8 461.8,334.9 463.3,336.9 464.8,341.0 466.3,345.1 467.8,347.7 469.3,349.7 470.8,351.3 472.3,352.6 473.8,353.4 475.3,354.0 476.8,354.5 478.3,354.9 479.8,355.5 481.3,356.2 482.8,357.2 484.3,358.4 485.8,359.9 487.3,361.4 488.8,362.8 490.3,364.2 491.8,365.5 493.3,366.8 494.8,368.1 496.3,369.3 497.8,370.4 499.3,371.3 500.8,372.2 502.3,373.0 503.8,373.8 505.3,374.4 506.8,375.0 508.3,375.4 509.8,375.7 511.3,376.0 512.8,376.3 514.3,376.5 515.8,376.7 517.3,376.8 518.8,376.8 520.3,376.9 521.8,377.0 523.3,377.0 524.8,377.1 526.3,377.1 527.8,377.2 529.3,377.2 530.8,377.2 532.3,377.3 533.8,377.3 535.3,377.3 536.8,377.4 538.3,377.4" stroke="#1CA8E0"/>
<path d="M410.8,363.8 412.3,363.3 413.8,362.8 415.3,362.4 416.8,361.9 418.3,361.3 419.8,360.6 421.3,359.8 422.8,358.8 424.3,357.8 425.8,356.7 427.3,355.6 428.8,354.4 430.3,353.1 431.8,351.7 433.3,350.2 434.8,348.7 436.3,347.2 437.8,345.7 439.3,344.0 440.8,342.2 442.3,340.6 443.8,339.1 445.3,337.5 446.8,335.9 448.3,334.4 449.8,333.4 451.3,333.1 452.8,333.2 454.3,333.4 455.8,333.5 457.3,333.6 458.8,333.7 460.3,333.8 461.8,334.0 463.3,336.2 464.8,340.5 466.3,344.9 467.8,347.5 469.3,349.5 470.8,351.2 472.3,352.4 473.8,353.2 475.3,353.8 476.8,354.3 478.3,354.8 479.8,355.3 481.3,356.0 482.8,357.0 484.3,358.3 485.8,359.7 487.3,361.2 488.8,362.7 490.3,364.1 491.8,365.3 493.3,366.6 494.8,367.9 496.3,369.1 497.8,370.2 499.3,371.2 500.8,372.1 502.3,372.9 503.8,373.7 505.3,374.4 506.8,374.9 508.3,375.4 509.8,375.7 511.3,376.0 512.8,376.3 514.3,376.5 515.8,376.7 517.3,376.8 518.8,376.9 520.3,376.9 521.8,377.0 523.3,377.1 524.8,377.1 526.3,377.2 527.8,377.2 529.3,377.2 530.8,377.3 532.3,377.3 533.8,377.4 535.3,377.4 536.8,377.4 538.3,377.5" stroke="#A6D4D8"/>
<path d="M410.8,363.7 412.3,363.2 413.8,362.8 415.3,362.3 416.8,361.8 418.3,361.2 419.8,360.5 421.3,359.7 422.8,358.7 424.3,357.7 425.8,356.6 427.3,355.4 428.8,354.2 430.3,352.9 431.8,351.5 433.3,350.0 434.8,348.5 436.3,347.0 437.8,345.4 439.3,343.6 440.8,341.8 442.3,340.1 443.8,338.5 445.3,336.9 446.8,335.2 448.3,333.6 449.8,332.5 451.3,332.2 452.8,332.3 454.3,332.4 455.8,332.6 457.3,332.7 458.8,332.8 460.3,332.9 461.8,333.1 463.3,335.4 464.8,340.0 466.3,344.6 467.8,347.3 469.3,349.4 470.8,351.0 472.3,352.3 473.8,353.1 475.3,353.7 476.8,354.2 478.3,354.6 479.8,355.2 481.3,355.9 482.8,356.9 484.3,358.1 485.8,359.6 487.3,361.1 488.8,362.6 490.3,363.9 491.8,365.2 493.3,366.5 494.8,367.8 496.3,369.0 497.8,370.1 499.3,371.1 500.8,371.9 502.3,372.8 503.8,373.6 505.3,374.3 506.8,374.9 508.3,375.3 509.8,375.7 511.3,376.0 512.8,376.3 514.3,376.5 515.8,376.7 517.3,376.8 518.8,376.9 520.3,377.0 521.8,377.0 523.3,377.1 524.8,377.2 526.3,377.2 527.8,377.3 529.3,377.3 530.8,377.3 532.3,377.4 533.8,377.4 535.3,377.5 536.8,377.5 538.3,377.6" stroke="#64DCB0"/>
<path d="M410.8,363.6 412.3,363.2 413.8,362.7 415.3,362.2 416.8,361.7 418.3,361.1 419.8,360.4 421.3,359.6 422.8,358.7 424.3,357.6 425.8,356.5 427.3,355.3 428.8,354.1 430.3,352.8 431.8,351.3 433.3,349.8 434.8,348.3 436.3,346.7 437.8,345.1 439.3,343.3 440.8,341.4 442.3,339.6 443.8,338.0 445.3,336.3 446.8,334.5 448.3,332.8 449.8,331.7 451.3,331.3 452.8,331.4 454.3,331.5 455.8,331.6 457.3,331.7 458.8,331.8 460.3,332.0 461.8,332.2 463.3,334.7 464.8,339.5 466.3,344.3 467.8,347.1 469.3,349.2 470.8,350.9 472.3,352.1 473.8,353.0 475.3,353.6 476.8,354.0 478.3,354.5 479.8,355.0 481.3,355.7 482.8,356.7 484.3,358.0 485.8,359.4 487.3,360.9 488.8,362.4 490.3,363.8 491.8,365.1 493.3,366.4 494.8,367.6 496.3,368.8 497.8,369.9 499.3,370.9 500.8,371.8 502.3,372.7 503.8,373.5 505.3,374.2 506.8,374.8 508.3,375.3 509.8,375.7 511.3,376.0 512.8,376.3 514.3,376.5 515.8,376.7 517.3,376.8 518.8,376.9 520.3,377.0 521.8,377.1 523.3,377.1 524.8,377.2 526.3,377.3 527.8,377.3 529.3,377.3 530.8,377.4 532.3,377.4 533.8,377.5 535.3,377.5 536.8,377.6 538.3,377.6" stroke="#D6CE70"/>
<path d="M410.8,363.6 412.3,363.1 413.8,362.6 415.3,362.2 416.8,361.6 418.3,361.1 419.8,360.4 421.3,359.5 422.8,358.6 424.3,357.5 425.8,356.3 427.3,355.2 428.8,353.9 430.3,352.6 431.8,351.1 433.3,349.6 434.8,348.0 436.3,346.4 437.8,344.7 439.3,342.9 440.8,341.0 442.3,339.1 443.8,337.4 445.3,335.6 446.8,333.7 448.3,332.0 449.8,330.8 451.3,330.4 452.8,330.5 454.3,330.6 455.8,330.7 457.3,330.8 458.8,330.9 460.3,331.1 461.8,331.3 463.3,333.9 464.8,339.0 466.3,344.1 467.8,347.0 469.3,349.1 470.8,350.8 472.3,352.0 473.8,352.8 475.3,353.4 476.8,353.9 478.3,354.4 479.8,354.9 481.3,355.6 482.8,356.6 484.3,357.9 485.8,359.3 487.3,360.8 488.8,362.3 490.3,363.6 491.8,364.9 493.3,366.2 494.8,367.5 496.3,368.7 497.8,369.8 499.3,370.8 500.8,371.7 502.3,372.6 503.8,373.4 505.3,374.2 506.8,374.8 508.3,375.2 509.8,375.6 511.3,376.0 512.8,376.3 514.3,376.5 515.8,376.7 517.3,376.8 518.8,376.9 520.3,377.0 521.8,377.1 523.3,377.2 524.8,377.2 526.3,377.3 527.8,377.4 529.3,377.4 530.8,377.4 532.3,377.5 533.8,377.5 535.3,377.6 536.8,377.6 538.3,377.7" stroke="#20B4F0"/>
<path d="M410.8,363.5 412.3,363.0 413.8,362.5 415.3,362.1 416.8,361.6 418.3,361.0 419.8,360.3 421.3,359.5 422.8,358.5 424.3,357.4 425.8,356.2 427.3,355.0 428.8,353.8 430.3,352.4 431.8,351.0 433.3,349.4 434.8,347.8 436.3,346.2 437.8,344.4 439.3,342.6 440.8,340.6 442.3,338.7 443.8,336.9 445.3,335.0 446.8,333.0 448.3,331.2 449.8,329.9 451.3,329.5 452.8,329.6 454.3,329.6 455.8,329.7 457.3,329.8 458.8,330.0 460.3,330.2 461.8,330.5 463.3,333.2 464.8,338.5 466.3,343.8 467.8,346.8 469.3,348.9 470.8,350.6 472.3,351.9 473.8,352.7 475.3,353.3 476.8,353.8 478.3,354.2 479.8,354.8 481.3,355.5 482.8,356.4 484.3,357.7 485.8,359.1 487.3,360.7 488.8,362.1 490.3,363.5 491.8,364.8 493.3,366.1 494.8,367.3 496.3,368.5 497.8,369.6 499.3,370.6 500.8,371.6 502.3,372.5 503.8,373.3 505.3,374.1 506.8,374.7 508.3,375.2 509.8,375.6 511.3,376.0 512.8,376.3 514.3,376.5 515.8,376.7 517.3,376.9 518.8,377.0 520.3,377.1 521.8,377.2 523.3,377.2 524.8,377.3 526.3,377.4 527.8,377.4 529.3,377.5 530.8,377.5 532.3,377.6 533.8,377.6 535.3,377.7 536.8,377.7 538.3,377.8" stroke="#F0A47E"/>
</g>
<rect x="410.8" y="262" width="127.5" height="118.0" fill="none" stroke="#2a2a2a" stroke-width="1.7"/>
<line x1="406.8" y1="380.0" x2="410.8" y2="380.0" stroke="#444" stroke-width="1.2"/>
<text x="400.3" y="384.3" class="tk" text-anchor="end">0.0</text>
<line x1="406.8" y1="340.7" x2="410.8" y2="340.7" stroke="#444" stroke-width="1.2"/>
<text x="400.3" y="345.0" class="tk" text-anchor="end">0.3</text>
<line x1="406.8" y1="301.3" x2="410.8" y2="301.3" stroke="#444" stroke-width="1.2"/>
<text x="400.3" y="305.6" class="tk" text-anchor="end">0.6</text>
<line x1="406.8" y1="262.0" x2="410.8" y2="262.0" stroke="#444" stroke-width="1.2"/>
<text x="400.3" y="266.3" class="tk" text-anchor="end">0.9</text>
<line x1="410.8" y1="380" x2="410.8" y2="384" stroke="#444" stroke-width="1.2"/>
<text x="410.8" y="398.5" class="tk" text-anchor="middle">325</text>
<line x1="452.0" y1="380" x2="452.0" y2="384" stroke="#444" stroke-width="1.2"/>
<text x="452.0" y="398.5" class="tk" text-anchor="middle">430</text>
<line x1="493.2" y1="380" x2="493.2" y2="384" stroke="#444" stroke-width="1.2"/>
<text x="493.2" y="398.5" class="tk" text-anchor="middle">535</text>
<line x1="534.4" y1="380" x2="534.4" y2="384" stroke="#444" stroke-width="1.2"/>
<text x="534.4" y="398.5" class="tk" text-anchor="middle">640</text>
<text x="416.5" y="278.7" class="lab">(C)</text>
<text x="510" y="330.2" class="an" text-anchor="middle">10.4 µM</text>
<path d="M514.8,340.4 L519.0,332.1 L523.2,340.4 Z" fill="#111"/>
<line x1="519" y1="339.9" x2="519" y2="354.3" stroke="#111" stroke-width="2"/>
<text x="519" y="368.2" class="an" text-anchor="middle">0</text>
<rect x="575.8" y="262.3" width="127.2" height="117.7" fill="#C9C9C9"/>
<rect x="577.3" y="263.8" width="124.2" height="114.7" fill="none" stroke="#D5D5D5" stroke-width="0.9"/>
<clipPath id="c7"><rect x="575.8" y="262.3" width="127.2" height="117.7"/></clipPath>
<g clip-path="url(#c7)" fill="none" stroke-width="2.3" stroke-linejoin="round">
<path d="M575.8,365.1 577.3,364.4 578.8,363.8 580.3,363.2 581.8,362.5 583.3,361.8 584.8,361.1 586.3,360.4 587.8,359.7 589.3,359.0 590.8,358.2 592.3,357.4 593.8,356.5 595.3,355.5 596.8,354.5 598.3,353.4 599.8,352.3 601.3,351.2 602.8,350.0 604.3,348.8 605.8,347.6 607.3,346.5 608.8,345.6 610.3,344.9 611.8,344.1 613.3,343.4 614.8,343.0 616.3,342.9 617.8,342.9 619.3,343.0 620.8,343.1 622.3,343.2 623.8,343.2 625.3,343.3 626.8,343.4 628.3,345.1 629.8,348.5 631.3,351.7 632.8,353.2 634.3,354.1 635.8,354.7 637.3,355.4 638.8,356.0 640.3,356.5 641.8,357.0 643.3,357.5 644.8,358.1 646.3,358.8 647.8,359.7 649.3,360.8 650.8,362.1 652.3,363.4 653.8,364.8 655.3,366.0 656.8,367.3 658.3,368.6 659.8,369.9 661.3,371.1 662.8,372.2 664.3,373.1 665.8,373.9 667.3,374.7 668.8,375.3 670.3,375.9 671.8,376.4 673.3,376.8 674.8,377.1 676.3,377.4 677.8,377.6 679.3,377.8 680.8,378.0 682.3,378.1 683.8,378.1 685.3,378.2 686.8,378.2 688.3,378.3 689.8,378.3 691.3,378.3 692.8,378.4 694.3,378.4 695.8,378.4 697.3,378.4 698.8,378.5 700.3,378.5 701.8,378.5 703.0,378.6" stroke="#2B3F86"/>
<path d="M575.8,365.0 577.3,364.3 578.8,363.6 580.3,362.9 581.8,362.2 583.3,361.5 584.8,360.8 586.3,360.0 587.8,359.2 589.3,358.4 590.8,357.6 592.3,356.6 593.8,355.6 595.3,354.5 596.8,353.3 598.3,352.1 599.8,350.9 601.3,349.6 602.8,348.4 604.3,347.1 605.8,345.8 607.3,344.5 608.8,343.5 610.3,342.6 611.8,341.6 613.3,340.8 614.8,340.2 616.3,340.1 617.8,340.2 619.3,340.3 620.8,340.4 622.3,340.5 623.8,340.5 625.3,340.5 626.8,340.6 628.3,342.5 629.8,346.0 631.3,349.4 632.8,351.2 634.3,352.3 635.8,353.2 637.3,353.9 638.8,354.6 640.3,355.2 641.8,355.7 643.3,356.3 644.8,356.9 646.3,357.6 647.8,358.6 649.3,359.8 650.8,361.1 652.3,362.5 653.8,363.9 655.3,365.2 656.8,366.6 658.3,367.9 659.8,369.3 661.3,370.6 662.8,371.8 664.3,372.7 665.8,373.6 667.3,374.3 668.8,375.0 670.3,375.7 671.8,376.2 673.3,376.6 674.8,376.9 676.3,377.2 677.8,377.5 679.3,377.7 680.8,377.8 682.3,378.0 683.8,378.0 685.3,378.1 686.8,378.2 688.3,378.2 689.8,378.2 691.3,378.3 692.8,378.3 694.3,378.4 695.8,378.4 697.3,378.4 698.8,378.5 700.3,378.5 701.8,378.5 703.0,378.6" stroke="#FF10C8"/>
<path d="M575.8,364.8 577.3,364.1 578.8,363.4 580.3,362.7 581.8,362.0 583.3,361.2 584.8,360.4 586.3,359.6 587.8,358.7 589.3,357.8 590.8,356.9 592.3,355.9 593.8,354.8 595.3,353.5 596.8,352.2 598.3,350.9 599.8,349.5 601.3,348.1 602.8,346.7 604.3,345.3 605.8,343.9 607.3,342.5 608.8,341.4 610.3,340.3 611.8,339.2 613.3,338.2 614.8,337.5 616.3,337.3 617.8,337.4 619.3,337.6 620.8,337.7 622.3,337.8 623.8,337.8 625.3,337.8 626.8,337.9 628.3,339.8 629.8,343.5 631.3,347.2 632.8,349.2 634.3,350.5 635.8,351.6 637.3,352.5 638.8,353.2 640.3,353.9 641.8,354.5 643.3,355.0 644.8,355.7 646.3,356.5 647.8,357.5 649.3,358.7 650.8,360.1 652.3,361.6 653.8,363.0 655.3,364.4 656.8,365.8 658.3,367.3 659.8,368.7 661.3,370.1 662.8,371.3 664.3,372.3 665.8,373.2 667.3,374.0 668.8,374.8 670.3,375.4 671.8,375.9 673.3,376.4 674.8,376.7 676.3,377.0 677.8,377.3 679.3,377.6 680.8,377.7 682.3,377.9 683.8,377.9 685.3,378.0 686.8,378.1 688.3,378.1 689.8,378.2 691.3,378.2 692.8,378.3 694.3,378.3 695.8,378.4 697.3,378.4 698.8,378.4 700.3,378.5 701.8,378.5 703.0,378.6" stroke="#E6DC10"/>
<path d="M575.8,364.7 577.3,363.9 578.8,363.2 580.3,362.5 581.8,361.7 583.3,360.9 584.8,360.0 586.3,359.1 587.8,358.2 589.3,357.2 590.8,356.2 592.3,355.1 593.8,353.9 595.3,352.5 596.8,351.1 598.3,349.6 599.8,348.1 601.3,346.6 602.8,345.1 604.3,343.5 605.8,342.0 607.3,340.5 608.8,339.3 610.3,338.0 611.8,336.7 613.3,335.6 614.8,334.8 616.3,334.6 617.8,334.7 619.3,334.9 620.8,335.0 622.3,335.1 623.8,335.1 625.3,335.0 626.8,335.1 628.3,337.1 629.8,341.1 631.3,345.0 632.8,347.1 634.3,348.7 635.8,350.0 637.3,351.0 638.8,351.9 640.3,352.6 641.8,353.2 643.3,353.8 644.8,354.5 646.3,355.3 647.8,356.4 649.3,357.7 650.8,359.1 652.3,360.6 653.8,362.2 655.3,363.6 656.8,365.1 658.3,366.6 659.8,368.1 661.3,369.6 662.8,370.9 664.3,371.9 665.8,372.9 667.3,373.7 668.8,374.5 670.3,375.1 671.8,375.7 673.3,376.1 674.8,376.5 676.3,376.9 677.8,377.2 679.3,377.4 680.8,377.6 682.3,377.8 683.8,377.9 685.3,377.9 686.8,378.0 688.3,378.1 689.8,378.1 691.3,378.2 692.8,378.2 694.3,378.3 695.8,378.3 697.3,378.4 698.8,378.4 700.3,378.5 701.8,378.5 703.0,378.6" stroke="#10E0E8"/>
<path d="M575.8,364.6 577.3,363.8 578.8,363.0 580.3,362.2 581.8,361.4 583.3,360.6 584.8,359.6 586.3,358.7 587.8,357.7 589.3,356.6 590.8,355.5 592.3,354.3 593.8,353.0 595.3,351.5 596.8,350.0 598.3,348.3 599.8,346.7 601.3,345.0 602.8,343.4 604.3,341.8 605.8,340.1 607.3,338.5 608.8,337.1 610.3,335.7 611.8,334.3 613.3,332.9 614.8,332.0 616.3,331.8 617.8,331.9 619.3,332.2 620.8,332.3 622.3,332.4 623.8,332.3 625.3,332.3 626.8,332.3 628.3,334.4 629.8,338.6 631.3,342.7 632.8,345.1 634.3,346.9 635.8,348.4 637.3,349.6 638.8,350.5 640.3,351.3 641.8,351.9 643.3,352.6 644.8,353.3 646.3,354.2 647.8,355.3 649.3,356.6 650.8,358.1 652.3,359.7 653.8,361.3 655.3,362.8 656.8,364.3 658.3,365.9 659.8,367.5 661.3,369.1 662.8,370.4 664.3,371.5 665.8,372.5 667.3,373.4 668.8,374.2 670.3,374.9 671.8,375.5 673.3,375.9 674.8,376.3 676.3,376.7 677.8,377.0 679.3,377.3 680.8,377.5 682.3,377.7 683.8,377.8 685.3,377.9 686.8,377.9 688.3,378.0 689.8,378.1 691.3,378.1 692.8,378.2 694.3,378.2 695.8,378.3 697.3,378.3 698.8,378.4 700.3,378.5 701.8,378.5 703.0,378.6" stroke="#80108A"/>
<path d="M575.8,364.4 577.3,363.6 578.8,362.8 580.3,362.0 581.8,361.1 583.3,360.2 584.8,359.3 586.3,358.2 587.8,357.2 589.3,356.0 590.8,354.8 592.3,353.5 593.8,352.1 595.3,350.5 596.8,348.8 598.3,347.1 599.8,345.3 601.3,343.5 602.8,341.8 604.3,340.0 605.8,338.2 607.3,336.5 608.8,335.0 610.3,333.5 611.8,331.8 613.3,330.3 614.8,329.3 616.3,329.0 617.8,329.2 619.3,329.4 620.8,329.7 622.3,329.7 623.8,329.6 625.3,329.5 626.8,329.6 628.3,331.7 629.8,336.1 631.3,340.5 632.8,343.1 634.3,345.1 635.8,346.8 637.3,348.1 638.8,349.1 640.3,349.9 641.8,350.6 643.3,351.3 644.8,352.1 646.3,353.0 647.8,354.2 649.3,355.6 650.8,357.1 652.3,358.8 653.8,360.4 655.3,362.0 656.8,363.6 658.3,365.3 659.8,367.0 661.3,368.6 662.8,370.0 664.3,371.1 665.8,372.1 667.3,373.1 668.8,373.9 670.3,374.6 671.8,375.2 673.3,375.7 674.8,376.2 676.3,376.5 677.8,376.9 679.3,377.2 680.8,377.4 682.3,377.6 683.8,377.7 685.3,377.8 686.8,377.9 688.3,378.0 689.8,378.0 691.3,378.1 692.8,378.2 694.3,378.2 695.8,378.3 697.3,378.3 698.8,378.4 700.3,378.4 701.8,378.5 703.0,378.6" stroke="#800000"/>
<path d="M575.8,364.3 577.3,363.4 578.8,362.6 580.3,361.7 581.8,360.9 583.3,359.9 584.8,358.9 586.3,357.8 587.8,356.6 589.3,355.4 590.8,354.1 592.3,352.7 593.8,351.2 595.3,349.5 596.8,347.7 598.3,345.8 599.8,343.9 601.3,342.0 602.8,340.1 604.3,338.2 605.8,336.3 607.3,334.5 608.8,332.9 610.3,331.2 611.8,329.4 613.3,327.7 614.8,326.6 616.3,326.3 617.8,326.4 619.3,326.7 620.8,327.0 622.3,327.0 623.8,326.9 625.3,326.8 626.8,326.8 628.3,329.0 629.8,333.6 631.3,338.2 632.8,341.1 634.3,343.3 635.8,345.2 637.3,346.7 638.8,347.8 640.3,348.6 641.8,349.4 643.3,350.1 644.8,350.9 646.3,351.9 647.8,353.1 649.3,354.5 650.8,356.2 652.3,357.8 653.8,359.5 655.3,361.2 656.8,362.8 658.3,364.6 659.8,366.4 661.3,368.0 662.8,369.5 664.3,370.7 665.8,371.8 667.3,372.7 668.8,373.6 670.3,374.4 671.8,375.0 673.3,375.5 674.8,376.0 676.3,376.4 677.8,376.7 679.3,377.1 680.8,377.3 682.3,377.5 683.8,377.6 685.3,377.7 686.8,377.8 688.3,377.9 689.8,378.0 691.3,378.0 692.8,378.1 694.3,378.2 695.8,378.2 697.3,378.3 698.8,378.4 700.3,378.4 701.8,378.5 703.0,378.6" stroke="#1E7A3C"/>
<path d="M575.8,364.2 577.3,363.3 578.8,362.4 580.3,361.5 581.8,360.6 583.3,359.6 584.8,358.5 586.3,357.4 587.8,356.1 589.3,354.8 590.8,353.4 592.3,352.0 593.8,350.3 595.3,348.5 596.8,346.6 598.3,344.5 599.8,342.5 601.3,340.4 602.8,338.5 604.3,336.5 605.8,334.5 607.3,332.5 608.8,330.8 610.3,328.9 611.8,326.9 613.3,325.1 614.8,323.8 616.3,323.5 617.8,323.7 619.3,324.0 620.8,324.3 622.3,324.3 623.8,324.2 625.3,324.0 626.8,324.0 628.3,326.4 629.8,331.1 631.3,336.0 632.8,339.1 634.3,341.5 635.8,343.6 637.3,345.3 638.8,346.4 640.3,347.3 641.8,348.1 643.3,348.8 644.8,349.7 646.3,350.7 647.8,352.0 649.3,353.5 650.8,355.2 652.3,356.9 653.8,358.7 655.3,360.4 656.8,362.1 658.3,363.9 659.8,365.8 661.3,367.5 662.8,369.1 664.3,370.3 665.8,371.4 667.3,372.4 668.8,373.3 670.3,374.1 671.8,374.8 673.3,375.3 674.8,375.8 676.3,376.2 677.8,376.6 679.3,376.9 680.8,377.2 682.3,377.4 683.8,377.5 685.3,377.6 686.8,377.7 688.3,377.8 689.8,377.9 691.3,378.0 692.8,378.1 694.3,378.1 695.8,378.2 697.3,378.3 698.8,378.3 700.3,378.4 701.8,378.5 703.0,378.6" stroke="#0A0AF0"/>
<path d="M575.8,364.0 577.3,363.1 578.8,362.2 580.3,361.3 581.8,360.3 583.3,359.3 584.8,358.1 586.3,356.9 587.8,355.6 589.3,354.2 590.8,352.7 592.3,351.2 593.8,349.5 595.3,347.5 596.8,345.4 598.3,343.3 599.8,341.1 601.3,338.9 602.8,336.8 604.3,334.7 605.8,332.6 607.3,330.5 608.8,328.6 610.3,326.6 611.8,324.4 613.3,322.5 614.8,321.1 616.3,320.7 617.8,321.0 619.3,321.3 620.8,321.6 622.3,321.6 623.8,321.5 625.3,321.3 626.8,321.3 628.3,323.7 629.8,328.6 631.3,333.8 632.8,337.1 634.3,339.7 635.8,342.0 637.3,343.8 638.8,345.0 640.3,346.0 641.8,346.8 643.3,347.6 644.8,348.5 646.3,349.5 647.8,350.9 649.3,352.4 650.8,354.2 652.3,356.0 653.8,357.8 655.3,359.5 656.8,361.3 658.3,363.3 659.8,365.2 661.3,367.0 662.8,368.6 664.3,369.9 665.8,371.1 667.3,372.1 668.8,373.0 670.3,373.8 671.8,374.5 673.3,375.1 674.8,375.6 676.3,376.1 677.8,376.5 679.3,376.8 680.8,377.1 682.3,377.3 683.8,377.4 685.3,377.5 686.8,377.7 688.3,377.8 689.8,377.9 691.3,378.0 692.8,378.0 694.3,378.1 695.8,378.2 697.3,378.3 698.8,378.3 700.3,378.4 701.8,378.5 703.0,378.6" stroke="#1CA8E0"/>
<path d="M575.8,363.9 577.3,362.9 578.8,362.0 580.3,361.0 581.8,360.0 583.3,358.9 584.8,357.8 586.3,356.5 587.8,355.1 589.3,353.6 590.8,352.1 592.3,350.4 593.8,348.6 595.3,346.5 596.8,344.3 598.3,342.0 599.8,339.7 601.3,337.4 602.8,335.2 604.3,332.9 605.8,330.7 607.3,328.5 608.8,326.5 610.3,324.3 611.8,322.0 613.3,319.9 614.8,318.4 616.3,318.0 617.8,318.2 619.3,318.6 620.8,318.9 622.3,318.9 623.8,318.7 625.3,318.5 626.8,318.5 628.3,321.0 629.8,326.2 631.3,331.5 632.8,335.0 634.3,337.9 635.8,340.5 637.3,342.4 638.8,343.7 640.3,344.7 641.8,345.5 643.3,346.4 644.8,347.3 646.3,348.4 647.8,349.8 649.3,351.4 650.8,353.2 652.3,355.0 653.8,356.9 655.3,358.7 656.8,360.6 658.3,362.6 659.8,364.6 661.3,366.5 662.8,368.2 664.3,369.5 665.8,370.7 667.3,371.8 668.8,372.7 670.3,373.6 671.8,374.3 673.3,374.9 674.8,375.4 676.3,375.9 677.8,376.3 679.3,376.7 680.8,377.0 682.3,377.2 683.8,377.3 685.3,377.5 686.8,377.6 688.3,377.7 689.8,377.8 691.3,377.9 692.8,378.0 694.3,378.1 695.8,378.1 697.3,378.2 698.8,378.3 700.3,378.4 701.8,378.5 703.0,378.6" stroke="#A6D4D8"/>
<path d="M575.8,363.8 577.3,362.8 578.8,361.8 580.3,360.8 581.8,359.8 583.3,358.6 584.8,357.4 586.3,356.0 587.8,354.6 589.3,353.0 590.8,351.4 592.3,349.6 593.8,347.7 595.3,345.5 596.8,343.2 598.3,340.7 599.8,338.3 601.3,335.8 602.8,333.5 604.3,331.2 605.8,328.8 607.3,326.5 608.8,324.4 610.3,322.1 611.8,319.5 613.3,317.2 614.8,315.6 616.3,315.2 617.8,315.5 619.3,315.9 620.8,316.2 622.3,316.2 623.8,316.0 625.3,315.8 626.8,315.7 628.3,318.3 629.8,323.7 631.3,329.3 632.8,333.0 634.3,336.2 635.8,338.9 637.3,340.9 638.8,342.3 640.3,343.4 641.8,344.3 643.3,345.1 644.8,346.1 646.3,347.2 647.8,348.7 649.3,350.3 650.8,352.2 652.3,354.1 653.8,356.0 655.3,357.9 656.8,359.9 658.3,361.9 659.8,364.0 661.3,366.0 662.8,367.7 664.3,369.1 665.8,370.3 667.3,371.4 668.8,372.4 670.3,373.3 671.8,374.1 673.3,374.7 674.8,375.2 676.3,375.7 677.8,376.2 679.3,376.6 680.8,376.9 682.3,377.1 683.8,377.2 685.3,377.4 686.8,377.5 688.3,377.6 689.8,377.8 691.3,377.9 692.8,377.9 694.3,378.0 695.8,378.1 697.3,378.2 698.8,378.3 700.3,378.4 701.8,378.5 703.0,378.6" stroke="#64DCB0"/>
<path d="M575.8,363.7 577.3,362.6 578.8,361.6 580.3,360.6 581.8,359.5 583.3,358.3 584.8,357.0 586.3,355.6 587.8,354.1 589.3,352.4 590.8,350.7 592.3,348.8 593.8,346.8 595.3,344.5 596.8,342.0 598.3,339.5 599.8,336.8 601.3,334.3 602.8,331.9 604.3,329.4 605.8,326.9 607.3,324.5 608.8,322.3 610.3,319.8 611.8,317.1 613.3,314.6 614.8,312.9 616.3,312.4 617.8,312.7 619.3,313.2 620.8,313.5 622.3,313.5 623.8,313.3 625.3,313.1 626.8,313.0 628.3,315.6 629.8,321.2 631.3,327.0 632.8,331.0 634.3,334.4 635.8,337.3 637.3,339.5 638.8,340.9 640.3,342.1 641.8,343.0 643.3,343.9 644.8,344.9 646.3,346.1 647.8,347.6 649.3,349.3 650.8,351.2 652.3,353.2 653.8,355.2 655.3,357.1 656.8,359.1 658.3,361.3 659.8,363.4 661.3,365.5 662.8,367.3 664.3,368.8 665.8,370.0 667.3,371.1 668.8,372.2 670.3,373.1 671.8,373.8 673.3,374.5 674.8,375.1 676.3,375.6 677.8,376.0 679.3,376.4 680.8,376.7 682.3,377.0 683.8,377.2 685.3,377.3 686.8,377.5 688.3,377.6 689.8,377.7 691.3,377.8 692.8,377.9 694.3,378.0 695.8,378.1 697.3,378.2 698.8,378.3 700.3,378.4 701.8,378.5 703.0,378.6" stroke="#D6CE70"/>
<path d="M575.8,363.5 577.3,362.4 578.8,361.4 580.3,360.3 581.8,359.2 583.3,358.0 584.8,356.6 586.3,355.1 587.8,353.5 589.3,351.8 590.8,350.0 592.3,348.0 593.8,345.9 595.3,343.5 596.8,340.9 598.3,338.2 599.8,335.4 601.3,332.8 602.8,330.2 604.3,327.6 605.8,325.0 607.3,322.5 608.8,320.1 610.3,317.5 611.8,314.6 613.3,312.0 614.8,310.2 616.3,309.7 617.8,310.0 619.3,310.5 620.8,310.9 622.3,310.8 623.8,310.6 625.3,310.3 626.8,310.2 628.3,312.9 629.8,318.7 631.3,324.8 632.8,329.0 634.3,332.6 635.8,335.7 637.3,338.0 638.8,339.6 640.3,340.7 641.8,341.7 643.3,342.6 644.8,343.7 646.3,344.9 647.8,346.5 649.3,348.3 650.8,350.2 652.3,352.2 653.8,354.3 655.3,356.3 656.8,358.4 658.3,360.6 659.8,362.8 661.3,364.9 662.8,366.8 664.3,368.4 665.8,369.6 667.3,370.8 668.8,371.9 670.3,372.8 671.8,373.6 673.3,374.3 674.8,374.9 676.3,375.4 677.8,375.9 679.3,376.3 680.8,376.6 682.3,376.9 683.8,377.1 685.3,377.2 686.8,377.4 688.3,377.5 689.8,377.6 691.3,377.8 692.8,377.9 694.3,378.0 695.8,378.1 697.3,378.2 698.8,378.3 700.3,378.4 701.8,378.5 703.0,378.6" stroke="#20B4F0"/>
<path d="M575.8,363.4 577.3,362.3 578.8,361.2 580.3,360.1 581.8,358.9 583.3,357.7 584.8,356.3 586.3,354.7 587.8,353.0 589.3,351.2 590.8,349.3 592.3,347.3 593.8,345.0 595.3,342.5 596.8,339.8 598.3,336.9 599.8,334.0 601.3,331.2 602.8,328.6 604.3,325.8 605.8,323.2 607.3,320.5 608.8,318.0 610.3,315.2 611.8,312.2 613.3,309.4 614.8,307.4 616.3,306.9 617.8,307.2 619.3,307.8 620.8,308.2 622.3,308.1 623.8,307.9 625.3,307.6 626.8,307.4 628.3,310.3 629.8,316.2 631.3,322.6 632.8,327.0 634.3,330.8 635.8,334.1 637.3,336.6 638.8,338.2 640.3,339.4 641.8,340.5 643.3,341.4 644.8,342.5 646.3,343.7 647.8,345.4 649.3,347.2 650.8,349.2 652.3,351.3 653.8,353.4 655.3,355.5 656.8,357.6 658.3,359.9 659.8,362.2 661.3,364.4 662.8,366.4 664.3,368.0 665.8,369.3 667.3,370.5 668.8,371.6 670.3,372.5 671.8,373.4 673.3,374.1 674.8,374.7 676.3,375.2 677.8,375.7 679.3,376.2 680.8,376.5 682.3,376.8 683.8,377.0 685.3,377.2 686.8,377.3 688.3,377.5 689.8,377.6 691.3,377.7 692.8,377.8 694.3,377.9 695.8,378.0 697.3,378.1 698.8,378.2 700.3,378.3 701.8,378.5 703.0,378.6" stroke="#F0A47E"/>
</g>
<rect x="575.8" y="262.3" width="127.2" height="117.7" fill="none" stroke="#2a2a2a" stroke-width="1.7"/>
<line x1="571.8" y1="380.0" x2="575.8" y2="380.0" stroke="#444" stroke-width="1.2"/>
<text x="565.3" y="384.3" class="tk" text-anchor="end">0.0</text>
<line x1="571.8" y1="340.8" x2="575.8" y2="340.8" stroke="#444" stroke-width="1.2"/>
<text x="565.3" y="345.1" class="tk" text-anchor="end">0.3</text>
<line x1="571.8" y1="301.5" x2="575.8" y2="301.5" stroke="#444" stroke-width="1.2"/>
<text x="565.3" y="305.8" class="tk" text-anchor="end">0.6</text>
<line x1="571.8" y1="262.3" x2="575.8" y2="262.3" stroke="#444" stroke-width="1.2"/>
<text x="565.3" y="266.6" class="tk" text-anchor="end">0.9</text>
<line x1="575.8" y1="380" x2="575.8" y2="384" stroke="#444" stroke-width="1.2"/>
<text x="575.8" y="398.5" class="tk" text-anchor="middle">325</text>
<line x1="616.9" y1="380" x2="616.9" y2="384" stroke="#444" stroke-width="1.2"/>
<text x="616.9" y="398.5" class="tk" text-anchor="middle">430</text>
<line x1="658.0" y1="380" x2="658.0" y2="384" stroke="#444" stroke-width="1.2"/>
<text x="658.0" y="398.5" class="tk" text-anchor="middle">535</text>
<line x1="699.1" y1="380" x2="699.1" y2="384" stroke="#444" stroke-width="1.2"/>
<text x="699.1" y="398.5" class="tk" text-anchor="middle">640</text>
<text x="580.4" y="279.6" class="lab">(D)</text>
<text x="666.4" y="312.6" class="an" text-anchor="middle">10.4 µM</text>
<path d="M677.1,324.3 L681.3,315.4 L685.5,324.3 Z" fill="#111"/>
<line x1="681.3" y1="323.8" x2="681.3" y2="343.2" stroke="#111" stroke-width="2"/>
<text x="681.3" y="358" class="an" text-anchor="middle">0</text>
<rect x="86.1" y="457.2" width="126.9" height="117.7" fill="#C9C9C9"/>
<rect x="87.6" y="458.7" width="123.9" height="114.7" fill="none" stroke="#D5D5D5" stroke-width="0.9"/>
<clipPath id="c8"><rect x="86.1" y="457.2" width="126.9" height="117.7"/></clipPath>
<g clip-path="url(#c8)" fill="none" stroke-width="2.3" stroke-linejoin="round">
<path d="M86.1,561.8 87.6,560.6 89.1,559.5 90.6,558.3 92.1,557.1 93.6,555.8 95.1,554.4 96.6,552.9 98.1,551.4 99.6,549.7 101.1,547.9 102.6,546.0 104.1,543.9 105.6,541.7 107.1,539.2 108.6,536.6 110.1,533.8 111.6,530.8 113.1,527.5 114.6,523.6 116.1,519.6 117.6,515.7 119.1,512.3 120.6,509.1 122.1,506.3 123.6,503.3 125.1,500.3 126.6,498.6 128.1,499.3 129.6,501.5 131.1,503.7 132.6,504.9 134.1,505.8 135.6,507.2 137.1,510.3 138.6,515.1 140.1,520.6 141.6,526.9 143.1,534.1 144.6,542.1 146.1,548.6 147.6,554.4 149.1,558.2 150.6,559.9 152.1,561.2 153.6,562.2 155.1,563.0 156.6,563.8 158.1,564.5 159.6,565.2 161.1,565.7 162.6,566.3 164.1,566.8 165.6,567.3 167.1,567.9 168.6,568.4 170.1,569.0 171.6,569.5 173.1,570.1 174.6,570.6 176.1,571.1 177.6,571.5 179.1,571.9 180.6,572.2 182.1,572.4 183.6,572.6 185.1,572.7 186.6,572.9 188.1,573.0 189.6,573.1 191.1,573.2 192.6,573.3 194.1,573.4 195.6,573.4 197.1,573.5 198.6,573.6 200.1,573.7 201.6,573.7 203.1,573.8 204.6,573.8 206.1,573.9 207.6,574.0 209.1,574.0 210.6,574.1 212.1,574.2 213.0,574.2" stroke="#2B3F86"/>
<path d="M86.1,561.6 87.6,560.4 89.1,559.2 90.6,558.1 92.1,556.9 93.6,555.6 95.1,554.1 96.6,552.7 98.1,551.1 99.6,549.4 101.1,547.6 102.6,545.7 104.1,543.6 105.6,541.3 107.1,538.9 108.6,536.2 110.1,533.4 111.6,530.4 113.1,527.0 114.6,523.1 116.1,518.9 117.6,514.9 119.1,511.3 120.6,508.0 122.1,504.9 123.6,501.8 125.1,498.6 126.6,496.9 128.1,497.6 129.6,499.9 131.1,502.1 132.6,503.3 134.1,504.3 135.6,505.7 137.1,509.0 138.6,514.0 140.1,519.9 141.6,526.6 143.1,533.9 144.6,541.9 146.1,548.5 147.6,554.2 149.1,558.0 150.6,559.7 152.1,561.0 153.6,562.0 155.1,562.8 156.6,563.6 158.1,564.3 159.6,565.0 161.1,565.5 162.6,566.1 164.1,566.6 165.6,567.1 167.1,567.6 168.6,568.2 170.1,568.8 171.6,569.3 173.1,569.8 174.6,570.4 176.1,570.8 177.6,571.3 179.1,571.7 180.6,572.0 182.1,572.2 183.6,572.4 185.1,572.5 186.6,572.7 188.1,572.8 189.6,572.9 191.1,573.0 192.6,573.1 194.1,573.2 195.6,573.3 197.1,573.4 198.6,573.4 200.1,573.5 201.6,573.6 203.1,573.6 204.6,573.7 206.1,573.8 207.6,573.8 209.1,573.9 210.6,574.0 212.1,574.1 213.0,574.1" stroke="#FF10C8"/>
<path d="M86.1,561.3 87.6,560.1 89.1,559.0 90.6,557.8 92.1,556.6 93.6,555.3 95.1,553.9 96.6,552.4 98.1,550.8 99.6,549.1 101.1,547.3 102.6,545.3 104.1,543.2 105.6,541.0 107.1,538.5 108.6,535.9 110.1,533.0 111.6,530.0 113.1,526.5 114.6,522.5 116.1,518.2 117.6,514.1 119.1,510.3 120.6,506.8 122.1,503.6 123.6,500.3 125.1,497.0 126.6,495.1 128.1,495.9 129.6,498.2 131.1,500.5 132.6,501.8 134.1,502.8 135.6,504.2 137.1,507.6 138.6,512.9 140.1,519.2 141.6,526.3 143.1,533.8 144.6,541.8 146.1,548.3 147.6,554.0 149.1,557.8 150.6,559.5 152.1,560.8 153.6,561.8 155.1,562.6 156.6,563.4 158.1,564.1 159.6,564.7 161.1,565.3 162.6,565.9 164.1,566.4 165.6,566.9 167.1,567.4 168.6,568.0 170.1,568.5 171.6,569.1 173.1,569.6 174.6,570.1 176.1,570.6 177.6,571.1 179.1,571.4 180.6,571.8 182.1,572.0 183.6,572.2 185.1,572.4 186.6,572.5 188.1,572.6 189.6,572.7 191.1,572.8 192.6,572.9 194.1,573.0 195.6,573.1 197.1,573.2 198.6,573.3 200.1,573.3 201.6,573.4 203.1,573.5 204.6,573.5 206.1,573.6 207.6,573.7 209.1,573.8 210.6,573.8 212.1,573.9 213.0,574.0" stroke="#E6DC10"/>
<path d="M86.1,561.0 87.6,559.8 89.1,558.7 90.6,557.5 92.1,556.3 93.6,555.0 95.1,553.6 96.6,552.1 98.1,550.5 99.6,548.8 101.1,547.0 102.6,545.0 104.1,542.9 105.6,540.6 107.1,538.2 108.6,535.5 110.1,532.7 111.6,529.6 113.1,526.1 114.6,521.9 116.1,517.6 117.6,513.2 119.1,509.3 120.6,505.6 122.1,502.2 123.6,498.8 125.1,495.3 126.6,493.4 128.1,494.2 129.6,496.6 131.1,498.9 132.6,500.2 134.1,501.2 135.6,502.7 137.1,506.3 138.6,511.8 140.1,518.5 141.6,525.9 143.1,533.6 144.6,541.7 146.1,548.2 147.6,553.9 149.1,557.6 150.6,559.3 152.1,560.6 153.6,561.6 155.1,562.4 156.6,563.2 158.1,563.9 159.6,564.5 161.1,565.1 162.6,565.6 164.1,566.2 165.6,566.7 167.1,567.2 168.6,567.8 170.1,568.3 171.6,568.9 173.1,569.4 174.6,569.9 176.1,570.4 177.6,570.9 179.1,571.2 180.6,571.6 182.1,571.8 183.6,572.0 185.1,572.2 186.6,572.3 188.1,572.4 189.6,572.5 191.1,572.7 192.6,572.8 194.1,572.9 195.6,572.9 197.1,573.0 198.6,573.1 200.1,573.2 201.6,573.3 203.1,573.3 204.6,573.4 206.1,573.5 207.6,573.5 209.1,573.6 210.6,573.7 212.1,573.8 213.0,573.9" stroke="#10E0E8"/>
<path d="M86.1,560.7 87.6,559.6 89.1,558.4 90.6,557.3 92.1,556.1 93.6,554.7 95.1,553.3 96.6,551.8 98.1,550.2 99.6,548.5 101.1,546.6 102.6,544.7 104.1,542.5 105.6,540.3 107.1,537.8 108.6,535.2 110.1,532.3 111.6,529.2 113.1,525.6 114.6,521.4 116.1,516.9 117.6,512.4 119.1,508.3 120.6,504.5 122.1,500.9 123.6,497.3 125.1,493.7 126.6,491.7 128.1,492.5 129.6,494.9 131.1,497.3 132.6,498.6 134.1,499.7 135.6,501.2 137.1,504.9 138.6,510.7 140.1,517.8 141.6,525.6 143.1,533.4 144.6,541.5 146.1,548.0 147.6,553.7 149.1,557.4 150.6,559.1 152.1,560.4 153.6,561.4 155.1,562.2 156.6,563.0 158.1,563.7 159.6,564.3 161.1,564.9 162.6,565.4 164.1,566.0 165.6,566.5 167.1,567.0 168.6,567.6 170.1,568.1 171.6,568.7 173.1,569.2 174.6,569.7 176.1,570.2 177.6,570.6 179.1,571.0 180.6,571.4 182.1,571.6 183.6,571.8 185.1,572.0 186.6,572.1 188.1,572.2 189.6,572.4 191.1,572.5 192.6,572.6 194.1,572.7 195.6,572.8 197.1,572.9 198.6,572.9 200.1,573.0 201.6,573.1 203.1,573.2 204.6,573.2 206.1,573.3 207.6,573.4 209.1,573.5 210.6,573.6 212.1,573.7 213.0,573.7" stroke="#80108A"/>
<path d="M86.1,560.5 87.6,559.3 89.1,558.1 90.6,557.0 92.1,555.8 93.6,554.5 95.1,553.0 96.6,551.5 98.1,549.9 99.6,548.2 101.1,546.3 102.6,544.3 104.1,542.2 105.6,539.9 107.1,537.5 108.6,534.8 110.1,531.9 111.6,528.8 113.1,525.2 114.6,520.8 116.1,516.2 117.6,511.5 119.1,507.3 120.6,503.3 122.1,499.5 123.6,495.8 125.1,492.1 126.6,490.0 128.1,490.8 129.6,493.3 131.1,495.7 132.6,497.1 134.1,498.1 135.6,499.6 137.1,503.5 138.6,509.7 140.1,517.1 141.6,525.3 143.1,533.3 144.6,541.4 146.1,547.9 147.6,553.5 149.1,557.2 150.6,558.9 152.1,560.2 153.6,561.2 155.1,562.0 156.6,562.7 158.1,563.5 159.6,564.1 161.1,564.7 162.6,565.2 164.1,565.7 165.6,566.3 167.1,566.8 168.6,567.4 170.1,567.9 171.6,568.5 173.1,569.0 174.6,569.5 176.1,570.0 177.6,570.4 179.1,570.8 180.6,571.1 182.1,571.4 183.6,571.6 185.1,571.8 186.6,571.9 188.1,572.1 189.6,572.2 191.1,572.3 192.6,572.4 194.1,572.5 195.6,572.6 197.1,572.7 198.6,572.8 200.1,572.9 201.6,572.9 203.1,573.0 204.6,573.1 206.1,573.2 207.6,573.3 209.1,573.3 210.6,573.4 212.1,573.5 213.0,573.6" stroke="#800000"/>
<path d="M86.1,560.2 87.6,559.0 89.1,557.9 90.6,556.7 92.1,555.5 93.6,554.2 95.1,552.8 96.6,551.2 98.1,549.6 99.6,547.8 101.1,546.0 102.6,544.0 104.1,541.8 105.6,539.6 107.1,537.1 108.6,534.4 110.1,531.6 111.6,528.4 113.1,524.7 114.6,520.3 116.1,515.5 117.6,510.7 119.1,506.3 120.6,502.1 122.1,498.2 123.6,494.3 125.1,490.4 126.6,488.3 128.1,489.1 129.6,491.7 131.1,494.2 132.6,495.5 134.1,496.6 135.6,498.1 137.1,502.2 138.6,508.6 140.1,516.4 141.6,524.9 143.1,533.1 144.6,541.3 146.1,547.8 147.6,553.3 149.1,556.9 150.6,558.7 152.1,560.0 153.6,560.9 155.1,561.8 156.6,562.5 158.1,563.3 159.6,563.9 161.1,564.5 162.6,565.0 164.1,565.5 165.6,566.1 167.1,566.6 168.6,567.1 170.1,567.7 171.6,568.2 173.1,568.8 174.6,569.3 176.1,569.8 177.6,570.2 179.1,570.6 180.6,570.9 182.1,571.2 183.6,571.4 185.1,571.6 186.6,571.7 188.1,571.9 189.6,572.0 191.1,572.1 192.6,572.2 194.1,572.3 195.6,572.4 197.1,572.5 198.6,572.6 200.1,572.7 201.6,572.8 203.1,572.9 204.6,573.0 206.1,573.0 207.6,573.1 209.1,573.2 210.6,573.3 212.1,573.4 213.0,573.5" stroke="#1E7A3C"/>
<path d="M86.1,559.9 87.6,558.7 89.1,557.6 90.6,556.5 92.1,555.2 93.6,553.9 95.1,552.5 96.6,550.9 98.1,549.3 99.6,547.5 101.1,545.6 102.6,543.6 104.1,541.5 105.6,539.2 107.1,536.8 108.6,534.1 110.1,531.2 111.6,528.0 113.1,524.2 114.6,519.7 116.1,514.8 117.6,509.9 119.1,505.3 120.6,501.0 122.1,496.9 123.6,492.8 125.1,488.8 126.6,486.5 128.1,487.4 129.6,490.0 131.1,492.6 132.6,494.0 134.1,495.0 135.6,496.6 137.1,500.8 138.6,507.5 140.1,515.7 141.6,524.6 143.1,532.9 144.6,541.1 146.1,547.6 147.6,553.1 149.1,556.7 150.6,558.5 152.1,559.7 153.6,560.7 155.1,561.6 156.6,562.3 158.1,563.0 159.6,563.7 161.1,564.3 162.6,564.8 164.1,565.3 165.6,565.8 167.1,566.4 168.6,566.9 170.1,567.5 171.6,568.0 173.1,568.6 174.6,569.1 176.1,569.6 177.6,570.0 179.1,570.4 180.6,570.7 182.1,571.0 183.6,571.2 185.1,571.4 186.6,571.5 188.1,571.7 189.6,571.8 191.1,571.9 192.6,572.1 194.1,572.2 195.6,572.3 197.1,572.4 198.6,572.5 200.1,572.5 201.6,572.6 203.1,572.7 204.6,572.8 206.1,572.9 207.6,573.0 209.1,573.1 210.6,573.2 212.1,573.3 213.0,573.3" stroke="#0A0AF0"/>
<path d="M86.1,559.6 87.6,558.5 89.1,557.3 90.6,556.2 92.1,555.0 93.6,553.7 95.1,552.2 96.6,550.7 98.1,549.0 99.6,547.2 101.1,545.3 102.6,543.3 104.1,541.2 105.6,538.9 107.1,536.4 108.6,533.7 110.1,530.8 111.6,527.6 113.1,523.8 114.6,519.1 116.1,514.1 117.6,509.0 119.1,504.3 120.6,499.8 122.1,495.5 123.6,491.3 125.1,487.1 126.6,484.8 128.1,485.7 129.6,488.4 131.1,491.0 132.6,492.4 134.1,493.5 135.6,495.1 137.1,499.5 138.6,506.4 140.1,515.0 141.6,524.3 143.1,532.8 144.6,541.0 146.1,547.5 147.6,552.9 149.1,556.5 150.6,558.2 152.1,559.5 153.6,560.5 155.1,561.3 156.6,562.1 158.1,562.8 159.6,563.5 161.1,564.1 162.6,564.6 164.1,565.1 165.6,565.6 167.1,566.2 168.6,566.7 170.1,567.3 171.6,567.8 173.1,568.4 174.6,568.9 176.1,569.4 177.6,569.8 179.1,570.2 180.6,570.5 182.1,570.8 183.6,571.0 185.1,571.2 186.6,571.3 188.1,571.5 189.6,571.6 191.1,571.8 192.6,571.9 194.1,572.0 195.6,572.1 197.1,572.2 198.6,572.3 200.1,572.4 201.6,572.5 203.1,572.6 204.6,572.7 206.1,572.7 207.6,572.8 209.1,572.9 210.6,573.0 212.1,573.1 213.0,573.2" stroke="#1CA8E0"/>
<path d="M86.1,559.4 87.6,558.2 89.1,557.1 90.6,555.9 92.1,554.7 93.6,553.4 95.1,551.9 96.6,550.4 98.1,548.7 99.6,546.9 101.1,545.0 102.6,543.0 104.1,540.8 105.6,538.5 107.1,536.1 108.6,533.4 110.1,530.4 111.6,527.2 113.1,523.3 114.6,518.6 116.1,513.4 117.6,508.2 119.1,503.3 120.6,498.6 122.1,494.2 123.6,489.8 125.1,485.5 126.6,483.1 128.1,484.0 129.6,486.7 131.1,489.4 132.6,490.8 134.1,491.9 135.6,493.6 137.1,498.1 138.6,505.3 140.1,514.3 141.6,524.0 143.1,532.6 144.6,540.9 146.1,547.3 147.6,552.8 149.1,556.3 150.6,558.0 152.1,559.3 153.6,560.3 155.1,561.1 156.6,561.9 158.1,562.6 159.6,563.3 161.1,563.8 162.6,564.4 164.1,564.9 165.6,565.4 167.1,566.0 168.6,566.5 170.1,567.1 171.6,567.6 173.1,568.1 174.6,568.7 176.1,569.1 177.6,569.6 179.1,570.0 180.6,570.3 182.1,570.6 183.6,570.8 185.1,571.0 186.6,571.2 188.1,571.3 189.6,571.5 191.1,571.6 192.6,571.7 194.1,571.8 195.6,571.9 197.1,572.0 198.6,572.1 200.1,572.2 201.6,572.3 203.1,572.4 204.6,572.5 206.1,572.6 207.6,572.7 209.1,572.8 210.6,572.9 212.1,573.0 213.0,573.1" stroke="#A6D4D8"/>
<path d="M86.1,559.1 87.6,557.9 89.1,556.8 90.6,555.7 92.1,554.4 93.6,553.1 95.1,551.7 96.6,550.1 98.1,548.4 99.6,546.6 101.1,544.7 102.6,542.6 104.1,540.5 105.6,538.2 107.1,535.7 108.6,533.0 110.1,530.1 111.6,526.8 113.1,522.8 114.6,518.0 116.1,512.7 117.6,507.4 119.1,502.3 120.6,497.4 122.1,492.8 123.6,488.3 125.1,483.9 126.6,481.4 128.1,482.3 129.6,485.1 131.1,487.8 132.6,489.3 134.1,490.4 135.6,492.1 137.1,496.7 138.6,504.3 140.1,513.6 141.6,523.6 143.1,532.5 144.6,540.7 146.1,547.2 147.6,552.6 149.1,556.1 150.6,557.8 152.1,559.1 153.6,560.1 155.1,560.9 156.6,561.7 158.1,562.3 159.6,562.7 161.1,563.2 162.6,563.6 164.1,564.0 165.6,564.4 167.1,564.9 168.6,565.3 170.1,565.8 171.6,566.3 173.1,566.7 174.6,567.2 176.1,567.6 177.6,568.0 179.1,568.3 180.6,568.6 182.1,568.9 183.6,569.0 185.1,569.2 186.6,569.3 188.1,569.4 189.6,569.5 191.1,569.6 192.6,569.7 194.1,569.8 195.6,569.9 197.1,570.0 198.6,570.0 200.1,570.1 201.6,570.2 203.1,570.2 204.6,570.3 206.1,570.4 207.6,570.4 209.1,570.5 210.6,570.6 212.1,570.7 213.0,570.7" stroke="#64DCB0"/>
<path d="M86.1,558.8 87.6,557.7 89.1,556.5 90.6,555.4 92.1,554.2 93.6,552.8 95.1,551.4 96.6,549.8 98.1,548.1 99.6,546.3 101.1,544.3 102.6,542.3 104.1,540.1 105.6,537.8 107.1,535.4 108.6,532.7 110.1,529.7 111.6,526.4 113.1,522.4 114.6,517.5 116.1,512.0 117.6,506.5 119.1,501.4 120.6,496.3 122.1,491.5 123.6,486.8 125.1,482.2 126.6,479.7 128.1,480.6 129.6,483.5 131.1,486.2 132.6,487.7 134.1,488.8 135.6,490.6 137.1,495.4 138.6,503.2 140.1,512.9 141.6,523.3 143.1,532.3 144.6,540.6 146.1,547.0 147.6,552.4 149.1,555.9 150.6,557.6 152.1,558.9 153.6,559.9 155.1,560.7 156.6,561.5 158.1,562.2 159.6,562.8 161.1,563.4 162.6,564.0 164.1,564.5 165.6,565.0 167.1,565.5 168.6,566.1 170.1,566.6 171.6,567.2 173.1,567.7 174.6,568.2 176.1,568.7 177.6,569.2 179.1,569.6 180.6,569.9 182.1,570.2 183.6,570.4 185.1,570.6 186.6,570.8 188.1,570.9 189.6,571.1 191.1,571.2 192.6,571.4 194.1,571.5 195.6,571.6 197.1,571.7 198.6,571.8 200.1,571.9 201.6,572.0 203.1,572.1 204.6,572.2 206.1,572.3 207.6,572.4 209.1,572.5 210.6,572.6 212.1,572.7 213.0,572.8" stroke="#D6CE70"/>
<path d="M86.1,558.6 87.6,557.4 89.1,556.3 90.6,555.1 92.1,553.9 93.6,552.6 95.1,551.1 96.6,549.5 98.1,547.8 99.6,546.0 101.1,544.0 102.6,541.9 104.1,539.8 105.6,537.5 107.1,535.0 108.6,532.3 110.1,529.3 111.6,526.0 113.1,521.9 114.6,516.9 116.1,511.3 117.6,505.7 119.1,500.4 120.6,495.1 122.1,490.1 123.6,485.3 125.1,480.6 126.6,478.0 128.1,478.9 129.6,481.8 131.1,484.7 132.6,486.2 134.1,487.3 135.6,489.0 137.1,494.0 138.6,502.1 140.1,512.2 141.6,523.0 143.1,532.1 144.6,540.4 146.1,546.9 147.6,552.2 149.1,555.7 150.6,557.4 152.1,558.7 153.6,559.7 155.1,560.5 156.6,561.3 158.1,562.0 159.6,562.6 161.1,563.2 162.6,563.7 164.1,564.3 165.6,564.8 167.1,565.3 168.6,565.9 170.1,566.4 171.6,567.0 173.1,567.5 174.6,568.0 176.1,568.5 177.6,568.9 179.1,569.3 180.6,569.7 182.1,570.0 183.6,570.2 185.1,570.4 186.6,570.6 188.1,570.8 189.6,570.9 191.1,571.1 192.6,571.2 194.1,571.3 195.6,571.4 197.1,571.5 198.6,571.6 200.1,571.8 201.6,571.9 203.1,572.0 204.6,572.1 206.1,572.2 207.6,572.3 209.1,572.4 210.6,572.5 212.1,572.6 213.0,572.7" stroke="#20B4F0"/>
<path d="M86.1,558.3 87.6,557.1 89.1,556.0 90.6,554.8 92.1,553.6 93.6,552.3 95.1,550.8 96.6,549.2 98.1,547.5 99.6,545.7 101.1,543.7 102.6,541.6 104.1,539.4 105.6,537.1 107.1,534.7 108.6,532.0 110.1,529.0 111.6,525.6 113.1,521.5 114.6,516.3 116.1,510.6 117.6,504.8 119.1,499.4 120.6,493.9 122.1,488.8 123.6,483.8 125.1,478.9 126.6,476.2 128.1,477.2 129.6,480.2 131.1,483.1 132.6,484.6 134.1,485.7 135.6,487.5 137.1,492.7 138.6,501.0 140.1,511.5 141.6,522.6 143.1,532.0 144.6,540.3 146.1,546.7 147.6,552.0 149.1,555.5 150.6,557.2 152.1,558.5 153.6,559.5 155.1,560.3 156.6,561.1 158.1,561.8 159.6,562.4 161.1,563.0 162.6,563.5 164.1,564.1 165.6,564.6 167.1,565.1 168.6,565.7 170.1,566.2 171.6,566.8 173.1,567.3 174.6,567.8 176.1,568.3 177.6,568.7 179.1,569.1 180.6,569.5 182.1,569.8 183.6,570.0 185.1,570.2 186.6,570.4 188.1,570.6 189.6,570.7 191.1,570.9 192.6,571.0 194.1,571.1 195.6,571.3 197.1,571.4 198.6,571.5 200.1,571.6 201.6,571.7 203.1,571.8 204.6,571.9 206.1,572.0 207.6,572.1 209.1,572.2 210.6,572.3 212.1,572.5 213.0,572.5" stroke="#F0A47E"/>
</g>
<rect x="86.1" y="457.2" width="126.9" height="117.7" fill="none" stroke="#2a2a2a" stroke-width="1.7"/>
<line x1="82.1" y1="574.9" x2="86.1" y2="574.9" stroke="#444" stroke-width="1.2"/>
<text x="75.6" y="579.2" class="tk" text-anchor="end">0.0</text>
<line x1="82.1" y1="535.7" x2="86.1" y2="535.7" stroke="#444" stroke-width="1.2"/>
<text x="75.6" y="540.0" class="tk" text-anchor="end">0.3</text>
<line x1="82.1" y1="496.4" x2="86.1" y2="496.4" stroke="#444" stroke-width="1.2"/>
<text x="75.6" y="500.7" class="tk" text-anchor="end">0.6</text>
<line x1="82.1" y1="457.2" x2="86.1" y2="457.2" stroke="#444" stroke-width="1.2"/>
<text x="75.6" y="461.5" class="tk" text-anchor="end">0.9</text>
<line x1="86.1" y1="574.9" x2="86.1" y2="578.9" stroke="#444" stroke-width="1.2"/>
<text x="86.1" y="593.4" class="tk" text-anchor="middle">325</text>
<line x1="127.1" y1="574.9" x2="127.1" y2="578.9" stroke="#444" stroke-width="1.2"/>
<text x="127.1" y="593.4" class="tk" text-anchor="middle">430</text>
<line x1="168.1" y1="574.9" x2="168.1" y2="578.9" stroke="#444" stroke-width="1.2"/>
<text x="168.1" y="593.4" class="tk" text-anchor="middle">535</text>
<line x1="209.1" y1="574.9" x2="209.1" y2="578.9" stroke="#444" stroke-width="1.2"/>
<text x="209.1" y="593.4" class="tk" text-anchor="middle">640</text>
<text x="91.7" y="473.4" class="lab">(A)</text>
<text x="186.3" y="492.7" class="an" text-anchor="middle">10.4 µM</text>
<path d="M182.1,502.9 L186.3,494.6 L190.5,502.9 Z" fill="#111"/>
<line x1="186.3" y1="502.4" x2="186.3" y2="522.4" stroke="#111" stroke-width="2"/>
<text x="186.3" y="537.2" class="an" text-anchor="middle">0</text>
<rect x="248.9" y="456.4" width="127.1" height="117.7" fill="#C9C9C9"/>
<rect x="250.4" y="457.9" width="124.1" height="114.7" fill="none" stroke="#D5D5D5" stroke-width="0.9"/>
<clipPath id="c9"><rect x="248.9" y="456.4" width="127.1" height="117.7"/></clipPath>
<g clip-path="url(#c9)" fill="none" stroke-width="2.3" stroke-linejoin="round">
<path d="M248.9,559.5 250.4,558.3 251.9,557.1 253.4,556.0 254.9,554.8 256.4,553.5 257.9,552.2 259.4,550.8 260.9,549.4 262.4,548.0 263.9,546.4 265.4,544.7 266.9,542.8 268.4,540.8 269.9,538.6 271.4,536.2 272.9,533.6 274.4,530.6 275.9,527.0 277.4,522.4 278.9,517.3 280.4,512.4 281.9,508.5 283.4,505.5 284.9,503.0 286.4,500.7 287.9,498.4 289.4,496.9 290.9,497.3 292.4,499.4 293.9,501.8 295.4,503.1 296.9,504.1 298.4,505.3 299.9,508.2 301.4,513.4 302.9,520.8 304.4,529.9 305.9,538.1 307.4,546.2 308.9,552.1 310.4,556.3 311.9,559.1 313.4,560.3 314.9,561.2 316.4,561.8 317.9,562.3 319.4,562.9 320.9,563.4 322.4,563.9 323.9,564.4 325.4,564.8 326.9,565.3 328.4,565.6 329.9,566.0 331.4,566.4 332.9,566.8 334.4,567.1 335.9,567.5 337.4,567.8 338.9,568.2 340.4,568.4 341.9,568.7 343.4,568.9 344.9,569.1 346.4,569.3 347.9,569.4 349.4,569.5 350.9,569.7 352.4,569.8 353.9,569.9 355.4,570.0 356.9,570.0 358.4,570.1 359.9,570.2 361.4,570.3 362.9,570.3 364.4,570.4 365.9,570.5 367.4,570.5 368.9,570.6 370.4,570.7 371.9,570.7 373.4,570.8 374.9,570.9 376.0,571.0" stroke="#2B3F86"/>
<path d="M248.9,559.6 250.4,558.5 251.9,557.3 253.4,556.1 254.9,554.9 256.4,553.6 257.9,552.3 259.4,551.0 260.9,549.6 262.4,548.1 263.9,546.5 265.4,544.8 266.9,542.9 268.4,540.9 269.9,538.7 271.4,536.3 272.9,533.6 274.4,530.6 275.9,527.0 277.4,522.3 278.9,517.2 280.4,512.3 281.9,508.3 283.4,505.2 284.9,502.6 286.4,500.3 287.9,497.8 289.4,496.3 290.9,496.7 292.4,499.0 293.9,501.4 295.4,502.8 296.9,503.7 298.4,505.0 299.9,507.8 301.4,513.2 302.9,520.6 304.4,529.7 305.9,538.0 307.4,546.2 308.9,552.1 310.4,556.3 311.9,559.1 313.4,560.4 314.9,561.2 316.4,561.9 317.9,562.4 319.4,562.9 320.9,563.5 322.4,564.0 323.9,564.5 325.4,565.0 326.9,565.4 328.4,565.8 329.9,566.2 331.4,566.5 332.9,566.9 334.4,567.3 335.9,567.6 337.4,568.0 338.9,568.3 340.4,568.6 341.9,568.8 343.4,569.1 344.9,569.3 346.4,569.4 347.9,569.6 349.4,569.7 350.9,569.8 352.4,569.9 353.9,570.0 355.4,570.1 356.9,570.2 358.4,570.2 359.9,570.3 361.4,570.4 362.9,570.5 364.4,570.5 365.9,570.6 367.4,570.7 368.9,570.7 370.4,570.8 371.9,570.9 373.4,571.0 374.9,571.0 376.0,571.1" stroke="#FF10C8"/>
<path d="M248.9,559.8 250.4,558.6 251.9,557.5 253.4,556.3 254.9,555.1 256.4,553.8 257.9,552.5 259.4,551.1 260.9,549.7 262.4,548.3 263.9,546.7 265.4,545.0 266.9,543.1 268.4,541.0 269.9,538.8 271.4,536.3 272.9,533.6 274.4,530.6 275.9,527.0 277.4,522.3 278.9,517.2 280.4,512.3 281.9,508.2 283.4,505.0 284.9,502.3 286.4,499.8 287.9,497.3 289.4,495.7 290.9,496.2 292.4,498.5 293.9,501.0 295.4,502.4 296.9,503.4 298.4,504.6 299.9,507.5 301.4,512.9 302.9,520.4 304.4,529.5 305.9,537.9 307.4,546.1 308.9,552.1 310.4,556.3 311.9,559.1 313.4,560.4 314.9,561.2 316.4,561.9 317.9,562.5 319.4,563.0 320.9,563.6 322.4,564.1 323.9,564.6 325.4,565.1 326.9,565.5 328.4,565.9 329.9,566.3 331.4,566.7 332.9,567.1 334.4,567.4 335.9,567.8 337.4,568.1 338.9,568.4 340.4,568.7 341.9,569.0 343.4,569.2 344.9,569.4 346.4,569.6 347.9,569.7 349.4,569.8 350.9,569.9 352.4,570.0 353.9,570.1 355.4,570.2 356.9,570.3 358.4,570.4 359.9,570.5 361.4,570.5 362.9,570.6 364.4,570.7 365.9,570.7 367.4,570.8 368.9,570.9 370.4,570.9 371.9,571.0 373.4,571.1 374.9,571.2 376.0,571.2" stroke="#E6DC10"/>
<path d="M248.9,560.0 250.4,558.8 251.9,557.6 253.4,556.4 254.9,555.2 256.4,553.9 257.9,552.6 259.4,551.2 260.9,549.9 262.4,548.4 263.9,546.8 265.4,545.1 266.9,543.2 268.4,541.1 269.9,538.9 271.4,536.4 272.9,533.7 274.4,530.6 275.9,527.0 277.4,522.3 278.9,517.1 280.4,512.2 281.9,508.0 283.4,504.7 284.9,501.9 286.4,499.3 287.9,496.7 289.4,495.1 290.9,495.6 292.4,498.0 293.9,500.7 295.4,502.1 296.9,503.0 298.4,504.3 299.9,507.2 301.4,512.6 302.9,520.1 304.4,529.4 305.9,537.8 307.4,546.1 308.9,552.1 310.4,556.3 311.9,559.1 313.4,560.4 314.9,561.3 316.4,562.0 317.9,562.5 319.4,563.1 320.9,563.7 322.4,564.2 323.9,564.7 325.4,565.2 326.9,565.7 328.4,566.1 329.9,566.4 331.4,566.8 332.9,567.2 334.4,567.6 335.9,567.9 337.4,568.3 338.9,568.6 340.4,568.9 341.9,569.1 343.4,569.3 344.9,569.5 346.4,569.7 347.9,569.8 349.4,569.9 350.9,570.1 352.4,570.2 353.9,570.3 355.4,570.3 356.9,570.4 358.4,570.5 359.9,570.6 361.4,570.7 362.9,570.7 364.4,570.8 365.9,570.9 367.4,570.9 368.9,571.0 370.4,571.1 371.9,571.1 373.4,571.2 374.9,571.3 376.0,571.4" stroke="#10E0E8"/>
<path d="M248.9,560.2 250.4,559.0 251.9,557.8 253.4,556.6 254.9,555.4 256.4,554.1 257.9,552.7 259.4,551.4 260.9,550.0 262.4,548.5 263.9,547.0 265.4,545.2 266.9,543.3 268.4,541.3 269.9,539.0 271.4,536.5 272.9,533.7 274.4,530.7 275.9,527.0 277.4,522.3 278.9,517.1 280.4,512.1 281.9,507.9 283.4,504.5 284.9,501.5 286.4,498.8 287.9,496.2 289.4,494.5 290.9,495.0 292.4,497.5 293.9,500.3 295.4,501.7 296.9,502.7 298.4,503.9 299.9,506.9 301.4,512.3 302.9,519.9 304.4,529.2 305.9,537.7 307.4,546.1 308.9,552.1 310.4,556.3 311.9,559.1 313.4,560.4 314.9,561.3 316.4,562.0 317.9,562.6 319.4,563.2 320.9,563.8 322.4,564.3 323.9,564.9 325.4,565.3 326.9,565.8 328.4,566.2 329.9,566.6 331.4,567.0 332.9,567.4 334.4,567.7 335.9,568.1 337.4,568.4 338.9,568.7 340.4,569.0 341.9,569.2 343.4,569.5 344.9,569.7 346.4,569.8 347.9,569.9 349.4,570.1 350.9,570.2 352.4,570.3 353.9,570.4 355.4,570.5 356.9,570.6 358.4,570.6 359.9,570.7 361.4,570.8 362.9,570.9 364.4,570.9 365.9,571.0 367.4,571.1 368.9,571.1 370.4,571.2 371.9,571.3 373.4,571.3 374.9,571.4 376.0,571.5" stroke="#80108A"/>
<path d="M248.9,560.4 250.4,559.2 251.9,558.0 253.4,556.8 254.9,555.5 256.4,554.2 257.9,552.9 259.4,551.5 260.9,550.1 262.4,548.7 263.9,547.1 265.4,545.4 266.9,543.5 268.4,541.4 269.9,539.1 271.4,536.5 272.9,533.7 274.4,530.7 275.9,527.0 277.4,522.2 278.9,517.1 280.4,512.0 281.9,507.8 283.4,504.2 284.9,501.1 286.4,498.4 287.9,495.6 289.4,493.9 290.9,494.4 292.4,497.1 293.9,499.9 295.4,501.4 296.9,502.3 298.4,503.6 299.9,506.5 301.4,512.1 302.9,519.7 304.4,529.0 305.9,537.6 307.4,546.0 308.9,552.1 310.4,556.3 311.9,559.1 313.4,560.4 314.9,561.3 316.4,562.0 317.9,562.6 319.4,563.2 320.9,563.8 322.4,564.4 323.9,565.0 325.4,565.5 326.9,565.9 328.4,566.3 329.9,566.7 331.4,567.1 332.9,567.5 334.4,567.9 335.9,568.2 337.4,568.5 338.9,568.8 340.4,569.1 341.9,569.4 343.4,569.6 344.9,569.8 346.4,569.9 347.9,570.1 349.4,570.2 350.9,570.3 352.4,570.4 353.9,570.5 355.4,570.6 356.9,570.7 358.4,570.8 359.9,570.8 361.4,570.9 362.9,571.0 364.4,571.1 365.9,571.1 367.4,571.2 368.9,571.3 370.4,571.3 371.9,571.4 373.4,571.5 374.9,571.6 376.0,571.6" stroke="#800000"/>
<path d="M248.9,560.6 250.4,559.4 251.9,558.1 253.4,556.9 254.9,555.7 256.4,554.4 257.9,553.0 259.4,551.7 260.9,550.3 262.4,548.8 263.9,547.3 265.4,545.5 266.9,543.6 268.4,541.5 269.9,539.2 271.4,536.6 272.9,533.8 274.4,530.7 275.9,527.0 277.4,522.2 278.9,517.0 280.4,512.0 281.9,507.6 283.4,504.0 284.9,500.8 286.4,497.9 287.9,495.1 289.4,493.3 290.9,493.8 292.4,496.6 293.9,499.6 295.4,501.1 296.9,502.0 298.4,503.2 299.9,506.2 301.4,511.8 302.9,519.5 304.4,528.9 305.9,537.5 307.4,546.0 308.9,552.1 310.4,556.3 311.9,559.1 313.4,560.4 314.9,561.4 316.4,562.1 317.9,562.7 319.4,563.3 320.9,563.9 322.4,564.5 323.9,565.1 325.4,565.6 326.9,566.1 328.4,566.5 329.9,566.9 331.4,567.3 332.9,567.6 334.4,568.0 335.9,568.3 337.4,568.7 338.9,569.0 340.4,569.3 341.9,569.5 343.4,569.7 344.9,569.9 346.4,570.1 347.9,570.2 349.4,570.3 350.9,570.4 352.4,570.5 353.9,570.6 355.4,570.7 356.9,570.8 358.4,570.9 359.9,571.0 361.4,571.0 362.9,571.1 364.4,571.2 365.9,571.3 367.4,571.3 368.9,571.4 370.4,571.5 371.9,571.5 373.4,571.6 374.9,571.7 376.0,571.7" stroke="#1E7A3C"/>
<path d="M248.9,560.8 250.4,559.5 251.9,558.3 253.4,557.1 254.9,555.8 256.4,554.5 257.9,553.1 259.4,551.8 260.9,550.4 262.4,549.0 263.9,547.4 265.4,545.7 266.9,543.7 268.4,541.6 269.9,539.3 271.4,536.7 272.9,533.8 274.4,530.7 275.9,526.9 277.4,522.2 278.9,517.0 280.4,511.9 281.9,507.5 283.4,503.7 284.9,500.4 286.4,497.4 287.9,494.5 289.4,492.7 290.9,493.2 292.4,496.1 293.9,499.2 295.4,500.7 296.9,501.7 298.4,502.9 299.9,505.9 301.4,511.5 302.9,519.2 304.4,528.7 305.9,537.4 307.4,546.0 308.9,552.1 310.4,556.3 311.9,559.1 313.4,560.4 314.9,561.4 316.4,562.1 317.9,562.8 319.4,563.4 320.9,564.0 322.4,564.6 323.9,565.2 325.4,565.7 326.9,566.2 328.4,566.6 329.9,567.0 331.4,567.4 332.9,567.8 334.4,568.1 335.9,568.5 337.4,568.8 338.9,569.1 340.4,569.4 341.9,569.6 343.4,569.9 344.9,570.1 346.4,570.2 347.9,570.3 349.4,570.5 350.9,570.6 352.4,570.7 353.9,570.8 355.4,570.9 356.9,571.0 358.4,571.0 359.9,571.1 361.4,571.2 362.9,571.2 364.4,571.3 365.9,571.4 367.4,571.5 368.9,571.5 370.4,571.6 371.9,571.7 373.4,571.7 374.9,571.8 376.0,571.9" stroke="#0A0AF0"/>
<path d="M248.9,561.0 250.4,559.7 251.9,558.5 253.4,557.2 254.9,556.0 256.4,554.6 257.9,553.3 259.4,551.9 260.9,550.6 262.4,549.1 263.9,547.5 265.4,545.8 266.9,543.9 268.4,541.7 269.9,539.4 271.4,536.7 272.9,533.8 274.4,530.7 275.9,526.9 277.4,522.2 278.9,517.0 280.4,511.8 281.9,507.3 283.4,503.5 284.9,500.0 286.4,497.0 287.9,494.0 289.4,492.1 290.9,492.7 292.4,495.7 293.9,498.8 295.4,500.4 296.9,501.3 298.4,502.6 299.9,505.6 301.4,511.2 302.9,519.0 304.4,528.5 305.9,537.3 307.4,545.9 308.9,552.1 310.4,556.3 311.9,559.1 313.4,560.5 314.9,561.4 316.4,562.2 317.9,562.8 319.4,563.4 320.9,564.1 322.4,564.7 323.9,565.3 325.4,565.9 326.9,566.3 328.4,566.8 329.9,567.2 331.4,567.6 332.9,567.9 334.4,568.3 335.9,568.6 337.4,569.0 338.9,569.3 340.4,569.5 341.9,569.8 343.4,570.0 344.9,570.2 346.4,570.3 347.9,570.5 349.4,570.6 350.9,570.7 352.4,570.8 353.9,570.9 355.4,571.0 356.9,571.1 358.4,571.2 359.9,571.2 361.4,571.3 362.9,571.4 364.4,571.4 365.9,571.5 367.4,571.6 368.9,571.7 370.4,571.7 371.9,571.8 373.4,571.9 374.9,571.9 376.0,572.0" stroke="#1CA8E0"/>
<path d="M248.9,561.2 250.4,559.9 251.9,558.7 253.4,557.4 254.9,556.1 256.4,554.8 257.9,553.4 259.4,552.1 260.9,550.7 262.4,549.3 263.9,547.7 265.4,546.0 266.9,544.0 268.4,541.8 269.9,539.4 271.4,536.8 272.9,533.9 274.4,530.7 275.9,526.9 277.4,522.1 278.9,516.9 280.4,511.8 281.9,507.2 283.4,503.2 284.9,499.6 286.4,496.5 287.9,493.4 289.4,491.5 290.9,492.1 292.4,495.2 293.9,498.5 295.4,500.0 296.9,501.0 298.4,502.2 299.9,505.2 301.4,511.0 302.9,518.8 304.4,528.4 305.9,537.2 307.4,545.9 308.9,552.1 310.4,556.3 311.9,559.1 313.4,560.5 314.9,561.5 316.4,562.2 317.9,562.9 319.4,563.5 320.9,564.2 322.4,564.8 323.9,565.4 325.4,566.0 326.9,566.5 328.4,566.9 329.9,567.3 331.4,567.7 332.9,568.1 334.4,568.4 335.9,568.8 337.4,569.1 338.9,569.4 340.4,569.7 341.9,569.9 343.4,570.1 344.9,570.3 346.4,570.5 347.9,570.6 349.4,570.7 350.9,570.8 352.4,570.9 353.9,571.0 355.4,571.1 356.9,571.2 358.4,571.3 359.9,571.4 361.4,571.4 362.9,571.5 364.4,571.6 365.9,571.6 367.4,571.7 368.9,571.8 370.4,571.9 371.9,571.9 373.4,572.0 374.9,572.1 376.0,572.1" stroke="#A6D4D8"/>
<path d="M248.9,561.4 250.4,560.1 251.9,558.8 253.4,557.6 254.9,556.3 256.4,554.9 257.9,553.6 259.4,552.2 260.9,550.8 262.4,549.4 263.9,547.8 265.4,546.1 266.9,544.1 268.4,542.0 269.9,539.5 271.4,536.9 272.9,533.9 274.4,530.7 275.9,526.9 277.4,522.1 278.9,516.9 280.4,511.7 281.9,507.1 283.4,503.0 284.9,499.3 286.4,496.0 287.9,492.8 289.4,490.8 290.9,491.5 292.4,494.7 293.9,498.1 295.4,499.7 296.9,500.6 298.4,501.9 299.9,504.9 301.4,510.7 302.9,518.6 304.4,528.2 305.9,537.1 307.4,545.9 308.9,552.1 310.4,556.3 311.9,559.1 313.4,560.5 314.9,561.5 316.4,562.3 317.9,562.9 319.4,563.6 320.9,564.3 322.4,564.9 323.9,565.5 325.4,566.1 326.9,566.6 328.4,567.0 329.9,567.5 331.4,567.8 332.9,568.2 334.4,568.6 335.9,568.9 337.4,569.2 338.9,569.5 340.4,569.8 341.9,570.0 343.4,570.3 344.9,570.4 346.4,570.6 347.9,570.7 349.4,570.9 350.9,571.0 352.4,571.1 353.9,571.2 355.4,571.3 356.9,571.3 358.4,571.4 359.9,571.5 361.4,571.6 362.9,571.6 364.4,571.7 365.9,571.8 367.4,571.8 368.9,571.9 370.4,572.0 371.9,572.1 373.4,572.1 374.9,572.2 376.0,572.3" stroke="#64DCB0"/>
<path d="M248.9,561.6 250.4,560.3 251.9,559.0 253.4,557.7 254.9,556.4 256.4,555.1 257.9,553.7 259.4,552.3 260.9,551.0 262.4,549.5 263.9,548.0 265.4,546.2 266.9,544.3 268.4,542.1 269.9,539.6 271.4,536.9 272.9,534.0 274.4,530.7 275.9,526.9 277.4,522.1 278.9,516.8 280.4,511.6 281.9,506.9 283.4,502.7 284.9,498.9 286.4,495.6 287.9,492.3 289.4,490.2 290.9,490.9 292.4,494.2 293.9,497.7 295.4,499.4 296.9,500.3 298.4,501.5 299.9,504.6 301.4,510.4 302.9,518.3 304.4,528.0 305.9,537.0 307.4,545.8 308.9,552.1 310.4,556.3 311.9,559.1 313.4,560.5 314.9,561.5 316.4,562.3 317.9,563.0 319.4,563.7 320.9,564.4 322.4,565.0 323.9,565.7 325.4,566.2 326.9,566.7 328.4,567.2 329.9,567.6 331.4,568.0 332.9,568.4 334.4,568.7 335.9,569.1 337.4,569.4 338.9,569.7 340.4,569.9 341.9,570.2 343.4,570.4 344.9,570.6 346.4,570.7 347.9,570.9 349.4,571.0 350.9,571.1 352.4,571.2 353.9,571.3 355.4,571.4 356.9,571.5 358.4,571.6 359.9,571.6 361.4,571.7 362.9,571.8 364.4,571.8 365.9,571.9 367.4,572.0 368.9,572.0 370.4,572.1 371.9,572.2 373.4,572.3 374.9,572.3 376.0,572.4" stroke="#D6CE70"/>
<path d="M248.9,561.7 250.4,560.4 251.9,559.2 253.4,557.9 254.9,556.6 256.4,555.2 257.9,553.8 259.4,552.5 260.9,551.1 262.4,549.7 263.9,548.1 265.4,546.4 266.9,544.4 268.4,542.2 269.9,539.7 271.4,537.0 272.9,534.0 274.4,530.7 275.9,526.9 277.4,522.1 278.9,516.8 280.4,511.5 281.9,506.8 283.4,502.5 284.9,498.5 286.4,495.1 287.9,491.7 289.4,489.6 290.9,490.3 292.4,493.8 293.9,497.4 295.4,499.0 296.9,499.9 298.4,501.2 299.9,504.3 301.4,510.1 302.9,518.1 304.4,527.9 305.9,536.9 307.4,545.8 308.9,552.1 310.4,556.3 311.9,559.1 313.4,560.5 314.9,561.6 316.4,562.4 317.9,563.0 319.4,563.7 320.9,564.4 322.4,565.1 323.9,565.8 325.4,566.4 326.9,566.9 328.4,567.3 329.9,567.7 331.4,568.1 332.9,568.5 334.4,568.9 335.9,569.2 337.4,569.5 338.9,569.8 340.4,570.1 341.9,570.3 343.4,570.5 344.9,570.7 346.4,570.9 347.9,571.0 349.4,571.1 350.9,571.2 352.4,571.3 353.9,571.4 355.4,571.5 356.9,571.6 358.4,571.7 359.9,571.8 361.4,571.8 362.9,571.9 364.4,572.0 365.9,572.0 367.4,572.1 368.9,572.2 370.4,572.2 371.9,572.3 373.4,572.4 374.9,572.5 376.0,572.5" stroke="#20B4F0"/>
<path d="M248.9,561.9 250.4,560.6 251.9,559.3 253.4,558.0 254.9,556.7 256.4,555.4 257.9,554.0 259.4,552.6 260.9,551.3 262.4,549.8 263.9,548.3 265.4,546.5 266.9,544.5 268.4,542.3 269.9,539.8 271.4,537.1 272.9,534.0 274.4,530.7 275.9,526.8 277.4,522.0 278.9,516.8 280.4,511.5 281.9,506.6 283.4,502.2 284.9,498.1 286.4,494.6 287.9,491.2 289.4,489.0 290.9,489.7 292.4,493.3 293.9,497.0 295.4,498.7 296.9,499.6 298.4,500.8 299.9,504.0 301.4,509.9 302.9,517.9 304.4,527.7 305.9,536.8 307.4,545.8 308.9,552.1 310.4,556.3 311.9,559.1 313.4,560.5 314.9,561.6 316.4,562.4 317.9,563.1 319.4,563.8 320.9,564.5 322.4,565.2 323.9,565.9 325.4,566.5 326.9,567.0 328.4,567.5 329.9,567.9 331.4,568.3 332.9,568.6 334.4,569.0 335.9,569.3 337.4,569.7 338.9,569.9 340.4,570.2 341.9,570.5 343.4,570.7 344.9,570.8 346.4,571.0 347.9,571.1 349.4,571.2 350.9,571.4 352.4,571.5 353.9,571.6 355.4,571.6 356.9,571.7 358.4,571.8 359.9,571.9 361.4,572.0 362.9,572.0 364.4,572.1 365.9,572.2 367.4,572.2 368.9,572.3 370.4,572.4 371.9,572.4 373.4,572.5 374.9,572.6 376.0,572.7" stroke="#F0A47E"/>
</g>
<rect x="248.9" y="456.4" width="127.1" height="117.7" fill="none" stroke="#2a2a2a" stroke-width="1.7"/>
<line x1="244.9" y1="574.1" x2="248.9" y2="574.1" stroke="#444" stroke-width="1.2"/>
<text x="238.4" y="578.4" class="tk" text-anchor="end">0.0</text>
<line x1="244.9" y1="534.9" x2="248.9" y2="534.9" stroke="#444" stroke-width="1.2"/>
<text x="238.4" y="539.2" class="tk" text-anchor="end">0.3</text>
<line x1="244.9" y1="495.6" x2="248.9" y2="495.6" stroke="#444" stroke-width="1.2"/>
<text x="238.4" y="499.9" class="tk" text-anchor="end">0.6</text>
<line x1="244.9" y1="456.4" x2="248.9" y2="456.4" stroke="#444" stroke-width="1.2"/>
<text x="238.4" y="460.7" class="tk" text-anchor="end">0.9</text>
<line x1="248.9" y1="574.1" x2="248.9" y2="578.1" stroke="#444" stroke-width="1.2"/>
<text x="248.9" y="592.6" class="tk" text-anchor="middle">325</text>
<line x1="290.0" y1="574.1" x2="290.0" y2="578.1" stroke="#444" stroke-width="1.2"/>
<text x="290.0" y="592.6" class="tk" text-anchor="middle">430</text>
<line x1="331.0" y1="574.1" x2="331.0" y2="578.1" stroke="#444" stroke-width="1.2"/>
<text x="331.0" y="592.6" class="tk" text-anchor="middle">535</text>
<line x1="372.1" y1="574.1" x2="372.1" y2="578.1" stroke="#444" stroke-width="1.2"/>
<text x="372.1" y="592.6" class="tk" text-anchor="middle">640</text>
<text x="253.6" y="475.2" class="lab">(B)</text>
<text x="349.3" y="503.9" class="an" text-anchor="middle">10.4 µM</text>
<path d="M344.5,514 L348.7,504.8 L352.9,514 Z" fill="#111"/>
<line x1="348.7" y1="513.5" x2="348.7" y2="533.5" stroke="#111" stroke-width="2"/>
<text x="348.7" y="548.3" class="an" text-anchor="middle">0</text>
<rect x="413.3" y="456.6" width="126.9" height="117.0" fill="#C9C9C9"/>
<rect x="414.8" y="458.1" width="123.9" height="114.0" fill="none" stroke="#D5D5D5" stroke-width="0.9"/>
<clipPath id="c10"><rect x="413.3" y="456.6" width="126.9" height="117.0"/></clipPath>
<g clip-path="url(#c10)" fill="none" stroke-width="2.3" stroke-linejoin="round">
<path d="M413.3,559.3 414.8,558.1 416.3,556.9 417.8,555.7 419.3,554.5 420.8,553.2 422.3,551.8 423.8,550.3 425.3,548.8 426.8,547.1 428.3,545.3 429.8,543.4 431.3,541.2 432.8,538.8 434.3,536.2 435.8,533.3 437.3,530.3 438.8,527.2 440.3,523.8 441.8,519.9 443.3,515.9 444.8,512.1 446.3,508.7 447.8,505.5 449.3,502.7 450.8,500.1 452.3,497.6 453.8,496.4 455.3,497.3 456.8,499.5 458.3,501.5 459.8,502.7 461.3,503.7 462.8,505.2 464.3,508.0 465.8,512.3 467.3,518.4 468.8,526.0 470.3,535.4 471.8,546.0 473.3,552.7 474.8,557.4 476.3,560.2 477.8,561.6 479.3,562.6 480.8,563.4 482.3,564.0 483.8,564.7 485.3,565.4 486.8,566.0 488.3,566.5 489.8,567.0 491.3,567.5 492.8,567.9 494.3,568.3 495.8,568.7 497.3,569.0 498.8,569.4 500.3,569.7 501.8,570.1 503.3,570.3 504.8,570.6 506.3,570.8 507.8,571.0 509.3,571.2 510.8,571.3 512.3,571.4 513.8,571.5 515.3,571.6 516.8,571.7 518.3,571.8 519.8,571.8 521.3,571.9 522.8,571.9 524.3,572.0 525.8,572.1 527.3,572.1 528.8,572.2 530.3,572.2 531.8,572.3 533.3,572.3 534.8,572.4 536.3,572.4 537.8,572.5 539.3,572.5 540.2,572.6" stroke="#2B3F86"/>
<path d="M413.3,559.5 414.8,558.3 416.3,557.1 417.8,555.9 419.3,554.6 420.8,553.2 422.3,551.8 423.8,550.3 425.3,548.7 426.8,547.0 428.3,545.2 429.8,543.2 431.3,541.1 432.8,538.6 434.3,536.0 435.8,533.1 437.3,530.1 438.8,527.0 440.3,523.4 441.8,519.4 443.3,515.3 444.8,511.3 446.3,507.8 447.8,504.6 449.3,501.7 450.8,498.9 452.3,496.2 453.8,495.0 455.3,495.9 456.8,498.2 458.3,500.3 459.8,501.5 461.3,502.6 462.8,504.0 464.3,507.0 465.8,511.5 467.3,517.9 468.8,525.7 470.3,535.2 471.8,545.7 473.3,552.5 474.8,557.2 476.3,560.0 477.8,561.4 479.3,562.4 480.8,563.2 482.3,563.9 483.8,564.6 485.3,565.3 486.8,565.9 488.3,566.5 489.8,567.0 491.3,567.4 492.8,567.9 494.3,568.3 495.8,568.7 497.3,569.0 498.8,569.4 500.3,569.7 501.8,570.1 503.3,570.4 504.8,570.6 506.3,570.9 507.8,571.1 509.3,571.2 510.8,571.3 512.3,571.4 513.8,571.5 515.3,571.6 516.8,571.7 518.3,571.8 519.8,571.9 521.3,571.9 522.8,572.0 524.3,572.0 525.8,572.1 527.3,572.1 528.8,572.2 530.3,572.2 531.8,572.3 533.3,572.3 534.8,572.4 536.3,572.4 537.8,572.5 539.3,572.6 540.2,572.6" stroke="#FF10C8"/>
<path d="M413.3,559.7 414.8,558.4 416.3,557.2 417.8,556.0 419.3,554.7 420.8,553.3 422.3,551.8 423.8,550.3 425.3,548.7 426.8,547.0 428.3,545.1 429.8,543.1 431.3,540.9 432.8,538.4 434.3,535.8 435.8,532.9 437.3,529.9 438.8,526.7 440.3,523.1 441.8,519.0 443.3,514.7 444.8,510.6 446.3,507.0 447.8,503.6 449.3,500.6 450.8,497.7 452.3,494.9 453.8,493.6 455.3,494.6 456.8,496.9 458.3,499.1 459.8,500.3 461.3,501.4 462.8,502.9 464.3,506.0 465.8,510.7 467.3,517.4 468.8,525.4 470.3,534.9 471.8,545.5 473.3,552.2 474.8,557.0 476.3,559.8 477.8,561.2 479.3,562.2 480.8,563.1 482.3,563.8 483.8,564.5 485.3,565.1 486.8,565.8 488.3,566.4 489.8,566.9 491.3,567.4 492.8,567.8 494.3,568.2 495.8,568.6 497.3,569.0 498.8,569.4 500.3,569.7 501.8,570.1 503.3,570.4 504.8,570.7 506.3,570.9 507.8,571.1 509.3,571.3 510.8,571.4 512.3,571.5 513.8,571.6 515.3,571.7 516.8,571.7 518.3,571.8 519.8,571.9 521.3,572.0 522.8,572.0 524.3,572.1 525.8,572.1 527.3,572.2 528.8,572.2 530.3,572.3 531.8,572.3 533.3,572.4 534.8,572.4 536.3,572.5 537.8,572.5 539.3,572.6 540.2,572.6" stroke="#E6DC10"/>
<path d="M413.3,559.9 414.8,558.6 416.3,557.4 417.8,556.1 419.3,554.8 420.8,553.4 422.3,551.9 423.8,550.3 425.3,548.7 426.8,546.9 428.3,545.0 429.8,543.0 431.3,540.7 432.8,538.3 434.3,535.6 435.8,532.7 437.3,529.6 438.8,526.4 440.3,522.7 441.8,518.5 443.3,514.1 444.8,509.9 446.3,506.1 447.8,502.6 449.3,499.5 450.8,496.5 452.3,493.6 453.8,492.2 455.3,493.2 456.8,495.6 458.3,497.9 459.8,499.1 461.3,500.2 462.8,501.7 464.3,505.0 465.8,509.9 467.3,516.8 468.8,525.1 470.3,534.7 471.8,545.2 473.3,552.0 474.8,556.8 476.3,559.6 477.8,561.0 479.3,562.1 480.8,562.9 482.3,563.6 483.8,564.3 485.3,565.0 486.8,565.7 488.3,566.3 489.8,566.9 491.3,567.3 492.8,567.8 494.3,568.2 495.8,568.6 497.3,569.0 498.8,569.4 500.3,569.7 501.8,570.1 503.3,570.4 504.8,570.7 506.3,570.9 507.8,571.1 509.3,571.3 510.8,571.4 512.3,571.5 513.8,571.6 515.3,571.7 516.8,571.8 518.3,571.9 519.8,571.9 521.3,572.0 522.8,572.1 524.3,572.1 525.8,572.2 527.3,572.2 528.8,572.3 530.3,572.3 531.8,572.4 533.3,572.4 534.8,572.5 536.3,572.5 537.8,572.6 539.3,572.6 540.2,572.7" stroke="#10E0E8"/>
<path d="M413.3,560.1 414.8,558.8 416.3,557.5 417.8,556.2 419.3,554.9 420.8,553.5 422.3,551.9 423.8,550.3 425.3,548.6 426.8,546.8 428.3,544.9 429.8,542.8 431.3,540.6 432.8,538.1 434.3,535.4 435.8,532.5 437.3,529.4 438.8,526.1 440.3,522.4 441.8,518.1 443.3,513.6 444.8,509.2 446.3,505.3 447.8,501.7 449.3,498.4 450.8,495.2 452.3,492.2 453.8,490.7 455.3,491.8 456.8,494.3 458.3,496.6 459.8,497.9 461.3,499.0 462.8,500.5 464.3,504.0 465.8,509.2 467.3,516.3 468.8,524.8 470.3,534.5 471.8,544.9 473.3,551.7 474.8,556.5 476.3,559.4 477.8,560.8 479.3,561.9 480.8,562.7 482.3,563.5 483.8,564.2 485.3,564.9 486.8,565.6 488.3,566.2 489.8,566.8 491.3,567.3 492.8,567.7 494.3,568.2 495.8,568.6 497.3,569.0 498.8,569.4 500.3,569.8 501.8,570.1 503.3,570.4 504.8,570.7 506.3,570.9 507.8,571.1 509.3,571.3 510.8,571.4 512.3,571.5 513.8,571.6 515.3,571.7 516.8,571.8 518.3,571.9 519.8,572.0 521.3,572.0 522.8,572.1 524.3,572.1 525.8,572.2 527.3,572.3 528.8,572.3 530.3,572.4 531.8,572.4 533.3,572.5 534.8,572.5 536.3,572.6 537.8,572.6 539.3,572.7 540.2,572.7" stroke="#80108A"/>
<path d="M413.3,560.3 414.8,559.0 416.3,557.7 417.8,556.4 419.3,555.0 420.8,553.5 422.3,552.0 423.8,550.3 425.3,548.6 426.8,546.8 428.3,544.8 429.8,542.7 431.3,540.4 432.8,537.9 434.3,535.2 435.8,532.3 437.3,529.2 438.8,525.9 440.3,522.0 441.8,517.6 443.3,513.0 444.8,508.5 446.3,504.4 447.8,500.7 449.3,497.4 450.8,494.0 452.3,490.9 453.8,489.3 455.3,490.4 456.8,493.0 458.3,495.4 459.8,496.7 461.3,497.8 462.8,499.4 464.3,503.0 465.8,508.4 467.3,515.8 468.8,524.5 470.3,534.3 471.8,544.7 473.3,551.5 474.8,556.3 476.3,559.2 477.8,560.7 479.3,561.8 480.8,562.6 482.3,563.3 483.8,564.1 485.3,564.8 486.8,565.5 488.3,566.2 489.8,566.7 491.3,567.3 492.8,567.7 494.3,568.1 495.8,568.6 497.3,569.0 498.8,569.4 500.3,569.8 501.8,570.1 503.3,570.4 504.8,570.7 506.3,571.0 507.8,571.2 509.3,571.3 510.8,571.5 512.3,571.6 513.8,571.7 515.3,571.8 516.8,571.8 518.3,571.9 519.8,572.0 521.3,572.1 522.8,572.1 524.3,572.2 525.8,572.2 527.3,572.3 528.8,572.3 530.3,572.4 531.8,572.4 533.3,572.5 534.8,572.5 536.3,572.6 537.8,572.7 539.3,572.7 540.2,572.8" stroke="#800000"/>
<path d="M413.3,560.5 414.8,559.1 416.3,557.8 417.8,556.5 419.3,555.1 420.8,553.6 422.3,552.0 423.8,550.3 425.3,548.6 426.8,546.7 428.3,544.7 429.8,542.6 431.3,540.2 432.8,537.7 434.3,535.0 435.8,532.1 437.3,529.0 438.8,525.6 440.3,521.7 441.8,517.2 443.3,512.4 444.8,507.8 446.3,503.6 447.8,499.8 449.3,496.3 450.8,492.8 452.3,489.5 453.8,487.9 455.3,489.1 456.8,491.8 458.3,494.2 459.8,495.5 461.3,496.6 462.8,498.2 464.3,502.0 465.8,507.6 467.3,515.3 468.8,524.2 470.3,534.0 471.8,544.4 473.3,551.2 474.8,556.1 476.3,559.0 477.8,560.5 479.3,561.6 480.8,562.4 482.3,563.2 483.8,564.0 485.3,564.7 486.8,565.4 488.3,566.1 489.8,566.7 491.3,567.2 492.8,567.7 494.3,568.1 495.8,568.6 497.3,569.0 498.8,569.4 500.3,569.8 501.8,570.1 503.3,570.4 504.8,570.7 506.3,571.0 507.8,571.2 509.3,571.4 510.8,571.5 512.3,571.6 513.8,571.7 515.3,571.8 516.8,571.9 518.3,572.0 519.8,572.0 521.3,572.1 522.8,572.2 524.3,572.2 525.8,572.3 527.3,572.3 528.8,572.4 530.3,572.4 531.8,572.5 533.3,572.5 534.8,572.6 536.3,572.6 537.8,572.7 539.3,572.8 540.2,572.8" stroke="#1E7A3C"/>
<path d="M413.3,560.7 414.8,559.3 416.3,558.0 417.8,556.6 419.3,555.2 420.8,553.7 422.3,552.0 423.8,550.3 425.3,548.5 426.8,546.6 428.3,544.6 429.8,542.4 431.3,540.1 432.8,537.5 434.3,534.8 435.8,531.9 437.3,528.7 438.8,525.3 440.3,521.3 441.8,516.7 443.3,511.8 444.8,507.0 446.3,502.8 447.8,498.8 449.3,495.2 450.8,491.6 452.3,488.2 453.8,486.5 455.3,487.7 456.8,490.5 458.3,493.0 459.8,494.3 461.3,495.4 462.8,497.0 464.3,500.9 465.8,506.8 467.3,514.8 468.8,523.9 470.3,533.8 471.8,544.1 473.3,550.9 474.8,555.9 476.3,558.8 477.8,560.3 479.3,561.4 480.8,562.3 482.3,563.0 483.8,563.8 485.3,564.6 486.8,565.3 488.3,566.0 489.8,566.6 491.3,567.2 492.8,567.6 494.3,568.1 495.8,568.5 497.3,569.0 498.8,569.4 500.3,569.8 501.8,570.1 503.3,570.5 504.8,570.8 506.3,571.0 507.8,571.2 509.3,571.4 510.8,571.5 512.3,571.6 513.8,571.7 515.3,571.8 516.8,571.9 518.3,572.0 519.8,572.1 521.3,572.1 522.8,572.2 524.3,572.3 525.8,572.3 527.3,572.4 528.8,572.4 530.3,572.5 531.8,572.5 533.3,572.6 534.8,572.6 536.3,572.7 537.8,572.7 539.3,572.8 540.2,572.8" stroke="#0A0AF0"/>
<path d="M413.3,560.9 414.8,559.5 416.3,558.1 417.8,556.7 419.3,555.3 420.8,553.7 422.3,552.1 423.8,550.3 425.3,548.5 426.8,546.6 428.3,544.5 429.8,542.3 431.3,539.9 432.8,537.4 434.3,534.6 435.8,531.7 437.3,528.5 438.8,525.1 440.3,521.0 441.8,516.2 443.3,511.2 444.8,506.3 446.3,501.9 447.8,497.8 449.3,494.1 450.8,490.4 452.3,486.8 453.8,485.1 455.3,486.3 456.8,489.2 458.3,491.8 459.8,493.1 461.3,494.2 462.8,495.8 464.3,499.9 465.8,506.1 467.3,514.2 468.8,523.6 470.3,533.6 471.8,543.9 473.3,550.7 474.8,555.6 476.3,558.6 477.8,560.1 479.3,561.3 480.8,562.1 482.3,562.9 483.8,563.7 485.3,564.5 486.8,565.2 488.3,565.9 489.8,566.6 491.3,567.1 492.8,567.6 494.3,568.1 495.8,568.5 497.3,569.0 498.8,569.4 500.3,569.8 501.8,570.1 503.3,570.5 504.8,570.8 506.3,571.0 507.8,571.3 509.3,571.4 510.8,571.6 512.3,571.7 513.8,571.8 515.3,571.9 516.8,571.9 518.3,572.0 519.8,572.1 521.3,572.2 522.8,572.2 524.3,572.3 525.8,572.3 527.3,572.4 528.8,572.5 530.3,572.5 531.8,572.6 533.3,572.6 534.8,572.7 536.3,572.7 537.8,572.8 539.3,572.8 540.2,572.9" stroke="#1CA8E0"/>
<path d="M413.3,561.1 414.8,559.7 416.3,558.3 417.8,556.9 419.3,555.4 420.8,553.8 422.3,552.1 423.8,550.3 425.3,548.5 426.8,546.5 428.3,544.4 429.8,542.1 431.3,539.7 432.8,537.2 434.3,534.4 435.8,531.5 437.3,528.3 438.8,524.8 440.3,520.6 441.8,515.8 443.3,510.6 444.8,505.6 446.3,501.1 447.8,496.9 449.3,493.0 450.8,489.2 452.3,485.5 453.8,483.7 455.3,485.0 456.8,487.9 458.3,490.5 459.8,491.9 461.3,493.0 462.8,494.7 464.3,498.9 465.8,505.3 467.3,513.7 468.8,523.3 470.3,533.4 471.8,543.6 473.3,550.4 474.8,555.4 476.3,558.4 477.8,559.9 479.3,561.1 480.8,562.0 482.3,562.8 483.8,563.6 485.3,564.4 486.8,565.1 488.3,565.9 489.8,566.5 491.3,567.1 492.8,567.6 494.3,568.0 495.8,568.5 497.3,568.9 498.8,569.4 500.3,569.8 501.8,570.1 503.3,570.5 504.8,570.8 506.3,571.1 507.8,571.3 509.3,571.5 510.8,571.6 512.3,571.7 513.8,571.8 515.3,571.9 516.8,572.0 518.3,572.1 519.8,572.1 521.3,572.2 522.8,572.3 524.3,572.3 525.8,572.4 527.3,572.4 528.8,572.5 530.3,572.5 531.8,572.6 533.3,572.6 534.8,572.7 536.3,572.8 537.8,572.8 539.3,572.9 540.2,572.9" stroke="#A6D4D8"/>
<path d="M413.3,561.3 414.8,559.8 416.3,558.4 417.8,557.0 419.3,555.5 420.8,553.9 422.3,552.2 423.8,550.4 425.3,548.4 426.8,546.4 428.3,544.3 429.8,542.0 431.3,539.6 432.8,537.0 434.3,534.3 435.8,531.3 437.3,528.0 438.8,524.5 440.3,520.3 441.8,515.3 443.3,510.0 444.8,504.9 446.3,500.2 447.8,495.9 449.3,492.0 450.8,488.0 452.3,484.2 453.8,482.3 455.3,483.6 456.8,486.6 458.3,489.3 459.8,490.7 461.3,491.8 462.8,493.5 464.3,497.9 465.8,504.5 467.3,513.2 468.8,523.0 470.3,533.1 471.8,543.3 473.3,550.2 474.8,555.2 476.3,558.2 477.8,559.8 479.3,560.9 480.8,561.8 482.3,562.6 483.8,563.5 485.3,564.3 486.8,565.1 488.3,565.8 489.8,566.4 491.3,567.0 492.8,567.5 494.3,568.0 495.8,568.5 497.3,568.9 498.8,569.4 500.3,569.8 501.8,570.2 503.3,570.5 504.8,570.8 506.3,571.1 507.8,571.3 509.3,571.5 510.8,571.6 512.3,571.7 513.8,571.8 515.3,571.9 516.8,572.0 518.3,572.1 519.8,572.2 521.3,572.2 522.8,572.3 524.3,572.4 525.8,572.4 527.3,572.5 528.8,572.5 530.3,572.6 531.8,572.6 533.3,572.7 534.8,572.7 536.3,572.8 537.8,572.9 539.3,572.9 540.2,573.0" stroke="#64DCB0"/>
<path d="M413.3,561.5 414.8,560.0 416.3,558.6 417.8,557.1 419.3,555.6 420.8,554.0 422.3,552.2 423.8,550.4 425.3,548.4 426.8,546.4 428.3,544.2 429.8,541.9 431.3,539.4 432.8,536.8 434.3,534.1 435.8,531.1 437.3,527.8 438.8,524.2 440.3,519.9 441.8,514.9 443.3,509.5 444.8,504.2 446.3,499.4 447.8,495.0 449.3,490.9 450.8,486.8 452.3,482.8 453.8,480.9 455.3,482.2 456.8,485.3 458.3,488.1 459.8,489.5 461.3,490.6 462.8,492.3 464.3,496.9 465.8,503.7 467.3,512.7 468.8,522.7 470.3,532.9 471.8,543.1 473.3,549.9 474.8,555.0 476.3,558.0 477.8,559.6 479.3,560.8 480.8,561.7 482.3,562.5 483.8,563.3 485.3,564.2 486.8,565.0 488.3,565.7 489.8,566.4 491.3,567.0 492.8,567.5 494.3,568.0 495.8,568.5 497.3,568.9 498.8,569.4 500.3,569.8 501.8,570.2 503.3,570.5 504.8,570.8 506.3,571.1 507.8,571.3 509.3,571.5 510.8,571.6 512.3,571.8 513.8,571.9 515.3,572.0 516.8,572.1 518.3,572.1 519.8,572.2 521.3,572.3 522.8,572.3 524.3,572.4 525.8,572.5 527.3,572.5 528.8,572.6 530.3,572.6 531.8,572.7 533.3,572.7 534.8,572.8 536.3,572.8 537.8,572.9 539.3,573.0 540.2,573.0" stroke="#D6CE70"/>
<path d="M413.3,561.7 414.8,560.2 416.3,558.7 417.8,557.2 419.3,555.7 420.8,554.0 422.3,552.2 423.8,550.4 425.3,548.4 426.8,546.3 428.3,544.1 429.8,541.7 431.3,539.2 432.8,536.6 434.3,533.9 435.8,530.9 437.3,527.6 438.8,524.0 440.3,519.6 441.8,514.4 443.3,508.9 444.8,503.4 446.3,498.6 447.8,494.0 449.3,489.8 450.8,485.6 452.3,481.5 453.8,479.5 455.3,480.8 456.8,484.0 458.3,486.9 459.8,488.3 461.3,489.4 462.8,491.2 464.3,495.9 465.8,503.0 467.3,512.2 468.8,522.4 470.3,532.7 471.8,542.8 473.3,549.7 474.8,554.7 476.3,557.8 477.8,559.4 479.3,560.6 480.8,561.5 482.3,562.3 483.8,563.2 485.3,564.1 486.8,564.9 488.3,565.6 489.8,566.3 491.3,566.9 492.8,567.5 494.3,568.0 495.8,568.4 497.3,568.9 498.8,569.4 500.3,569.8 501.8,570.2 503.3,570.5 504.8,570.9 506.3,571.1 507.8,571.4 509.3,571.5 510.8,571.7 512.3,571.8 513.8,571.9 515.3,572.0 516.8,572.1 518.3,572.2 519.8,572.2 521.3,572.3 522.8,572.4 524.3,572.4 525.8,572.5 527.3,572.5 528.8,572.6 530.3,572.7 531.8,572.7 533.3,572.8 534.8,572.8 536.3,572.9 537.8,572.9 539.3,573.0 540.2,573.0" stroke="#20B4F0"/>
<path d="M413.3,561.9 414.8,560.4 416.3,558.9 417.8,557.4 419.3,555.8 420.8,554.1 422.3,552.3 423.8,550.4 425.3,548.4 426.8,546.2 428.3,544.0 429.8,541.6 431.3,539.1 432.8,536.5 434.3,533.7 435.8,530.7 437.3,527.4 438.8,523.7 440.3,519.3 441.8,514.0 443.3,508.3 444.8,502.7 446.3,497.7 447.8,493.0 449.3,488.7 450.8,484.4 452.3,480.1 453.8,478.1 455.3,479.5 456.8,482.7 458.3,485.6 459.8,487.1 461.3,488.2 462.8,490.0 464.3,494.9 465.8,502.2 467.3,511.7 468.8,522.1 470.3,532.4 471.8,542.5 473.3,549.4 474.8,554.5 476.3,557.6 477.8,559.2 479.3,560.4 480.8,561.4 482.3,562.2 483.8,563.1 485.3,564.0 486.8,564.8 488.3,565.6 489.8,566.3 491.3,566.9 492.8,567.4 494.3,567.9 495.8,568.4 497.3,568.9 498.8,569.4 500.3,569.8 501.8,570.2 503.3,570.5 504.8,570.9 506.3,571.2 507.8,571.4 509.3,571.6 510.8,571.7 512.3,571.8 513.8,571.9 515.3,572.0 516.8,572.1 518.3,572.2 519.8,572.3 521.3,572.3 522.8,572.4 524.3,572.5 525.8,572.5 527.3,572.6 528.8,572.6 530.3,572.7 531.8,572.7 533.3,572.8 534.8,572.9 536.3,572.9 537.8,573.0 539.3,573.0 540.2,573.0" stroke="#F0A47E"/>
</g>
<rect x="413.3" y="456.6" width="126.9" height="117.0" fill="none" stroke="#2a2a2a" stroke-width="1.7"/>
<line x1="409.3" y1="573.6" x2="413.3" y2="573.6" stroke="#444" stroke-width="1.2"/>
<text x="402.8" y="577.9" class="tk" text-anchor="end">0.0</text>
<line x1="409.3" y1="534.6" x2="413.3" y2="534.6" stroke="#444" stroke-width="1.2"/>
<text x="402.8" y="538.9" class="tk" text-anchor="end">0.3</text>
<line x1="409.3" y1="495.6" x2="413.3" y2="495.6" stroke="#444" stroke-width="1.2"/>
<text x="402.8" y="499.9" class="tk" text-anchor="end">0.6</text>
<line x1="409.3" y1="456.6" x2="413.3" y2="456.6" stroke="#444" stroke-width="1.2"/>
<text x="402.8" y="460.9" class="tk" text-anchor="end">0.9</text>
<line x1="413.3" y1="573.6" x2="413.3" y2="577.6" stroke="#444" stroke-width="1.2"/>
<text x="413.3" y="592.1" class="tk" text-anchor="middle">325</text>
<line x1="454.3" y1="573.6" x2="454.3" y2="577.6" stroke="#444" stroke-width="1.2"/>
<text x="454.3" y="592.1" class="tk" text-anchor="middle">430</text>
<line x1="495.3" y1="573.6" x2="495.3" y2="577.6" stroke="#444" stroke-width="1.2"/>
<text x="495.3" y="592.1" class="tk" text-anchor="middle">535</text>
<line x1="536.3" y1="573.6" x2="536.3" y2="577.6" stroke="#444" stroke-width="1.2"/>
<text x="536.3" y="592.1" class="tk" text-anchor="middle">640</text>
<text x="419.6" y="473.2" class="lab">(C)</text>
<text x="510" y="493.7" class="an" text-anchor="middle">10.4 µM</text>
<path d="M504.8,505.7 L509.0,497.4 L513.2,505.7 Z" fill="#111"/>
<line x1="509" y1="505.2" x2="509" y2="523.3" stroke="#111" stroke-width="2"/>
<text x="509" y="538.1" class="an" text-anchor="middle">0</text>
<rect x="577.8" y="455.5" width="127.4" height="117.0" fill="#C9C9C9"/>
<rect x="579.3" y="457.0" width="124.4" height="114.0" fill="none" stroke="#D5D5D5" stroke-width="0.9"/>
<clipPath id="c11"><rect x="577.8" y="455.5" width="127.4" height="117.0"/></clipPath>
<g clip-path="url(#c11)" fill="none" stroke-width="2.3" stroke-linejoin="round">
<path d="M577.8,557.4 579.3,556.8 580.8,556.2 582.3,555.6 583.8,554.9 585.3,554.1 586.8,553.2 588.3,552.1 589.8,550.7 591.3,549.2 592.8,547.5 594.3,545.7 595.8,543.6 597.3,541.0 598.8,538.1 600.3,534.9 601.8,531.5 603.3,528.1 604.8,524.7 606.3,520.9 607.8,517.0 609.3,513.1 610.8,509.4 612.3,505.9 613.8,502.6 615.3,499.4 616.8,496.2 618.3,495.0 619.8,496.0 621.3,497.8 622.8,499.7 624.3,501.2 625.8,502.4 627.3,504.0 628.8,506.7 630.3,511.2 631.8,517.0 633.3,524.5 634.8,533.3 636.3,544.3 637.8,552.5 639.3,557.3 640.8,560.5 642.3,562.1 643.8,563.1 645.3,563.9 646.8,564.6 648.3,565.3 649.8,566.2 651.3,567.1 652.8,568.0 654.3,568.8 655.8,569.4 657.3,569.9 658.8,570.3 660.3,570.6 661.8,570.9 663.3,571.2 664.8,571.5 666.3,571.8 667.8,571.9 669.3,571.9 670.8,571.9 672.3,571.9 673.8,571.9 675.3,571.9 676.8,571.9 678.3,571.9 679.8,571.9 681.3,571.9 682.8,571.9 684.3,571.9 685.8,571.9 687.3,571.9 688.8,571.9 690.3,571.9 691.8,571.9 693.3,571.9 694.8,571.9 696.3,571.9 697.8,571.9 699.3,571.9 700.8,571.9 702.3,571.9 703.8,571.9 705.2,571.9" stroke="#2B3F86"/>
<path d="M577.8,557.6 579.3,556.9 580.8,556.2 582.3,555.6 583.8,554.8 585.3,554.0 586.8,553.0 588.3,551.9 589.8,550.5 591.3,549.0 592.8,547.3 594.3,545.4 595.8,543.3 597.3,540.7 598.8,537.8 600.3,534.6 601.8,531.3 603.3,527.9 604.8,524.4 606.3,520.6 607.8,516.6 609.3,512.6 610.8,508.9 612.3,505.2 613.8,501.7 615.3,498.4 616.8,495.1 618.3,493.9 619.8,494.9 621.3,496.7 622.8,498.7 624.3,500.2 625.8,501.4 627.3,503.0 628.8,505.8 630.3,510.4 631.8,516.4 633.3,524.1 634.8,532.9 636.3,544.0 637.8,552.2 639.3,557.1 640.8,560.4 642.3,561.9 643.8,563.0 645.3,563.8 646.8,564.5 648.3,565.2 649.8,566.0 651.3,566.9 652.8,567.8 654.3,568.6 655.8,569.2 657.3,569.7 658.8,570.1 660.3,570.4 661.8,570.7 663.3,571.1 664.8,571.4 666.3,571.6 667.8,571.8 669.3,571.9 670.8,571.9 672.3,571.9 673.8,571.9 675.3,571.9 676.8,571.9 678.3,571.9 679.8,571.9 681.3,571.9 682.8,571.9 684.3,571.9 685.8,571.9 687.3,571.9 688.8,571.9 690.3,571.9 691.8,571.9 693.3,571.9 694.8,571.9 696.3,571.9 697.8,571.9 699.3,571.9 700.8,571.9 702.3,571.9 703.8,571.9 705.2,571.9" stroke="#FF10C8"/>
<path d="M577.8,557.7 579.3,557.0 580.8,556.3 582.3,555.5 583.8,554.8 585.3,553.9 586.8,552.9 588.3,551.7 589.8,550.3 591.3,548.7 592.8,547.0 594.3,545.1 595.8,543.0 597.3,540.4 598.8,537.5 600.3,534.4 601.8,531.0 603.3,527.6 604.8,524.1 606.3,520.3 607.8,516.2 609.3,512.2 610.8,508.3 612.3,504.5 613.8,500.9 615.3,497.4 616.8,493.9 618.3,492.7 619.8,493.7 621.3,495.6 622.8,497.6 624.3,499.1 625.8,500.4 627.3,502.0 628.8,504.9 630.3,509.6 631.8,515.8 633.3,523.6 634.8,532.5 636.3,543.7 637.8,551.9 639.3,556.9 640.8,560.2 642.3,561.8 643.8,562.8 645.3,563.6 646.8,564.3 648.3,565.1 649.8,565.9 651.3,566.8 652.8,567.6 654.3,568.4 655.8,569.0 657.3,569.5 658.8,569.9 660.3,570.2 661.8,570.6 663.3,570.9 664.8,571.2 666.3,571.5 667.8,571.7 669.3,571.9 670.8,571.9 672.3,571.9 673.8,571.9 675.3,571.9 676.8,571.9 678.3,571.9 679.8,571.9 681.3,571.9 682.8,571.9 684.3,571.9 685.8,571.9 687.3,571.9 688.8,571.9 690.3,571.9 691.8,571.9 693.3,571.9 694.8,571.9 696.3,571.9 697.8,571.9 699.3,571.9 700.8,571.9 702.3,571.9 703.8,571.9 705.2,571.9" stroke="#E6DC10"/>
<path d="M577.8,557.8 579.3,557.0 580.8,556.3 582.3,555.5 583.8,554.7 585.3,553.8 586.8,552.7 588.3,551.5 589.8,550.1 591.3,548.5 592.8,546.7 594.3,544.8 595.8,542.7 597.3,540.2 598.8,537.2 600.3,534.1 601.8,530.7 603.3,527.3 604.8,523.8 606.3,519.9 607.8,515.9 609.3,511.8 610.8,507.8 612.3,503.9 613.8,500.1 615.3,496.5 616.8,492.8 618.3,491.5 619.8,492.6 621.3,494.5 622.8,496.6 624.3,498.1 625.8,499.4 627.3,501.1 628.8,504.0 630.3,508.9 631.8,515.2 633.3,523.1 634.8,532.2 636.3,543.4 637.8,551.7 639.3,556.7 640.8,560.1 642.3,561.7 643.8,562.7 645.3,563.5 646.8,564.2 648.3,564.9 649.8,565.8 651.3,566.6 652.8,567.4 654.3,568.2 655.8,568.8 657.3,569.3 658.8,569.7 660.3,570.0 661.8,570.4 663.3,570.7 664.8,571.0 666.3,571.3 667.8,571.6 669.3,571.8 670.8,571.9 672.3,571.9 673.8,571.9 675.3,571.9 676.8,571.9 678.3,571.9 679.8,571.9 681.3,571.9 682.8,571.9 684.3,571.9 685.8,571.9 687.3,571.9 688.8,571.9 690.3,571.9 691.8,571.9 693.3,571.9 694.8,571.9 696.3,571.9 697.8,571.9 699.3,571.9 700.8,571.9 702.3,571.9 703.8,571.9 705.2,571.9" stroke="#10E0E8"/>
<path d="M577.8,558.0 579.3,557.1 580.8,556.3 582.3,555.5 583.8,554.6 585.3,553.7 586.8,552.5 588.3,551.3 589.8,549.8 591.3,548.2 592.8,546.5 594.3,544.6 595.8,542.4 597.3,539.9 598.8,537.0 600.3,533.8 601.8,530.5 603.3,527.0 604.8,523.5 606.3,519.6 607.8,515.5 609.3,511.3 610.8,507.3 612.3,503.2 613.8,499.2 615.3,495.5 616.8,491.7 618.3,490.4 619.8,491.4 621.3,493.4 622.8,495.5 624.3,497.1 625.8,498.4 627.3,500.1 628.8,503.1 630.3,508.1 631.8,514.5 633.3,522.6 634.8,531.8 636.3,543.0 637.8,551.4 639.3,556.5 640.8,559.9 642.3,561.5 643.8,562.6 645.3,563.4 646.8,564.1 648.3,564.8 649.8,565.6 651.3,566.4 652.8,567.2 654.3,568.0 655.8,568.6 657.3,569.1 658.8,569.5 660.3,569.8 661.8,570.2 663.3,570.6 664.8,570.9 666.3,571.2 667.8,571.5 669.3,571.7 670.8,571.9 672.3,571.9 673.8,571.9 675.3,571.9 676.8,571.9 678.3,571.9 679.8,571.9 681.3,571.9 682.8,571.9 684.3,571.9 685.8,571.9 687.3,571.9 688.8,571.9 690.3,571.9 691.8,571.9 693.3,571.9 694.8,571.9 696.3,571.9 697.8,571.9 699.3,571.9 700.8,571.9 702.3,571.9 703.8,571.9 705.2,571.9" stroke="#80108A"/>
<path d="M577.8,558.1 579.3,557.2 580.8,556.4 582.3,555.5 583.8,554.6 585.3,553.5 586.8,552.4 588.3,551.1 589.8,549.6 591.3,548.0 592.8,546.2 594.3,544.3 595.8,542.1 597.3,539.6 598.8,536.7 600.3,533.5 601.8,530.2 603.3,526.8 604.8,523.2 606.3,519.3 607.8,515.1 609.3,510.9 610.8,506.7 612.3,502.5 613.8,498.4 615.3,494.5 616.8,490.6 618.3,489.2 619.8,490.3 621.3,492.3 622.8,494.5 624.3,496.1 625.8,497.4 627.3,499.1 628.8,502.1 630.3,507.3 631.8,513.9 633.3,522.1 634.8,531.4 636.3,542.7 637.8,551.2 639.3,556.3 640.8,559.8 642.3,561.4 643.8,562.5 645.3,563.3 646.8,564.0 648.3,564.7 649.8,565.5 651.3,566.3 652.8,567.0 654.3,567.8 655.8,568.4 657.3,568.9 658.8,569.3 660.3,569.6 661.8,570.0 663.3,570.4 664.8,570.7 666.3,571.1 667.8,571.4 669.3,571.6 670.8,571.8 672.3,571.9 673.8,571.9 675.3,571.9 676.8,571.9 678.3,571.9 679.8,571.9 681.3,571.9 682.8,571.9 684.3,571.9 685.8,571.9 687.3,571.9 688.8,571.9 690.3,571.9 691.8,571.9 693.3,571.9 694.8,571.9 696.3,571.9 697.8,571.9 699.3,571.9 700.8,571.9 702.3,571.9 703.8,571.9 705.2,571.9" stroke="#800000"/>
<path d="M577.8,558.3 579.3,557.3 580.8,556.4 582.3,555.5 583.8,554.5 585.3,553.4 586.8,552.2 588.3,550.9 589.8,549.4 591.3,547.8 592.8,546.0 594.3,544.0 595.8,541.8 597.3,539.3 598.8,536.4 600.3,533.3 601.8,529.9 603.3,526.5 604.8,522.9 606.3,518.9 607.8,514.7 609.3,510.4 610.8,506.2 612.3,501.9 613.8,497.6 615.3,493.5 616.8,489.4 618.3,488.0 619.8,489.1 621.3,491.2 622.8,493.4 624.3,495.1 625.8,496.4 627.3,498.2 628.8,501.2 630.3,506.5 631.8,513.3 633.3,521.7 634.8,531.1 636.3,542.4 637.8,550.9 639.3,556.1 640.8,559.7 642.3,561.2 643.8,562.3 645.3,563.1 646.8,563.8 648.3,564.5 649.8,565.3 651.3,566.1 652.8,566.9 654.3,567.6 655.8,568.2 657.3,568.6 658.8,569.1 660.3,569.5 661.8,569.9 663.3,570.2 664.8,570.6 666.3,570.9 667.8,571.2 669.3,571.5 670.8,571.7 672.3,571.9 673.8,571.9 675.3,571.9 676.8,571.9 678.3,571.9 679.8,571.9 681.3,571.9 682.8,571.9 684.3,571.9 685.8,571.9 687.3,571.9 688.8,571.9 690.3,571.9 691.8,571.9 693.3,571.9 694.8,571.9 696.3,571.9 697.8,571.9 699.3,571.9 700.8,571.9 702.3,571.9 703.8,571.9 705.2,571.9" stroke="#1E7A3C"/>
<path d="M577.8,558.4 579.3,557.4 580.8,556.4 582.3,555.5 583.8,554.4 585.3,553.3 586.8,552.0 588.3,550.7 589.8,549.2 591.3,547.5 592.8,545.7 594.3,543.7 595.8,541.6 597.3,539.0 598.8,536.1 600.3,533.0 601.8,529.7 603.3,526.2 604.8,522.6 606.3,518.6 607.8,514.4 609.3,510.0 610.8,505.7 612.3,501.2 613.8,496.7 615.3,492.5 616.8,488.3 618.3,486.9 619.8,488.0 621.3,490.1 622.8,492.4 624.3,494.1 625.8,495.4 627.3,497.2 628.8,500.3 630.3,505.8 631.8,512.7 633.3,521.2 634.8,530.7 636.3,542.1 637.8,550.6 639.3,555.9 640.8,559.5 642.3,561.1 643.8,562.2 645.3,563.0 646.8,563.7 648.3,564.4 649.8,565.2 651.3,566.0 652.8,566.7 654.3,567.4 655.8,567.9 657.3,568.4 658.8,568.9 660.3,569.3 661.8,569.7 663.3,570.1 664.8,570.4 666.3,570.8 667.8,571.1 669.3,571.4 670.8,571.6 672.3,571.8 673.8,571.9 675.3,571.9 676.8,571.9 678.3,571.9 679.8,571.9 681.3,571.9 682.8,571.9 684.3,571.9 685.8,571.9 687.3,571.9 688.8,571.9 690.3,571.9 691.8,571.9 693.3,571.9 694.8,571.9 696.3,571.9 697.8,571.9 699.3,571.9 700.8,571.9 702.3,571.9 703.8,571.9 705.2,571.9" stroke="#0A0AF0"/>
<path d="M577.8,558.5 579.3,557.5 580.8,556.5 582.3,555.4 583.8,554.4 585.3,553.2 586.8,551.9 588.3,550.5 589.8,548.9 591.3,547.3 592.8,545.5 594.3,543.5 595.8,541.3 597.3,538.7 598.8,535.8 600.3,532.7 601.8,529.4 603.3,525.9 604.8,522.3 606.3,518.3 607.8,514.0 609.3,509.5 610.8,505.1 612.3,500.5 613.8,495.9 615.3,491.6 616.8,487.2 618.3,485.7 619.8,486.9 621.3,489.0 622.8,491.4 624.3,493.1 625.8,494.4 627.3,496.2 628.8,499.4 630.3,505.0 631.8,512.0 633.3,520.7 634.8,530.3 636.3,541.8 637.8,550.4 639.3,555.7 640.8,559.4 642.3,561.0 643.8,562.1 645.3,562.9 646.8,563.6 648.3,564.3 649.8,565.0 651.3,565.8 652.8,566.5 654.3,567.2 655.8,567.7 657.3,568.2 658.8,568.6 660.3,569.1 661.8,569.5 663.3,569.9 664.8,570.3 666.3,570.7 667.8,571.0 669.3,571.3 670.8,571.5 672.3,571.7 673.8,571.9 675.3,571.9 676.8,571.9 678.3,571.9 679.8,571.9 681.3,571.9 682.8,571.9 684.3,571.9 685.8,571.9 687.3,571.9 688.8,571.9 690.3,571.9 691.8,571.9 693.3,571.9 694.8,571.9 696.3,571.9 697.8,571.9 699.3,571.9 700.8,571.9 702.3,571.9 703.8,571.9 705.2,571.9" stroke="#1CA8E0"/>
<path d="M577.8,558.7 579.3,557.6 580.8,556.5 582.3,555.4 583.8,554.3 585.3,553.1 586.8,551.7 588.3,550.3 589.8,548.7 591.3,547.0 592.8,545.2 594.3,543.2 595.8,541.0 597.3,538.4 598.8,535.6 600.3,532.4 601.8,529.1 603.3,525.7 604.8,522.0 606.3,518.0 607.8,513.6 609.3,509.1 610.8,504.6 612.3,499.8 613.8,495.0 615.3,490.6 616.8,486.1 618.3,484.5 619.8,485.7 621.3,487.9 622.8,490.3 624.3,492.0 625.8,493.4 627.3,495.2 628.8,498.5 630.3,504.2 631.8,511.4 633.3,520.2 634.8,530.0 636.3,541.5 637.8,550.1 639.3,555.5 640.8,559.2 642.3,560.8 643.8,561.9 645.3,562.8 646.8,563.5 648.3,564.1 649.8,564.9 651.3,565.6 652.8,566.3 654.3,567.0 655.8,567.5 657.3,568.0 658.8,568.4 660.3,568.9 661.8,569.3 663.3,569.7 664.8,570.1 666.3,570.5 667.8,570.9 669.3,571.2 670.8,571.4 672.3,571.6 673.8,571.8 675.3,571.9 676.8,571.9 678.3,571.9 679.8,571.9 681.3,571.9 682.8,571.9 684.3,571.9 685.8,571.9 687.3,571.9 688.8,571.9 690.3,571.9 691.8,571.9 693.3,571.9 694.8,571.9 696.3,571.9 697.8,571.9 699.3,571.9 700.8,571.9 702.3,571.9 703.8,571.9 705.2,571.9" stroke="#A6D4D8"/>
<path d="M577.8,558.8 579.3,557.7 580.8,556.5 582.3,555.4 583.8,554.2 585.3,552.9 586.8,551.5 588.3,550.1 589.8,548.5 591.3,546.8 592.8,544.9 594.3,542.9 595.8,540.7 597.3,538.1 598.8,535.3 600.3,532.2 601.8,528.9 603.3,525.4 604.8,521.7 606.3,517.6 607.8,513.2 609.3,508.7 610.8,504.0 612.3,499.2 613.8,494.2 615.3,489.6 616.8,485.0 618.3,483.4 619.8,484.6 621.3,486.9 622.8,489.3 624.3,491.0 625.8,492.4 627.3,494.3 628.8,497.6 630.3,503.5 631.8,510.8 633.3,519.8 634.8,529.6 636.3,541.2 637.8,549.8 639.3,555.4 640.8,559.1 642.3,560.7 643.8,561.8 645.3,562.6 646.8,563.3 648.3,564.0 649.8,564.8 651.3,565.5 652.8,566.1 654.3,566.8 655.8,567.3 657.3,567.8 658.8,568.2 660.3,568.7 661.8,569.1 663.3,569.6 664.8,570.0 666.3,570.4 667.8,570.7 669.3,571.1 670.8,571.3 672.3,571.6 673.8,571.7 675.3,571.8 676.8,571.9 678.3,571.9 679.8,571.9 681.3,571.9 682.8,571.9 684.3,571.9 685.8,571.9 687.3,571.9 688.8,571.9 690.3,571.9 691.8,571.9 693.3,571.9 694.8,571.9 696.3,571.9 697.8,571.9 699.3,571.9 700.8,571.9 702.3,571.9 703.8,571.9 705.2,571.9" stroke="#64DCB0"/>
<path d="M577.8,559.0 579.3,557.7 580.8,556.6 582.3,555.4 583.8,554.1 585.3,552.8 586.8,551.4 588.3,549.9 589.8,548.3 591.3,546.6 592.8,544.7 594.3,542.7 595.8,540.4 597.3,537.8 598.8,535.0 600.3,531.9 601.8,528.6 603.3,525.1 604.8,521.4 606.3,517.3 607.8,512.9 609.3,508.2 610.8,503.5 612.3,498.5 613.8,493.4 615.3,488.6 616.8,483.8 618.3,482.2 619.8,483.4 621.3,485.8 622.8,488.2 624.3,490.0 625.8,491.4 627.3,493.3 628.8,496.7 630.3,502.7 631.8,510.1 633.3,519.3 634.8,529.2 636.3,540.8 637.8,549.6 639.3,555.2 640.8,558.9 642.3,560.6 643.8,561.7 645.3,562.5 646.8,563.2 648.3,563.9 649.8,564.6 651.3,565.3 652.8,566.0 654.3,566.6 655.8,567.1 657.3,567.6 658.8,568.0 660.3,568.5 661.8,569.0 663.3,569.4 664.8,569.8 666.3,570.2 667.8,570.6 669.3,570.9 670.8,571.2 672.3,571.5 673.8,571.6 675.3,571.7 676.8,571.8 678.3,571.9 679.8,571.9 681.3,571.9 682.8,571.9 684.3,571.9 685.8,571.9 687.3,571.9 688.8,571.9 690.3,571.9 691.8,571.9 693.3,571.9 694.8,571.9 696.3,571.9 697.8,571.9 699.3,571.9 700.8,571.9 702.3,571.9 703.8,571.9 705.2,571.9" stroke="#D6CE70"/>
<path d="M577.8,559.1 579.3,557.8 580.8,556.6 582.3,555.4 583.8,554.1 585.3,552.7 586.8,551.2 588.3,549.7 589.8,548.0 591.3,546.3 592.8,544.4 594.3,542.4 595.8,540.1 597.3,537.5 598.8,534.7 600.3,531.6 601.8,528.3 603.3,524.8 604.8,521.1 606.3,517.0 607.8,512.5 609.3,507.8 610.8,503.0 612.3,497.8 613.8,492.5 615.3,487.6 616.8,482.7 618.3,481.0 619.8,482.3 621.3,484.7 622.8,487.2 624.3,489.0 625.8,490.5 627.3,492.3 628.8,495.8 630.3,501.9 631.8,509.5 633.3,518.8 634.8,528.9 636.3,540.5 637.8,549.3 639.3,555.0 640.8,558.8 642.3,560.4 643.8,561.6 645.3,562.4 646.8,563.1 648.3,563.8 649.8,564.5 651.3,565.1 652.8,565.8 654.3,566.4 655.8,566.9 657.3,567.4 658.8,567.8 660.3,568.3 661.8,568.8 663.3,569.2 664.8,569.7 666.3,570.1 667.8,570.5 669.3,570.8 670.8,571.1 672.3,571.4 673.8,571.6 675.3,571.7 676.8,571.7 678.3,571.8 679.8,571.9 681.3,571.9 682.8,571.9 684.3,571.9 685.8,571.9 687.3,571.9 688.8,571.9 690.3,571.9 691.8,571.9 693.3,571.9 694.8,571.9 696.3,571.9 697.8,571.9 699.3,571.9 700.8,571.9 702.3,571.9 703.8,571.9 705.2,571.9" stroke="#20B4F0"/>
<path d="M577.8,559.2 579.3,557.9 580.8,556.6 582.3,555.3 583.8,554.0 585.3,552.6 586.8,551.1 588.3,549.5 589.8,547.8 591.3,546.1 592.8,544.2 594.3,542.1 595.8,539.8 597.3,537.3 598.8,534.4 600.3,531.3 601.8,528.1 603.3,524.6 604.8,520.8 606.3,516.6 607.8,512.1 609.3,507.3 610.8,502.4 612.3,497.2 613.8,491.7 615.3,486.6 616.8,481.6 618.3,479.8 619.8,481.2 621.3,483.6 622.8,486.1 624.3,488.0 625.8,489.5 627.3,491.3 628.8,494.9 630.3,501.2 631.8,508.9 633.3,518.3 634.8,528.5 636.3,540.2 637.8,549.0 639.3,554.8 640.8,558.6 642.3,560.3 643.8,561.4 645.3,562.3 646.8,563.0 648.3,563.6 649.8,564.3 651.3,565.0 652.8,565.6 654.3,566.2 655.8,566.7 657.3,567.2 658.8,567.6 660.3,568.1 661.8,568.6 663.3,569.1 664.8,569.5 666.3,570.0 667.8,570.4 669.3,570.7 670.8,571.0 672.3,571.3 673.8,571.5 675.3,571.6 676.8,571.7 678.3,571.8 679.8,571.8 681.3,571.9 682.8,571.9 684.3,571.9 685.8,571.9 687.3,571.9 688.8,571.9 690.3,571.9 691.8,571.9 693.3,571.9 694.8,571.9 696.3,571.9 697.8,571.9 699.3,571.9 700.8,571.9 702.3,571.9 703.8,571.9 705.2,571.9" stroke="#F0A47E"/>
</g>
<rect x="577.8" y="455.5" width="127.4" height="117.0" fill="none" stroke="#2a2a2a" stroke-width="1.7"/>
<line x1="573.8" y1="572.5" x2="577.8" y2="572.5" stroke="#444" stroke-width="1.2"/>
<text x="567.3" y="576.8" class="tk" text-anchor="end">0.0</text>
<line x1="573.8" y1="533.5" x2="577.8" y2="533.5" stroke="#444" stroke-width="1.2"/>
<text x="567.3" y="537.8" class="tk" text-anchor="end">0.3</text>
<line x1="573.8" y1="494.5" x2="577.8" y2="494.5" stroke="#444" stroke-width="1.2"/>
<text x="567.3" y="498.8" class="tk" text-anchor="end">0.6</text>
<line x1="573.8" y1="455.5" x2="577.8" y2="455.5" stroke="#444" stroke-width="1.2"/>
<text x="567.3" y="459.8" class="tk" text-anchor="end">0.9</text>
<line x1="577.8" y1="572.5" x2="577.8" y2="576.5" stroke="#444" stroke-width="1.2"/>
<text x="577.8" y="591.0" class="tk" text-anchor="middle">325</text>
<line x1="619.0" y1="572.5" x2="619.0" y2="576.5" stroke="#444" stroke-width="1.2"/>
<text x="619.0" y="591.0" class="tk" text-anchor="middle">430</text>
<line x1="660.1" y1="572.5" x2="660.1" y2="576.5" stroke="#444" stroke-width="1.2"/>
<text x="660.1" y="591.0" class="tk" text-anchor="middle">535</text>
<line x1="701.3" y1="572.5" x2="701.3" y2="576.5" stroke="#444" stroke-width="1.2"/>
<text x="701.3" y="591.0" class="tk" text-anchor="middle">640</text>
<text x="583.7" y="472.3" class="lab">(D)</text>
<text x="677.7" y="492.7" class="an" text-anchor="middle">10.4 µM</text>
<path d="M672.6,504.8 L676.8,496.4 L681.0,504.8 Z" fill="#111"/>
<line x1="676.8" y1="504.3" x2="676.8" y2="522.4" stroke="#111" stroke-width="2"/>
<text x="676.8" y="538.1" class="an" text-anchor="middle">0</text>
<line x1="22.05" y1="8" x2="22.05" y2="602.5" stroke="#111" stroke-width="2.1"/>
<line x1="22.75" y1="601.5" x2="22.75" y2="734.6" stroke="#111" stroke-width="2.2"/>
<path d="M17.6,9.6 L21.95,1.0 L26.3,9.6 Z" fill="#111"/>
<line x1="21.0" y1="601.95" x2="713" y2="601.95" stroke="#111" stroke-width="2.2"/>
<path d="M712.4,597.6 L721,601.95 L712.4,606.3 Z" fill="#111"/>
<line x1="21.6" y1="733.4" x2="727.6" y2="733.4" stroke="#111" stroke-width="2.5"/>
<text x="0" y="0" class="ax" transform="translate(15.0,319.5) rotate(-90)" text-anchor="middle">Absorbance</text>
<text x="370.5" y="624" class="ax" text-anchor="middle">Wavelength (nm)</text>
<line x1="42.5" y1="652.1" x2="69.8" y2="652.1" stroke="#2B3F86" stroke-width="2.3"/>
<text x="75.6" y="656.7" class="lg">Blank</text>
<line x1="42.3" y1="677.9" x2="69.6" y2="677.9" stroke="#FF10C8" stroke-width="2.3"/>
<text x="74.2" y="682.2" class="lg">0.8 µM</text>
<line x1="147.7" y1="677.9" x2="175.0" y2="677.9" stroke="#E6DC10" stroke-width="2.3"/>
<text x="180.4" y="682.2" class="lg">1.6 µM</text>
<line x1="262.0" y1="677.9" x2="289.3" y2="677.9" stroke="#10E0E8" stroke-width="2.3"/>
<text x="296.8" y="682.2" class="lg">2.4 µM</text>
<line x1="369.9" y1="677.9" x2="397.2" y2="677.9" stroke="#80108A" stroke-width="2.3"/>
<text x="404.1" y="682.2" class="lg">3.2 µM</text>
<line x1="476.3" y1="677.9" x2="503.6" y2="677.9" stroke="#800000" stroke-width="2.3"/>
<text x="510.5" y="682.2" class="lg">4 µM</text>
<line x1="580.4" y1="677.9" x2="607.7" y2="677.9" stroke="#1E7A3C" stroke-width="2.3"/>
<text x="611.5" y="682.2" class="lg">4.8 µM</text>
<line x1="42.3" y1="698.9" x2="69.6" y2="698.9" stroke="#0A0AF0" stroke-width="2.3"/>
<text x="74.2" y="701.3" class="lg">5.6 µM</text>
<line x1="147.7" y1="698.9" x2="175.0" y2="698.9" stroke="#1CA8E0" stroke-width="2.3"/>
<text x="180.4" y="701.3" class="lg">6.4 µM</text>
<line x1="262.0" y1="698.9" x2="289.3" y2="698.9" stroke="#A6D4D8" stroke-width="2.3"/>
<text x="296.8" y="701.3" class="lg">7.2 µM</text>
<line x1="369.9" y1="698.9" x2="397.2" y2="698.9" stroke="#64DCB0" stroke-width="2.3"/>
<text x="404.1" y="701.3" class="lg">8 µM</text>
<line x1="476.3" y1="698.9" x2="503.6" y2="698.9" stroke="#D6CE70" stroke-width="2.3"/>
<text x="510.5" y="701.3" class="lg">8.8 µM</text>
<line x1="580.4" y1="698.9" x2="607.7" y2="698.9" stroke="#20B4F0" stroke-width="2.3"/>
<text x="611.5" y="701.3" class="lg">9.6 µM</text>
<line x1="41.5" y1="717.4" x2="68.8" y2="717.4" stroke="#F0A47E" stroke-width="2.3"/>
<text x="75.0" y="719.9" class="lg">I0.4 µM</text>
</svg>
</body></html>
